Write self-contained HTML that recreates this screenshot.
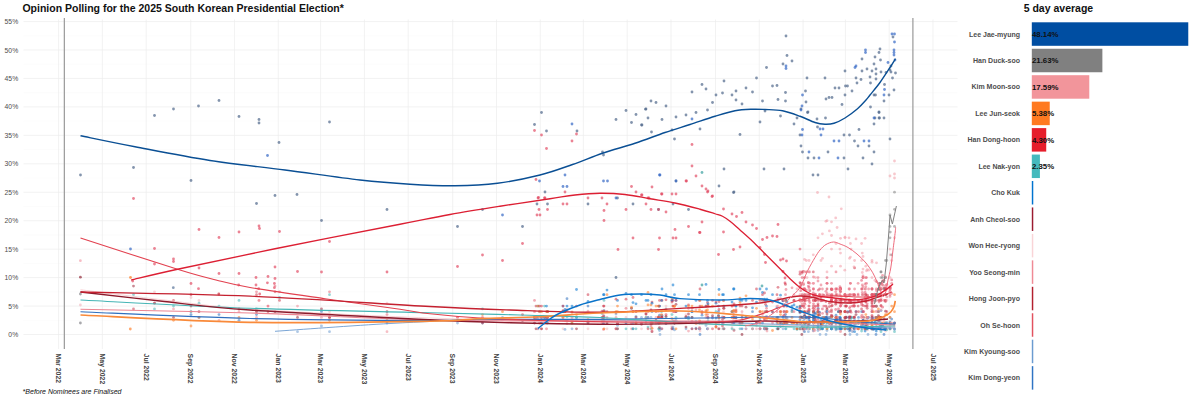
<!DOCTYPE html><html><head><meta charset="utf-8"><style>html,body{margin:0;padding:0;background:#fff}body{width:1200px;height:400px;overflow:hidden;position:relative}</style></head><body><svg width="1200" height="400" viewBox="0 0 1200 400" style="position:absolute;left:0;top:0;font-family:'Liberation Sans',sans-serif">
<rect width="1200" height="400" fill="#fff"/>
<path d="M23.5 320.27H957.5M23.5 291.82H957.5M23.5 263.38H957.5M23.5 234.93H957.5M23.5 206.47H957.5M23.5 178.02H957.5M23.5 149.57H957.5M23.5 121.12H957.5M23.5 92.67H957.5M23.5 64.22H957.5M23.5 35.77H957.5" stroke="#f8f8f8" stroke-width="0.5" fill="none"/>
<path d="M23.5 334.50H957.5M23.5 306.05H957.5M23.5 277.60H957.5M23.5 249.15H957.5M23.5 220.70H957.5M23.5 192.25H957.5M23.5 163.80H957.5M23.5 135.35H957.5M23.5 106.90H957.5M23.5 78.45H957.5M23.5 50.00H957.5M23.5 21.55H957.5M58.60 19.5V349M102.39 19.5V349M146.18 19.5V349M190.69 19.5V349M234.49 19.5V349M278.28 19.5V349M320.63 19.5V349M364.43 19.5V349M408.22 19.5V349M452.73 19.5V349M496.52 19.5V349M540.31 19.5V349M583.38 19.5V349M627.18 19.5V349M670.97 19.5V349M715.48 19.5V349M759.27 19.5V349M803.06 19.5V349M845.42 19.5V349M889.21 19.5V349M933.00 19.5V349" stroke="#ededed" stroke-width="0.7" fill="none"/>
<path d="M64.34 18V349" stroke="#999" stroke-width="1.2" fill="none"/>
<path d="M912.90 18V349" stroke="#999" stroke-width="1.2" fill="none"/>
<text x="18.2" y="337.00" font-size="6.8" fill="#4d4d4d" text-anchor="end">0%</text>
<text x="18.2" y="308.55" font-size="6.8" fill="#4d4d4d" text-anchor="end">5%</text>
<text x="18.2" y="280.10" font-size="6.8" fill="#4d4d4d" text-anchor="end">10%</text>
<text x="18.2" y="251.65" font-size="6.8" fill="#4d4d4d" text-anchor="end">15%</text>
<text x="18.2" y="223.20" font-size="6.8" fill="#4d4d4d" text-anchor="end">20%</text>
<text x="18.2" y="194.75" font-size="6.8" fill="#4d4d4d" text-anchor="end">25%</text>
<text x="18.2" y="166.30" font-size="6.8" fill="#4d4d4d" text-anchor="end">30%</text>
<text x="18.2" y="137.85" font-size="6.8" fill="#4d4d4d" text-anchor="end">35%</text>
<text x="18.2" y="109.40" font-size="6.8" fill="#4d4d4d" text-anchor="end">40%</text>
<text x="18.2" y="80.95" font-size="6.8" fill="#4d4d4d" text-anchor="end">45%</text>
<text x="18.2" y="52.50" font-size="6.8" fill="#4d4d4d" text-anchor="end">50%</text>
<text x="18.2" y="24.05" font-size="6.8" fill="#4d4d4d" text-anchor="end">55%</text>
<text transform="translate(56.30 353.6) rotate(90)" font-size="6.9" font-weight="bold" fill="#444">Mar 2022</text>
<text transform="translate(100.09 353.6) rotate(90)" font-size="6.9" font-weight="bold" fill="#444">May 2022</text>
<text transform="translate(143.88 353.6) rotate(90)" font-size="6.9" font-weight="bold" fill="#444">Jul 2022</text>
<text transform="translate(188.39 353.6) rotate(90)" font-size="6.9" font-weight="bold" fill="#444">Sep 2022</text>
<text transform="translate(232.19 353.6) rotate(90)" font-size="6.9" font-weight="bold" fill="#444">Nov 2022</text>
<text transform="translate(275.98 353.6) rotate(90)" font-size="6.9" font-weight="bold" fill="#444">Jan 2023</text>
<text transform="translate(318.33 353.6) rotate(90)" font-size="6.9" font-weight="bold" fill="#444">Mar 2023</text>
<text transform="translate(362.13 353.6) rotate(90)" font-size="6.9" font-weight="bold" fill="#444">May 2023</text>
<text transform="translate(405.92 353.6) rotate(90)" font-size="6.9" font-weight="bold" fill="#444">Jul 2023</text>
<text transform="translate(450.43 353.6) rotate(90)" font-size="6.9" font-weight="bold" fill="#444">Sep 2023</text>
<text transform="translate(494.22 353.6) rotate(90)" font-size="6.9" font-weight="bold" fill="#444">Nov 2023</text>
<text transform="translate(538.01 353.6) rotate(90)" font-size="6.9" font-weight="bold" fill="#444">Jan 2024</text>
<text transform="translate(581.08 353.6) rotate(90)" font-size="6.9" font-weight="bold" fill="#444">Mar 2024</text>
<text transform="translate(624.88 353.6) rotate(90)" font-size="6.9" font-weight="bold" fill="#444">May 2024</text>
<text transform="translate(668.67 353.6) rotate(90)" font-size="6.9" font-weight="bold" fill="#444">Jul 2024</text>
<text transform="translate(713.18 353.6) rotate(90)" font-size="6.9" font-weight="bold" fill="#444">Sep 2024</text>
<text transform="translate(756.97 353.6) rotate(90)" font-size="6.9" font-weight="bold" fill="#444">Nov 2024</text>
<text transform="translate(800.76 353.6) rotate(90)" font-size="6.9" font-weight="bold" fill="#444">Jan 2025</text>
<text transform="translate(843.12 353.6) rotate(90)" font-size="6.9" font-weight="bold" fill="#444">Mar 2025</text>
<text transform="translate(886.91 353.6) rotate(90)" font-size="6.9" font-weight="bold" fill="#444">May 2025</text>
<text transform="translate(930.70 353.6) rotate(90)" font-size="6.9" font-weight="bold" fill="#444">Jul 2025</text>
<text x="22.4" y="11.8" font-size="10.5" font-weight="bold" fill="#111">Opinion Polling for the 2025 South Korean Presidential Election*</text>
<text x="22.6" y="394.1" font-size="7" font-style="italic" fill="#111">*Before Nominees are Finalised</text>
<text x="1023.7" y="11.8" font-size="10.5" font-weight="bold" fill="#111">5 day average</text>
<rect x="1031.8" y="22.30" width="156.47" height="23.5" fill="#004ea2"/>
<text x="1020" y="36.55" font-size="7" font-weight="bold" fill="#4d4d4d" text-anchor="end">Lee Jae-myung</text>
<text x="1032" y="36.95" font-size="7.8" font-weight="bold" fill="#111">48.14%</text>
<rect x="1031.8" y="48.75" width="70.58" height="23.5" fill="#808080"/>
<text x="1020" y="63.00" font-size="7" font-weight="bold" fill="#4d4d4d" text-anchor="end">Han Duck-soo</text>
<text x="1032" y="63.40" font-size="7.8" font-weight="bold" fill="#111">21.63%</text>
<rect x="1031.8" y="75.20" width="57.49" height="23.5" fill="#f2959b"/>
<text x="1020" y="89.45" font-size="7" font-weight="bold" fill="#4d4d4d" text-anchor="end">Kim Moon-soo</text>
<text x="1032" y="89.85" font-size="7.8" font-weight="bold" fill="#111">17.59%</text>
<rect x="1031.8" y="101.65" width="17.93" height="23.5" fill="#ff7a21"/>
<text x="1020" y="115.90" font-size="7" font-weight="bold" fill="#4d4d4d" text-anchor="end">Lee Jun-seok</text>
<text x="1032" y="116.30" font-size="7.8" font-weight="bold" fill="#111">5.38%</text>
<rect x="1031.8" y="128.10" width="14.43" height="23.5" fill="#e61e2b"/>
<text x="1020" y="142.35" font-size="7" font-weight="bold" fill="#4d4d4d" text-anchor="end">Han Dong-hoon</text>
<text x="1032" y="142.75" font-size="7.8" font-weight="bold" fill="#111">4.30%</text>
<rect x="1031.8" y="154.55" width="8.11" height="23.5" fill="#45babd"/>
<text x="1020" y="168.80" font-size="7" font-weight="bold" fill="#4d4d4d" text-anchor="end">Lee Nak-yon</text>
<text x="1032" y="169.20" font-size="7.8" font-weight="bold" fill="#111">2.35%</text>
<rect x="1031.8" y="181.00" width="1.47" height="23.5" fill="#0073cf"/>
<text x="1020" y="195.25" font-size="7" font-weight="bold" fill="#4d4d4d" text-anchor="end">Cho Kuk</text>
<rect x="1031.8" y="207.45" width="1.47" height="23.5" fill="#9b1b30"/>
<text x="1020" y="221.70" font-size="7" font-weight="bold" fill="#4d4d4d" text-anchor="end">Anh Cheol-soo</text>
<rect x="1031.8" y="233.90" width="1.47" height="23.5" fill="#f9d4d7"/>
<text x="1020" y="248.15" font-size="7" font-weight="bold" fill="#4d4d4d" text-anchor="end">Won Hee-ryong</text>
<rect x="1031.8" y="260.35" width="1.47" height="23.5" fill="#ef8a95"/>
<text x="1020" y="274.60" font-size="7" font-weight="bold" fill="#4d4d4d" text-anchor="end">Yoo Seong-min</text>
<rect x="1031.8" y="286.80" width="1.47" height="23.5" fill="#b3202f"/>
<text x="1020" y="301.05" font-size="7" font-weight="bold" fill="#4d4d4d" text-anchor="end">Hong Joon-pyo</text>
<rect x="1031.8" y="313.25" width="1.47" height="23.5" fill="#e2525f"/>
<text x="1020" y="327.50" font-size="7" font-weight="bold" fill="#4d4d4d" text-anchor="end">Oh Se-hoon</text>
<rect x="1031.8" y="339.70" width="1.47" height="23.5" fill="#6b9bd0"/>
<text x="1020" y="353.95" font-size="7" font-weight="bold" fill="#4d4d4d" text-anchor="end">Kim Kyoung-soo</text>
<rect x="1031.8" y="366.15" width="1.47" height="23.5" fill="#2f74c4"/>
<text x="1020" y="380.40" font-size="7" font-weight="bold" fill="#4d4d4d" text-anchor="end">Kim Dong-yeon</text>
<!--DOTS-->
<circle cx="80.5" cy="175.0" r="1.4" fill="#536b8e" fill-opacity="0.72"/><circle cx="133.5" cy="167.5" r="1.4" fill="#536b8e" fill-opacity="0.72"/><circle cx="154.5" cy="115.5" r="1.4" fill="#536b8e" fill-opacity="0.72"/><circle cx="173.5" cy="109.0" r="1.4" fill="#536b8e" fill-opacity="0.72"/><circle cx="198.5" cy="106.0" r="1.4" fill="#536b8e" fill-opacity="0.72"/><circle cx="219.0" cy="100.5" r="1.4" fill="#536b8e" fill-opacity="0.72"/><circle cx="239.0" cy="116.5" r="1.4" fill="#536b8e" fill-opacity="0.72"/><circle cx="259.0" cy="119.5" r="1.4" fill="#536b8e" fill-opacity="0.72"/><circle cx="259.0" cy="123.0" r="1.4" fill="#536b8e" fill-opacity="0.72"/><circle cx="279.0" cy="142.5" r="1.4" fill="#536b8e" fill-opacity="0.72"/><circle cx="191.0" cy="180.5" r="1.4" fill="#536b8e" fill-opacity="0.72"/><circle cx="275.0" cy="195.5" r="1.4" fill="#536b8e" fill-opacity="0.72"/><circle cx="297.0" cy="194.5" r="1.4" fill="#536b8e" fill-opacity="0.72"/><circle cx="329.5" cy="122.0" r="1.4" fill="#536b8e" fill-opacity="0.72"/><circle cx="256.5" cy="203.5" r="1.4" fill="#536b8e" fill-opacity="0.72"/><circle cx="321.5" cy="220.5" r="1.4" fill="#536b8e" fill-opacity="0.72"/><circle cx="387.0" cy="209.5" r="1.4" fill="#536b8e" fill-opacity="0.72"/><circle cx="534.5" cy="124.5" r="1.4" fill="#536b8e" fill-opacity="0.72"/><circle cx="541.5" cy="112.5" r="1.4" fill="#536b8e" fill-opacity="0.72"/><circle cx="546.5" cy="131.0" r="1.4" fill="#536b8e" fill-opacity="0.72"/><circle cx="577.0" cy="131.0" r="1.4" fill="#536b8e" fill-opacity="0.72"/><circle cx="602.5" cy="152.0" r="1.4" fill="#536b8e" fill-opacity="0.72"/><circle cx="603.5" cy="155.0" r="1.4" fill="#536b8e" fill-opacity="0.72"/><circle cx="616.0" cy="119.5" r="1.4" fill="#536b8e" fill-opacity="0.72"/><circle cx="626.0" cy="110.5" r="1.4" fill="#536b8e" fill-opacity="0.72"/><circle cx="631.5" cy="122.5" r="1.4" fill="#536b8e" fill-opacity="0.72"/><circle cx="636.0" cy="114.5" r="1.4" fill="#536b8e" fill-opacity="0.72"/><circle cx="641.5" cy="125.0" r="1.4" fill="#536b8e" fill-opacity="0.72"/><circle cx="646.0" cy="109.0" r="1.4" fill="#536b8e" fill-opacity="0.72"/><circle cx="648.0" cy="118.0" r="1.4" fill="#536b8e" fill-opacity="0.72"/><circle cx="651.0" cy="101.0" r="1.4" fill="#536b8e" fill-opacity="0.72"/><circle cx="651.5" cy="132.0" r="1.4" fill="#536b8e" fill-opacity="0.72"/><circle cx="545.0" cy="192.0" r="1.4" fill="#536b8e" fill-opacity="0.72"/><circle cx="457.5" cy="226.5" r="1.4" fill="#536b8e" fill-opacity="0.72"/><circle cx="482.5" cy="209.5" r="1.4" fill="#536b8e" fill-opacity="0.72"/><circle cx="522.5" cy="226.5" r="1.4" fill="#536b8e" fill-opacity="0.72"/><circle cx="537.0" cy="204.0" r="1.4" fill="#536b8e" fill-opacity="0.72"/><circle cx="547.5" cy="204.0" r="1.4" fill="#536b8e" fill-opacity="0.72"/><circle cx="588.0" cy="204.0" r="1.4" fill="#536b8e" fill-opacity="0.72"/><circle cx="617.5" cy="198.0" r="1.4" fill="#536b8e" fill-opacity="0.72"/><circle cx="633.0" cy="204.0" r="1.4" fill="#536b8e" fill-opacity="0.72"/><circle cx="658.5" cy="209.5" r="1.4" fill="#536b8e" fill-opacity="0.72"/><circle cx="673.0" cy="204.0" r="1.4" fill="#536b8e" fill-opacity="0.72"/><circle cx="676.0" cy="181.0" r="1.4" fill="#536b8e" fill-opacity="0.72"/><circle cx="688.5" cy="209.5" r="1.4" fill="#536b8e" fill-opacity="0.72"/><circle cx="616.0" cy="277.5" r="1.4" fill="#536b8e" fill-opacity="0.72"/><circle cx="645.5" cy="109.2" r="1.4" fill="#536b8e" fill-opacity="0.72"/><circle cx="656.0" cy="102.5" r="1.4" fill="#536b8e" fill-opacity="0.72"/><circle cx="662.0" cy="119.5" r="1.4" fill="#536b8e" fill-opacity="0.72"/><circle cx="666.0" cy="106.0" r="1.4" fill="#536b8e" fill-opacity="0.72"/><circle cx="676.0" cy="117.0" r="1.4" fill="#536b8e" fill-opacity="0.72"/><circle cx="686.0" cy="115.0" r="1.4" fill="#536b8e" fill-opacity="0.72"/><circle cx="692.0" cy="92.0" r="1.4" fill="#536b8e" fill-opacity="0.72"/><circle cx="696.0" cy="112.5" r="1.4" fill="#536b8e" fill-opacity="0.72"/><circle cx="702.0" cy="84.5" r="1.4" fill="#536b8e" fill-opacity="0.72"/><circle cx="706.0" cy="89.0" r="1.4" fill="#536b8e" fill-opacity="0.72"/><circle cx="707.5" cy="110.0" r="1.4" fill="#536b8e" fill-opacity="0.72"/><circle cx="712.5" cy="102.5" r="1.4" fill="#536b8e" fill-opacity="0.72"/><circle cx="716.0" cy="95.0" r="1.4" fill="#536b8e" fill-opacity="0.72"/><circle cx="722.5" cy="93.0" r="1.4" fill="#536b8e" fill-opacity="0.72"/><circle cx="724.0" cy="81.0" r="1.4" fill="#536b8e" fill-opacity="0.72"/><circle cx="732.0" cy="95.0" r="1.4" fill="#536b8e" fill-opacity="0.72"/><circle cx="736.0" cy="91.0" r="1.4" fill="#536b8e" fill-opacity="0.72"/><circle cx="736.0" cy="100.0" r="1.4" fill="#536b8e" fill-opacity="0.72"/><circle cx="742.0" cy="104.0" r="1.4" fill="#536b8e" fill-opacity="0.72"/><circle cx="746.0" cy="88.0" r="1.4" fill="#536b8e" fill-opacity="0.72"/><circle cx="752.5" cy="92.0" r="1.4" fill="#536b8e" fill-opacity="0.72"/><circle cx="756.5" cy="78.0" r="1.4" fill="#536b8e" fill-opacity="0.72"/><circle cx="762.5" cy="101.0" r="1.4" fill="#536b8e" fill-opacity="0.72"/><circle cx="765.0" cy="111.0" r="1.4" fill="#536b8e" fill-opacity="0.72"/><circle cx="766.5" cy="67.5" r="1.4" fill="#536b8e" fill-opacity="0.72"/><circle cx="772.5" cy="86.0" r="1.4" fill="#536b8e" fill-opacity="0.72"/><circle cx="777.0" cy="85.5" r="1.4" fill="#536b8e" fill-opacity="0.72"/><circle cx="778.0" cy="99.5" r="1.4" fill="#536b8e" fill-opacity="0.72"/><circle cx="780.5" cy="116.0" r="1.4" fill="#536b8e" fill-opacity="0.72"/><circle cx="783.0" cy="64.0" r="1.4" fill="#536b8e" fill-opacity="0.72"/><circle cx="786.0" cy="36.0" r="1.4" fill="#536b8e" fill-opacity="0.72"/><circle cx="787.0" cy="55.5" r="1.4" fill="#536b8e" fill-opacity="0.72"/><circle cx="792.0" cy="61.0" r="1.4" fill="#536b8e" fill-opacity="0.72"/><circle cx="785.5" cy="92.5" r="1.4" fill="#536b8e" fill-opacity="0.72"/><circle cx="785.5" cy="101.0" r="1.4" fill="#536b8e" fill-opacity="0.72"/><circle cx="797.0" cy="118.0" r="1.4" fill="#536b8e" fill-opacity="0.72"/><circle cx="805.5" cy="91.0" r="1.4" fill="#536b8e" fill-opacity="0.72"/><circle cx="806.0" cy="102.0" r="1.4" fill="#536b8e" fill-opacity="0.72"/><circle cx="807.0" cy="78.0" r="1.4" fill="#536b8e" fill-opacity="0.72"/><circle cx="801.0" cy="109.0" r="1.4" fill="#536b8e" fill-opacity="0.72"/><circle cx="807.5" cy="112.5" r="1.4" fill="#536b8e" fill-opacity="0.72"/><circle cx="817.0" cy="119.0" r="1.4" fill="#536b8e" fill-opacity="0.72"/><circle cx="825.0" cy="78.0" r="1.4" fill="#536b8e" fill-opacity="0.72"/><circle cx="825.5" cy="118.0" r="1.4" fill="#536b8e" fill-opacity="0.72"/><circle cx="826.0" cy="99.0" r="1.4" fill="#536b8e" fill-opacity="0.72"/><circle cx="829.0" cy="97.5" r="1.4" fill="#536b8e" fill-opacity="0.72"/><circle cx="832.0" cy="97.5" r="1.4" fill="#536b8e" fill-opacity="0.72"/><circle cx="835.0" cy="88.0" r="1.4" fill="#536b8e" fill-opacity="0.72"/><circle cx="839.0" cy="88.0" r="1.4" fill="#536b8e" fill-opacity="0.72"/><circle cx="842.0" cy="104.5" r="1.4" fill="#536b8e" fill-opacity="0.72"/><circle cx="845.0" cy="95.0" r="1.4" fill="#536b8e" fill-opacity="0.72"/><circle cx="845.0" cy="71.0" r="1.4" fill="#536b8e" fill-opacity="0.72"/><circle cx="845.5" cy="86.0" r="1.4" fill="#536b8e" fill-opacity="0.72"/><circle cx="847.5" cy="86.0" r="1.4" fill="#536b8e" fill-opacity="0.72"/><circle cx="852.0" cy="91.0" r="1.4" fill="#536b8e" fill-opacity="0.72"/><circle cx="856.0" cy="78.0" r="1.4" fill="#536b8e" fill-opacity="0.72"/><circle cx="857.0" cy="83.0" r="1.4" fill="#536b8e" fill-opacity="0.72"/><circle cx="861.0" cy="79.5" r="1.4" fill="#536b8e" fill-opacity="0.72"/><circle cx="862.0" cy="71.0" r="1.4" fill="#536b8e" fill-opacity="0.72"/><circle cx="862.0" cy="59.0" r="1.4" fill="#536b8e" fill-opacity="0.72"/><circle cx="867.0" cy="69.0" r="1.4" fill="#536b8e" fill-opacity="0.72"/><circle cx="870.0" cy="77.0" r="1.4" fill="#536b8e" fill-opacity="0.72"/><circle cx="870.5" cy="83.0" r="1.4" fill="#536b8e" fill-opacity="0.72"/><circle cx="870.5" cy="107.0" r="1.4" fill="#536b8e" fill-opacity="0.72"/><circle cx="872.0" cy="71.0" r="1.4" fill="#536b8e" fill-opacity="0.72"/><circle cx="874.0" cy="64.0" r="1.4" fill="#536b8e" fill-opacity="0.72"/><circle cx="875.0" cy="57.0" r="1.4" fill="#536b8e" fill-opacity="0.72"/><circle cx="876.0" cy="74.0" r="1.4" fill="#536b8e" fill-opacity="0.72"/><circle cx="876.0" cy="69.0" r="1.4" fill="#536b8e" fill-opacity="0.72"/><circle cx="876.0" cy="79.0" r="1.4" fill="#536b8e" fill-opacity="0.72"/><circle cx="874.0" cy="95.0" r="1.4" fill="#536b8e" fill-opacity="0.72"/><circle cx="875.5" cy="95.0" r="1.4" fill="#536b8e" fill-opacity="0.72"/><circle cx="879.0" cy="52.5" r="1.4" fill="#536b8e" fill-opacity="0.72"/><circle cx="880.0" cy="49.0" r="1.4" fill="#536b8e" fill-opacity="0.72"/><circle cx="880.5" cy="60.0" r="1.4" fill="#536b8e" fill-opacity="0.72"/><circle cx="881.0" cy="72.0" r="1.4" fill="#536b8e" fill-opacity="0.72"/><circle cx="879.0" cy="112.5" r="1.4" fill="#536b8e" fill-opacity="0.72"/><circle cx="875.0" cy="118.0" r="1.4" fill="#536b8e" fill-opacity="0.72"/><circle cx="879.5" cy="118.0" r="1.4" fill="#536b8e" fill-opacity="0.72"/><circle cx="884.0" cy="118.0" r="1.4" fill="#536b8e" fill-opacity="0.72"/><circle cx="884.0" cy="101.0" r="1.4" fill="#536b8e" fill-opacity="0.72"/><circle cx="884.5" cy="84.5" r="1.4" fill="#536b8e" fill-opacity="0.72"/><circle cx="886.0" cy="72.5" r="1.4" fill="#536b8e" fill-opacity="0.72"/><circle cx="889.0" cy="95.0" r="1.4" fill="#536b8e" fill-opacity="0.72"/><circle cx="890.0" cy="70.0" r="1.4" fill="#536b8e" fill-opacity="0.72"/><circle cx="891.0" cy="66.0" r="1.4" fill="#536b8e" fill-opacity="0.72"/><circle cx="893.0" cy="37.0" r="1.4" fill="#536b8e" fill-opacity="0.72"/><circle cx="892.5" cy="78.0" r="1.4" fill="#536b8e" fill-opacity="0.72"/><circle cx="895.5" cy="73.0" r="1.4" fill="#536b8e" fill-opacity="0.72"/><circle cx="894.0" cy="90.0" r="1.4" fill="#536b8e" fill-opacity="0.72"/><circle cx="891.0" cy="72.0" r="1.4" fill="#536b8e" fill-opacity="0.72"/><circle cx="642.0" cy="125.0" r="1.4" fill="#536b8e" fill-opacity="0.72"/><circle cx="672.0" cy="130.0" r="1.4" fill="#536b8e" fill-opacity="0.72"/><circle cx="674.5" cy="139.0" r="1.4" fill="#536b8e" fill-opacity="0.72"/><circle cx="700.0" cy="129.0" r="1.4" fill="#536b8e" fill-opacity="0.72"/><circle cx="740.0" cy="134.5" r="1.4" fill="#536b8e" fill-opacity="0.72"/><circle cx="760.0" cy="122.0" r="1.4" fill="#536b8e" fill-opacity="0.72"/><circle cx="794.0" cy="124.0" r="1.4" fill="#536b8e" fill-opacity="0.72"/><circle cx="800.0" cy="135.0" r="1.4" fill="#536b8e" fill-opacity="0.72"/><circle cx="801.0" cy="146.0" r="1.4" fill="#536b8e" fill-opacity="0.72"/><circle cx="802.5" cy="152.0" r="1.4" fill="#536b8e" fill-opacity="0.72"/><circle cx="808.0" cy="112.0" r="1.4" fill="#536b8e" fill-opacity="0.72"/><circle cx="808.0" cy="158.0" r="1.4" fill="#536b8e" fill-opacity="0.72"/><circle cx="814.0" cy="158.0" r="1.4" fill="#536b8e" fill-opacity="0.72"/><circle cx="813.0" cy="175.0" r="1.4" fill="#536b8e" fill-opacity="0.72"/><circle cx="818.0" cy="175.0" r="1.4" fill="#536b8e" fill-opacity="0.72"/><circle cx="817.5" cy="127.0" r="1.4" fill="#536b8e" fill-opacity="0.72"/><circle cx="828.0" cy="152.0" r="1.4" fill="#536b8e" fill-opacity="0.72"/><circle cx="844.0" cy="158.0" r="1.4" fill="#536b8e" fill-opacity="0.72"/><circle cx="844.0" cy="135.0" r="1.4" fill="#536b8e" fill-opacity="0.72"/><circle cx="849.5" cy="135.0" r="1.4" fill="#536b8e" fill-opacity="0.72"/><circle cx="848.0" cy="169.0" r="1.4" fill="#536b8e" fill-opacity="0.72"/><circle cx="854.5" cy="141.0" r="1.4" fill="#536b8e" fill-opacity="0.72"/><circle cx="858.0" cy="146.0" r="1.4" fill="#536b8e" fill-opacity="0.72"/><circle cx="859.0" cy="129.5" r="1.4" fill="#536b8e" fill-opacity="0.72"/><circle cx="863.0" cy="158.0" r="1.4" fill="#536b8e" fill-opacity="0.72"/><circle cx="869.0" cy="146.0" r="1.4" fill="#536b8e" fill-opacity="0.72"/><circle cx="872.0" cy="164.0" r="1.4" fill="#536b8e" fill-opacity="0.72"/><circle cx="874.0" cy="152.0" r="1.4" fill="#536b8e" fill-opacity="0.72"/><circle cx="879.0" cy="118.0" r="1.4" fill="#536b8e" fill-opacity="0.72"/><circle cx="874.0" cy="124.0" r="1.4" fill="#536b8e" fill-opacity="0.72"/><circle cx="879.0" cy="112.0" r="1.4" fill="#536b8e" fill-opacity="0.72"/><circle cx="890.0" cy="139.0" r="1.4" fill="#536b8e" fill-opacity="0.72"/><circle cx="724.0" cy="169.0" r="1.4" fill="#536b8e" fill-opacity="0.72"/><circle cx="764.0" cy="169.0" r="1.4" fill="#536b8e" fill-opacity="0.72"/><circle cx="784.0" cy="169.0" r="1.4" fill="#536b8e" fill-opacity="0.72"/><circle cx="719.0" cy="186.0" r="1.4" fill="#536b8e" fill-opacity="0.72"/><circle cx="734.0" cy="192.0" r="1.4" fill="#536b8e" fill-opacity="0.72"/><circle cx="733.5" cy="192.5" r="1.4" fill="#536b8e" fill-opacity="0.72"/><circle cx="267.5" cy="155.5" r="1.4" fill="#3366c4" fill-opacity="0.7"/><circle cx="130.5" cy="249.0" r="1.4" fill="#3366c4" fill-opacity="0.7"/><circle cx="572.0" cy="124.0" r="1.4" fill="#3366c4" fill-opacity="0.7"/><circle cx="565.0" cy="175.0" r="1.4" fill="#3366c4" fill-opacity="0.7"/><circle cx="539.5" cy="181.0" r="1.4" fill="#3366c4" fill-opacity="0.7"/><circle cx="563.0" cy="186.5" r="1.4" fill="#3366c4" fill-opacity="0.7"/><circle cx="567.0" cy="186.5" r="1.4" fill="#3366c4" fill-opacity="0.7"/><circle cx="603.5" cy="181.0" r="1.4" fill="#3366c4" fill-opacity="0.7"/><circle cx="607.5" cy="181.0" r="1.4" fill="#3366c4" fill-opacity="0.7"/><circle cx="659.5" cy="175.0" r="1.4" fill="#3366c4" fill-opacity="0.7"/><circle cx="616.0" cy="198.0" r="1.4" fill="#3366c4" fill-opacity="0.7"/><circle cx="502.5" cy="215.0" r="1.4" fill="#3366c4" fill-opacity="0.7"/><circle cx="786.0" cy="66.0" r="1.4" fill="#3366c4" fill-opacity="0.7"/><circle cx="786.0" cy="68.5" r="1.4" fill="#3366c4" fill-opacity="0.7"/><circle cx="802.0" cy="106.0" r="1.4" fill="#3366c4" fill-opacity="0.7"/><circle cx="802.5" cy="95.0" r="1.4" fill="#3366c4" fill-opacity="0.7"/><circle cx="855.0" cy="67.5" r="1.4" fill="#3366c4" fill-opacity="0.7"/><circle cx="856.0" cy="66.0" r="1.4" fill="#3366c4" fill-opacity="0.7"/><circle cx="865.5" cy="50.0" r="1.4" fill="#3366c4" fill-opacity="0.7"/><circle cx="865.5" cy="52.5" r="1.4" fill="#3366c4" fill-opacity="0.7"/><circle cx="884.0" cy="95.0" r="1.4" fill="#3366c4" fill-opacity="0.7"/><circle cx="884.5" cy="89.5" r="1.4" fill="#3366c4" fill-opacity="0.7"/><circle cx="888.0" cy="62.5" r="1.4" fill="#3366c4" fill-opacity="0.7"/><circle cx="892.0" cy="34.0" r="1.4" fill="#3366c4" fill-opacity="0.7"/><circle cx="894.5" cy="34.0" r="1.4" fill="#3366c4" fill-opacity="0.7"/><circle cx="894.5" cy="42.0" r="1.4" fill="#3366c4" fill-opacity="0.7"/><circle cx="894.0" cy="50.0" r="1.4" fill="#3366c4" fill-opacity="0.7"/><circle cx="894.0" cy="52.5" r="1.4" fill="#3366c4" fill-opacity="0.7"/><circle cx="894.0" cy="55.0" r="1.4" fill="#3366c4" fill-opacity="0.7"/><circle cx="895.0" cy="60.0" r="1.4" fill="#3366c4" fill-opacity="0.7"/><circle cx="692.0" cy="119.0" r="1.4" fill="#3366c4" fill-opacity="0.7"/><circle cx="801.0" cy="110.0" r="1.4" fill="#3366c4" fill-opacity="0.7"/><circle cx="802.5" cy="129.5" r="1.4" fill="#3366c4" fill-opacity="0.7"/><circle cx="802.0" cy="135.0" r="1.4" fill="#3366c4" fill-opacity="0.7"/><circle cx="809.0" cy="152.0" r="1.4" fill="#3366c4" fill-opacity="0.7"/><circle cx="819.0" cy="158.0" r="1.4" fill="#3366c4" fill-opacity="0.7"/><circle cx="820.0" cy="129.0" r="1.4" fill="#3366c4" fill-opacity="0.7"/><circle cx="823.0" cy="129.0" r="1.4" fill="#3366c4" fill-opacity="0.7"/><circle cx="821.0" cy="135.0" r="1.4" fill="#3366c4" fill-opacity="0.7"/><circle cx="834.0" cy="141.0" r="1.4" fill="#3366c4" fill-opacity="0.7"/><circle cx="839.0" cy="141.0" r="1.4" fill="#3366c4" fill-opacity="0.7"/><circle cx="838.0" cy="158.0" r="1.4" fill="#3366c4" fill-opacity="0.7"/><circle cx="864.0" cy="141.0" r="1.4" fill="#3366c4" fill-opacity="0.7"/><circle cx="869.0" cy="141.0" r="1.4" fill="#3366c4" fill-opacity="0.7"/><circle cx="874.0" cy="118.0" r="1.4" fill="#3366c4" fill-opacity="0.7"/><circle cx="660.0" cy="175.0" r="1.4" fill="#3366c4" fill-opacity="0.7"/><circle cx="676.0" cy="181.0" r="1.4" fill="#3366c4" fill-opacity="0.7"/><circle cx="133.5" cy="198.5" r="1.4" fill="#e0405a" fill-opacity="0.65"/><circle cx="199.0" cy="229.5" r="1.4" fill="#e0405a" fill-opacity="0.65"/><circle cx="219.0" cy="237.5" r="1.4" fill="#e0405a" fill-opacity="0.65"/><circle cx="239.0" cy="232.0" r="1.4" fill="#e0405a" fill-opacity="0.65"/><circle cx="259.0" cy="226.0" r="1.4" fill="#e0405a" fill-opacity="0.65"/><circle cx="259.5" cy="228.5" r="1.4" fill="#e0405a" fill-opacity="0.65"/><circle cx="279.5" cy="231.5" r="1.4" fill="#e0405a" fill-opacity="0.65"/><circle cx="329.5" cy="241.5" r="1.4" fill="#e0405a" fill-opacity="0.65"/><circle cx="154.5" cy="248.5" r="1.4" fill="#e0405a" fill-opacity="0.65"/><circle cx="173.5" cy="259.0" r="1.4" fill="#e0405a" fill-opacity="0.65"/><circle cx="173.5" cy="261.5" r="1.4" fill="#e0405a" fill-opacity="0.65"/><circle cx="154.5" cy="264.0" r="1.4" fill="#e0405a" fill-opacity="0.65"/><circle cx="199.0" cy="268.0" r="1.4" fill="#e0405a" fill-opacity="0.65"/><circle cx="219.0" cy="273.5" r="1.4" fill="#e0405a" fill-opacity="0.65"/><circle cx="239.0" cy="273.5" r="1.4" fill="#e0405a" fill-opacity="0.65"/><circle cx="275.0" cy="267.0" r="1.4" fill="#e0405a" fill-opacity="0.65"/><circle cx="297.5" cy="271.5" r="1.4" fill="#e0405a" fill-opacity="0.65"/><circle cx="321.5" cy="272.0" r="1.4" fill="#e0405a" fill-opacity="0.65"/><circle cx="387.0" cy="272.0" r="1.4" fill="#e0405a" fill-opacity="0.65"/><circle cx="256.0" cy="277.5" r="1.4" fill="#e0405a" fill-opacity="0.65"/><circle cx="268.0" cy="276.5" r="1.4" fill="#e0405a" fill-opacity="0.65"/><circle cx="275.0" cy="278.5" r="1.4" fill="#e0405a" fill-opacity="0.65"/><circle cx="534.5" cy="130.5" r="1.4" fill="#e0405a" fill-opacity="0.65"/><circle cx="541.5" cy="135.0" r="1.4" fill="#e0405a" fill-opacity="0.65"/><circle cx="546.5" cy="148.5" r="1.4" fill="#e0405a" fill-opacity="0.65"/><circle cx="576.5" cy="134.0" r="1.4" fill="#e0405a" fill-opacity="0.65"/><circle cx="572.0" cy="141.0" r="1.4" fill="#e0405a" fill-opacity="0.65"/><circle cx="536.0" cy="179.5" r="1.4" fill="#e0405a" fill-opacity="0.65"/><circle cx="565.0" cy="192.0" r="1.4" fill="#e0405a" fill-opacity="0.65"/><circle cx="538.5" cy="197.5" r="1.4" fill="#e0405a" fill-opacity="0.65"/><circle cx="544.5" cy="198.0" r="1.4" fill="#e0405a" fill-opacity="0.65"/><circle cx="588.0" cy="198.0" r="1.4" fill="#e0405a" fill-opacity="0.65"/><circle cx="602.0" cy="198.0" r="1.4" fill="#e0405a" fill-opacity="0.65"/><circle cx="631.5" cy="186.5" r="1.4" fill="#e0405a" fill-opacity="0.65"/><circle cx="636.0" cy="192.0" r="1.4" fill="#e0405a" fill-opacity="0.65"/><circle cx="641.5" cy="195.0" r="1.4" fill="#e0405a" fill-opacity="0.65"/><circle cx="648.0" cy="198.0" r="1.4" fill="#e0405a" fill-opacity="0.65"/><circle cx="652.0" cy="187.0" r="1.4" fill="#e0405a" fill-opacity="0.65"/><circle cx="457.5" cy="266.5" r="1.4" fill="#e0405a" fill-opacity="0.65"/><circle cx="482.5" cy="255.0" r="1.4" fill="#e0405a" fill-opacity="0.65"/><circle cx="502.5" cy="260.5" r="1.4" fill="#e0405a" fill-opacity="0.65"/><circle cx="522.5" cy="243.5" r="1.4" fill="#e0405a" fill-opacity="0.65"/><circle cx="538.0" cy="198.0" r="1.4" fill="#e0405a" fill-opacity="0.65"/><circle cx="545.0" cy="198.0" r="1.4" fill="#e0405a" fill-opacity="0.65"/><circle cx="539.0" cy="209.5" r="1.4" fill="#e0405a" fill-opacity="0.65"/><circle cx="537.0" cy="215.0" r="1.4" fill="#e0405a" fill-opacity="0.65"/><circle cx="540.0" cy="215.0" r="1.4" fill="#e0405a" fill-opacity="0.65"/><circle cx="547.5" cy="209.5" r="1.4" fill="#e0405a" fill-opacity="0.65"/><circle cx="563.0" cy="204.0" r="1.4" fill="#e0405a" fill-opacity="0.65"/><circle cx="567.0" cy="204.0" r="1.4" fill="#e0405a" fill-opacity="0.65"/><circle cx="607.0" cy="204.0" r="1.4" fill="#e0405a" fill-opacity="0.65"/><circle cx="604.0" cy="210.5" r="1.4" fill="#e0405a" fill-opacity="0.65"/><circle cx="604.0" cy="220.5" r="1.4" fill="#e0405a" fill-opacity="0.65"/><circle cx="626.0" cy="209.5" r="1.4" fill="#e0405a" fill-opacity="0.65"/><circle cx="618.0" cy="249.5" r="1.4" fill="#e0405a" fill-opacity="0.65"/><circle cx="646.0" cy="204.0" r="1.4" fill="#e0405a" fill-opacity="0.65"/><circle cx="651.0" cy="209.5" r="1.4" fill="#e0405a" fill-opacity="0.65"/><circle cx="658.5" cy="209.5" r="1.4" fill="#e0405a" fill-opacity="0.65"/><circle cx="666.0" cy="212.0" r="1.4" fill="#e0405a" fill-opacity="0.65"/><circle cx="661.5" cy="194.0" r="1.4" fill="#e0405a" fill-opacity="0.65"/><circle cx="672.0" cy="194.0" r="1.4" fill="#e0405a" fill-opacity="0.65"/><circle cx="676.0" cy="194.0" r="1.4" fill="#e0405a" fill-opacity="0.65"/><circle cx="686.5" cy="181.0" r="1.4" fill="#e0405a" fill-opacity="0.65"/><circle cx="673.0" cy="238.0" r="1.4" fill="#e0405a" fill-opacity="0.65"/><circle cx="676.0" cy="238.0" r="1.4" fill="#e0405a" fill-opacity="0.65"/><circle cx="675.0" cy="229.5" r="1.4" fill="#e0405a" fill-opacity="0.65"/><circle cx="659.5" cy="238.0" r="1.4" fill="#e0405a" fill-opacity="0.65"/><circle cx="658.5" cy="249.5" r="1.4" fill="#e0405a" fill-opacity="0.65"/><circle cx="633.0" cy="238.0" r="1.4" fill="#e0405a" fill-opacity="0.65"/><circle cx="688.5" cy="226.5" r="1.4" fill="#e0405a" fill-opacity="0.65"/><circle cx="699.5" cy="232.5" r="1.4" fill="#e0405a" fill-opacity="0.65"/><circle cx="692.0" cy="144.5" r="1.4" fill="#e0405a" fill-opacity="0.65"/><circle cx="692.0" cy="166.0" r="1.4" fill="#e0405a" fill-opacity="0.65"/><circle cx="696.0" cy="176.0" r="1.4" fill="#e0405a" fill-opacity="0.65"/><circle cx="686.0" cy="181.0" r="1.4" fill="#e0405a" fill-opacity="0.65"/><circle cx="702.0" cy="186.0" r="1.4" fill="#e0405a" fill-opacity="0.65"/><circle cx="706.0" cy="189.0" r="1.4" fill="#e0405a" fill-opacity="0.65"/><circle cx="708.0" cy="191.0" r="1.4" fill="#e0405a" fill-opacity="0.65"/><circle cx="712.5" cy="196.0" r="1.4" fill="#e0405a" fill-opacity="0.65"/><circle cx="662.0" cy="194.0" r="1.4" fill="#e0405a" fill-opacity="0.65"/><circle cx="642.0" cy="195.0" r="1.4" fill="#e0405a" fill-opacity="0.65"/><circle cx="649.0" cy="198.0" r="1.4" fill="#e0405a" fill-opacity="0.65"/><circle cx="707.5" cy="192.0" r="1.4" fill="#e0405a" fill-opacity="0.65"/><circle cx="712.0" cy="196.5" r="1.4" fill="#e0405a" fill-opacity="0.65"/><circle cx="702.0" cy="222.0" r="1.4" fill="#e0405a" fill-opacity="0.65"/><circle cx="700.0" cy="232.5" r="1.4" fill="#e0405a" fill-opacity="0.65"/><circle cx="718.5" cy="254.5" r="1.4" fill="#e0405a" fill-opacity="0.65"/><circle cx="723.5" cy="209.0" r="1.4" fill="#e0405a" fill-opacity="0.65"/><circle cx="723.5" cy="232.0" r="1.4" fill="#e0405a" fill-opacity="0.65"/><circle cx="732.0" cy="214.0" r="1.4" fill="#e0405a" fill-opacity="0.65"/><circle cx="736.5" cy="216.5" r="1.4" fill="#e0405a" fill-opacity="0.65"/><circle cx="742.0" cy="212.5" r="1.4" fill="#e0405a" fill-opacity="0.65"/><circle cx="746.0" cy="222.0" r="1.4" fill="#e0405a" fill-opacity="0.65"/><circle cx="752.5" cy="225.0" r="1.4" fill="#e0405a" fill-opacity="0.65"/><circle cx="756.5" cy="228.5" r="1.4" fill="#e0405a" fill-opacity="0.65"/><circle cx="733.5" cy="249.5" r="1.4" fill="#e0405a" fill-opacity="0.65"/><circle cx="740.0" cy="247.0" r="1.4" fill="#e0405a" fill-opacity="0.65"/><circle cx="762.5" cy="239.5" r="1.4" fill="#e0405a" fill-opacity="0.65"/><circle cx="767.0" cy="237.5" r="1.4" fill="#e0405a" fill-opacity="0.65"/><circle cx="772.5" cy="236.0" r="1.4" fill="#e0405a" fill-opacity="0.65"/><circle cx="777.0" cy="236.5" r="1.4" fill="#e0405a" fill-opacity="0.65"/><circle cx="778.0" cy="224.5" r="1.4" fill="#e0405a" fill-opacity="0.65"/><circle cx="760.0" cy="247.5" r="1.4" fill="#e0405a" fill-opacity="0.65"/><circle cx="764.5" cy="254.5" r="1.4" fill="#e0405a" fill-opacity="0.65"/><circle cx="765.5" cy="262.5" r="1.4" fill="#e0405a" fill-opacity="0.65"/><circle cx="780.5" cy="260.0" r="1.4" fill="#e0405a" fill-opacity="0.65"/><circle cx="783.0" cy="259.0" r="1.4" fill="#e0405a" fill-opacity="0.65"/><circle cx="786.5" cy="261.0" r="1.4" fill="#e0405a" fill-opacity="0.65"/><circle cx="783.0" cy="271.5" r="1.4" fill="#e0405a" fill-opacity="0.65"/><circle cx="785.0" cy="278.0" r="1.4" fill="#e0405a" fill-opacity="0.65"/><circle cx="785.0" cy="283.0" r="1.4" fill="#e0405a" fill-opacity="0.65"/><circle cx="702.0" cy="172.5" r="1.4" fill="#3a9f9f" fill-opacity="0.7"/><circle cx="702.0" cy="285.0" r="1.4" fill="#3a9f9f" fill-opacity="0.7"/><circle cx="762.0" cy="286.0" r="1.4" fill="#3a9f9f" fill-opacity="0.7"/><circle cx="890.0" cy="176.0" r="1.4" fill="#f3b0b8" fill-opacity="0.7"/><circle cx="894.5" cy="178.0" r="1.4" fill="#f3b0b8" fill-opacity="0.7"/><circle cx="817.5" cy="192.5" r="1.4" fill="#f3b0b8" fill-opacity="0.7"/><circle cx="829.0" cy="197.0" r="1.4" fill="#f3b0b8" fill-opacity="0.7"/><circle cx="894.5" cy="161.0" r="1.4" fill="#f3b0b8" fill-opacity="0.7"/><circle cx="894.5" cy="174.0" r="1.4" fill="#f3b0b8" fill-opacity="0.7"/><circle cx="130.5" cy="277.5" r="1.4" fill="#ff7a21" fill-opacity="0.7"/><circle cx="80.4" cy="260.7" r="1.4" fill="#f29aa6" fill-opacity="0.65"/><circle cx="80.4" cy="277.2" r="1.4" fill="#8b1a2b" fill-opacity="0.65"/><circle cx="80.4" cy="294.0" r="1.4" fill="#7a7a80" fill-opacity="0.65"/><circle cx="80.4" cy="305.0" r="1.4" fill="#f3b9c0" fill-opacity="0.65"/><circle cx="80.4" cy="323.0" r="1.4" fill="#7a7a80" fill-opacity="0.65"/><circle cx="130.3" cy="329.0" r="1.4" fill="#ff7a21" fill-opacity="0.65"/><circle cx="132.7" cy="281.0" r="1.4" fill="#e0405a" fill-opacity="0.65"/><circle cx="173.3" cy="287.7" r="1.4" fill="#4d6a92" fill-opacity="0.65"/><circle cx="191.0" cy="283.5" r="1.4" fill="#e0405a" fill-opacity="0.65"/><circle cx="198.5" cy="288.7" r="1.4" fill="#e0405a" fill-opacity="0.65"/><circle cx="218.8" cy="294.0" r="1.4" fill="#c4202f" fill-opacity="0.65"/><circle cx="238.7" cy="285.0" r="1.4" fill="#e0405a" fill-opacity="0.65"/><circle cx="256.0" cy="285.0" r="1.4" fill="#e0405a" fill-opacity="0.65"/><circle cx="258.7" cy="288.7" r="1.4" fill="#e0405a" fill-opacity="0.65"/><circle cx="259.7" cy="294.0" r="1.4" fill="#e0405a" fill-opacity="0.65"/><circle cx="267.4" cy="282.8" r="1.4" fill="#e0405a" fill-opacity="0.65"/><circle cx="274.4" cy="283.5" r="1.4" fill="#e0405a" fill-opacity="0.65"/><circle cx="274.4" cy="287.7" r="1.4" fill="#e0405a" fill-opacity="0.65"/><circle cx="133.5" cy="294.7" r="1.4" fill="#45b5b5" fill-opacity="0.55"/><circle cx="133.5" cy="286.1" r="1.4" fill="#9a2a3c" fill-opacity="0.55"/><circle cx="133.5" cy="308.9" r="1.4" fill="#d03a4c" fill-opacity="0.55"/><circle cx="154.5" cy="291.8" r="1.4" fill="#f3b9c0" fill-opacity="0.55"/><circle cx="154.5" cy="303.2" r="1.4" fill="#ef8a95" fill-opacity="0.55"/><circle cx="154.5" cy="308.9" r="1.4" fill="#45b5b5" fill-opacity="0.55"/><circle cx="154.5" cy="303.2" r="1.4" fill="#9a2a3c" fill-opacity="0.55"/><circle cx="173.5" cy="308.9" r="1.4" fill="#ef8a95" fill-opacity="0.55"/><circle cx="173.5" cy="306.1" r="1.4" fill="#45b5b5" fill-opacity="0.55"/><circle cx="173.5" cy="317.4" r="1.4" fill="#9a2a3c" fill-opacity="0.55"/><circle cx="173.5" cy="300.4" r="1.4" fill="#d03a4c" fill-opacity="0.55"/><circle cx="173.5" cy="320.3" r="1.4" fill="#ff7a21" fill-opacity="0.55"/><circle cx="191.0" cy="297.5" r="1.4" fill="#f3b9c0" fill-opacity="0.55"/><circle cx="191.0" cy="311.7" r="1.4" fill="#ef8a95" fill-opacity="0.55"/><circle cx="191.0" cy="314.6" r="1.4" fill="#2f6fbe" fill-opacity="0.55"/><circle cx="191.0" cy="311.7" r="1.4" fill="#45b5b5" fill-opacity="0.55"/><circle cx="191.0" cy="306.1" r="1.4" fill="#9a2a3c" fill-opacity="0.55"/><circle cx="191.0" cy="294.7" r="1.4" fill="#d03a4c" fill-opacity="0.55"/><circle cx="191.0" cy="326.0" r="1.4" fill="#ff7a21" fill-opacity="0.55"/><circle cx="199.0" cy="300.4" r="1.4" fill="#f3b9c0" fill-opacity="0.55"/><circle cx="199.0" cy="317.4" r="1.4" fill="#2f6fbe" fill-opacity="0.55"/><circle cx="199.0" cy="303.2" r="1.4" fill="#45b5b5" fill-opacity="0.55"/><circle cx="199.0" cy="311.7" r="1.4" fill="#9a2a3c" fill-opacity="0.55"/><circle cx="199.0" cy="317.4" r="1.4" fill="#ff7a21" fill-opacity="0.55"/><circle cx="219.0" cy="320.3" r="1.4" fill="#ef8a95" fill-opacity="0.55"/><circle cx="219.0" cy="314.6" r="1.4" fill="#2f6fbe" fill-opacity="0.55"/><circle cx="219.0" cy="306.1" r="1.4" fill="#45b5b5" fill-opacity="0.55"/><circle cx="239.0" cy="311.7" r="1.4" fill="#ef8a95" fill-opacity="0.55"/><circle cx="239.0" cy="320.3" r="1.4" fill="#2f6fbe" fill-opacity="0.55"/><circle cx="239.0" cy="300.4" r="1.4" fill="#45b5b5" fill-opacity="0.55"/><circle cx="239.0" cy="308.9" r="1.4" fill="#9a2a3c" fill-opacity="0.55"/><circle cx="239.0" cy="317.4" r="1.4" fill="#ff7a21" fill-opacity="0.55"/><circle cx="256.5" cy="311.7" r="1.4" fill="#f3b9c0" fill-opacity="0.55"/><circle cx="256.5" cy="317.4" r="1.4" fill="#ef8a95" fill-opacity="0.55"/><circle cx="256.5" cy="314.6" r="1.4" fill="#2f6fbe" fill-opacity="0.55"/><circle cx="256.5" cy="308.9" r="1.4" fill="#45b5b5" fill-opacity="0.55"/><circle cx="256.5" cy="311.7" r="1.4" fill="#9a2a3c" fill-opacity="0.55"/><circle cx="256.5" cy="291.8" r="1.4" fill="#e8687a" fill-opacity="0.55"/><circle cx="256.5" cy="294.7" r="1.4" fill="#d03a4c" fill-opacity="0.55"/><circle cx="256.5" cy="320.3" r="1.4" fill="#ff7a21" fill-opacity="0.55"/><circle cx="259.0" cy="300.4" r="1.4" fill="#f3b9c0" fill-opacity="0.55"/><circle cx="259.0" cy="300.4" r="1.4" fill="#e8687a" fill-opacity="0.55"/><circle cx="268.0" cy="306.1" r="1.4" fill="#ef8a95" fill-opacity="0.55"/><circle cx="268.0" cy="306.1" r="1.4" fill="#e8687a" fill-opacity="0.55"/><circle cx="268.0" cy="311.7" r="1.4" fill="#d03a4c" fill-opacity="0.55"/><circle cx="275.0" cy="311.7" r="1.4" fill="#9a2a3c" fill-opacity="0.55"/><circle cx="275.0" cy="286.1" r="1.4" fill="#e8687a" fill-opacity="0.55"/><circle cx="275.0" cy="291.8" r="1.4" fill="#d03a4c" fill-opacity="0.55"/><circle cx="279.5" cy="297.5" r="1.4" fill="#45b5b5" fill-opacity="0.55"/><circle cx="279.5" cy="291.8" r="1.4" fill="#e8687a" fill-opacity="0.55"/><circle cx="279.5" cy="300.4" r="1.4" fill="#d03a4c" fill-opacity="0.55"/><circle cx="297.5" cy="314.6" r="1.4" fill="#f3b9c0" fill-opacity="0.55"/><circle cx="297.5" cy="331.7" r="1.4" fill="#6b9bd0" fill-opacity="0.55"/><circle cx="297.5" cy="306.1" r="1.4" fill="#ef8a95" fill-opacity="0.55"/><circle cx="297.5" cy="317.4" r="1.4" fill="#9a2a3c" fill-opacity="0.55"/><circle cx="321.5" cy="326.0" r="1.4" fill="#6b9bd0" fill-opacity="0.55"/><circle cx="321.5" cy="317.4" r="1.4" fill="#ef8a95" fill-opacity="0.55"/><circle cx="321.5" cy="311.7" r="1.4" fill="#2f6fbe" fill-opacity="0.55"/><circle cx="321.5" cy="308.9" r="1.4" fill="#9a2a3c" fill-opacity="0.55"/><circle cx="329.5" cy="311.7" r="1.4" fill="#f3b9c0" fill-opacity="0.55"/><circle cx="329.5" cy="331.7" r="1.4" fill="#6b9bd0" fill-opacity="0.55"/><circle cx="329.5" cy="314.6" r="1.4" fill="#ef8a95" fill-opacity="0.55"/><circle cx="329.5" cy="294.7" r="1.4" fill="#45b5b5" fill-opacity="0.55"/><circle cx="329.5" cy="317.4" r="1.4" fill="#9a2a3c" fill-opacity="0.55"/><circle cx="329.5" cy="291.8" r="1.4" fill="#e8687a" fill-opacity="0.55"/><circle cx="329.5" cy="317.4" r="1.4" fill="#d03a4c" fill-opacity="0.55"/><circle cx="329.5" cy="320.3" r="1.4" fill="#ff7a21" fill-opacity="0.55"/><circle cx="387.0" cy="303.2" r="1.4" fill="#f3b9c0" fill-opacity="0.55"/><circle cx="387.0" cy="331.7" r="1.4" fill="#ef8a95" fill-opacity="0.55"/><circle cx="387.0" cy="323.1" r="1.4" fill="#2f6fbe" fill-opacity="0.55"/><circle cx="387.0" cy="311.7" r="1.4" fill="#9a2a3c" fill-opacity="0.55"/><circle cx="387.0" cy="314.6" r="1.4" fill="#e8687a" fill-opacity="0.55"/><circle cx="387.0" cy="320.3" r="1.4" fill="#ff7a21" fill-opacity="0.55"/><circle cx="457.5" cy="317.4" r="1.4" fill="#f3b9c0" fill-opacity="0.55"/><circle cx="457.5" cy="323.1" r="1.4" fill="#6b9bd0" fill-opacity="0.55"/><circle cx="457.5" cy="317.4" r="1.4" fill="#ef8a95" fill-opacity="0.55"/><circle cx="457.5" cy="320.3" r="1.4" fill="#2f6fbe" fill-opacity="0.55"/><circle cx="457.5" cy="317.4" r="1.4" fill="#e8687a" fill-opacity="0.55"/><circle cx="482.5" cy="323.1" r="1.4" fill="#6b9bd0" fill-opacity="0.55"/><circle cx="482.5" cy="308.9" r="1.4" fill="#45b5b5" fill-opacity="0.55"/><circle cx="482.5" cy="323.1" r="1.4" fill="#9a2a3c" fill-opacity="0.55"/><circle cx="482.5" cy="317.4" r="1.4" fill="#e8687a" fill-opacity="0.55"/><circle cx="482.5" cy="314.6" r="1.4" fill="#ff7a21" fill-opacity="0.55"/><circle cx="502.5" cy="320.3" r="1.4" fill="#f3b9c0" fill-opacity="0.55"/><circle cx="502.5" cy="317.4" r="1.4" fill="#6b9bd0" fill-opacity="0.55"/><circle cx="502.5" cy="311.7" r="1.4" fill="#ff7a21" fill-opacity="0.55"/><circle cx="522.5" cy="320.3" r="1.4" fill="#6b9bd0" fill-opacity="0.55"/><circle cx="522.5" cy="320.3" r="1.4" fill="#45b5b5" fill-opacity="0.55"/><circle cx="522.5" cy="320.3" r="1.4" fill="#9a2a3c" fill-opacity="0.55"/><circle cx="522.5" cy="320.3" r="1.4" fill="#e8687a" fill-opacity="0.55"/><circle cx="522.5" cy="314.6" r="1.4" fill="#d03a4c" fill-opacity="0.55"/><circle cx="534.5" cy="311.7" r="1.4" fill="#f3b9c0" fill-opacity="0.55"/><circle cx="534.5" cy="323.1" r="1.4" fill="#6b9bd0" fill-opacity="0.55"/><circle cx="534.5" cy="311.7" r="1.4" fill="#ef8a95" fill-opacity="0.55"/><circle cx="534.5" cy="317.4" r="1.4" fill="#2f6fbe" fill-opacity="0.55"/><circle cx="534.5" cy="317.4" r="1.4" fill="#9a2a3c" fill-opacity="0.55"/><circle cx="534.5" cy="300.4" r="1.4" fill="#e8687a" fill-opacity="0.55"/><circle cx="534.5" cy="323.1" r="1.4" fill="#d03a4c" fill-opacity="0.55"/><circle cx="534.5" cy="317.4" r="1.4" fill="#ff7a21" fill-opacity="0.55"/><circle cx="536.0" cy="317.4" r="1.4" fill="#f3b9c0" fill-opacity="0.55"/><circle cx="536.0" cy="317.4" r="1.4" fill="#6b9bd0" fill-opacity="0.55"/><circle cx="536.0" cy="317.4" r="1.4" fill="#ef8a95" fill-opacity="0.55"/><circle cx="536.0" cy="328.8" r="1.4" fill="#9a2a3c" fill-opacity="0.55"/><circle cx="536.0" cy="317.4" r="1.4" fill="#e8687a" fill-opacity="0.55"/><circle cx="536.0" cy="306.1" r="1.4" fill="#d03a4c" fill-opacity="0.55"/><circle cx="538.0" cy="317.4" r="1.4" fill="#f3b9c0" fill-opacity="0.55"/><circle cx="538.0" cy="328.8" r="1.4" fill="#6b9bd0" fill-opacity="0.55"/><circle cx="538.0" cy="328.8" r="1.4" fill="#ef8a95" fill-opacity="0.55"/><circle cx="538.0" cy="317.4" r="1.4" fill="#2f6fbe" fill-opacity="0.55"/><circle cx="538.0" cy="306.1" r="1.4" fill="#45b5b5" fill-opacity="0.55"/><circle cx="538.0" cy="306.1" r="1.4" fill="#ff7a21" fill-opacity="0.55"/><circle cx="539.5" cy="317.4" r="1.4" fill="#f3b9c0" fill-opacity="0.55"/><circle cx="539.5" cy="311.7" r="1.4" fill="#6b9bd0" fill-opacity="0.55"/><circle cx="539.5" cy="323.1" r="1.4" fill="#e8687a" fill-opacity="0.55"/><circle cx="539.5" cy="306.1" r="1.4" fill="#d03a4c" fill-opacity="0.55"/><circle cx="539.5" cy="311.7" r="1.4" fill="#ff7a21" fill-opacity="0.55"/><circle cx="541.5" cy="317.4" r="1.4" fill="#6b9bd0" fill-opacity="0.55"/><circle cx="541.5" cy="328.8" r="1.4" fill="#ef8a95" fill-opacity="0.55"/><circle cx="541.5" cy="317.4" r="1.4" fill="#2f6fbe" fill-opacity="0.55"/><circle cx="541.5" cy="328.8" r="1.4" fill="#9a2a3c" fill-opacity="0.55"/><circle cx="541.5" cy="317.4" r="1.4" fill="#e8687a" fill-opacity="0.55"/><circle cx="541.5" cy="306.1" r="1.4" fill="#d03a4c" fill-opacity="0.55"/><circle cx="541.5" cy="311.7" r="1.4" fill="#ff7a21" fill-opacity="0.55"/><circle cx="541.5" cy="323.1" r="1.4" fill="#0073cf" fill-opacity="0.55"/><circle cx="544.5" cy="323.1" r="1.4" fill="#f3b9c0" fill-opacity="0.55"/><circle cx="544.5" cy="317.4" r="1.4" fill="#6b9bd0" fill-opacity="0.55"/><circle cx="544.5" cy="323.1" r="1.4" fill="#ef8a95" fill-opacity="0.55"/><circle cx="544.5" cy="306.1" r="1.4" fill="#45b5b5" fill-opacity="0.55"/><circle cx="544.5" cy="317.4" r="1.4" fill="#e8687a" fill-opacity="0.55"/><circle cx="544.5" cy="317.4" r="1.4" fill="#0073cf" fill-opacity="0.55"/><circle cx="546.5" cy="328.8" r="1.4" fill="#f3b9c0" fill-opacity="0.55"/><circle cx="546.5" cy="317.4" r="1.4" fill="#6b9bd0" fill-opacity="0.55"/><circle cx="546.5" cy="328.8" r="1.4" fill="#ef8a95" fill-opacity="0.55"/><circle cx="546.5" cy="323.1" r="1.4" fill="#45b5b5" fill-opacity="0.55"/><circle cx="546.5" cy="317.4" r="1.4" fill="#9a2a3c" fill-opacity="0.55"/><circle cx="546.5" cy="311.7" r="1.4" fill="#ff7a21" fill-opacity="0.55"/><circle cx="546.5" cy="306.1" r="1.4" fill="#0073cf" fill-opacity="0.55"/><circle cx="547.5" cy="317.4" r="1.4" fill="#6b9bd0" fill-opacity="0.55"/><circle cx="547.5" cy="311.7" r="1.4" fill="#ef8a95" fill-opacity="0.55"/><circle cx="547.5" cy="311.7" r="1.4" fill="#45b5b5" fill-opacity="0.55"/><circle cx="547.5" cy="317.4" r="1.4" fill="#9a2a3c" fill-opacity="0.55"/><circle cx="547.5" cy="317.4" r="1.4" fill="#e8687a" fill-opacity="0.55"/><circle cx="547.5" cy="311.7" r="1.4" fill="#d03a4c" fill-opacity="0.55"/><circle cx="547.5" cy="311.7" r="1.4" fill="#ff7a21" fill-opacity="0.55"/><circle cx="547.5" cy="323.1" r="1.4" fill="#0073cf" fill-opacity="0.55"/><circle cx="563.0" cy="328.8" r="1.4" fill="#f3b9c0" fill-opacity="0.55"/><circle cx="563.0" cy="306.1" r="1.4" fill="#2f6fbe" fill-opacity="0.55"/><circle cx="563.0" cy="311.7" r="1.4" fill="#9a2a3c" fill-opacity="0.55"/><circle cx="563.0" cy="317.4" r="1.4" fill="#e8687a" fill-opacity="0.55"/><circle cx="563.0" cy="306.1" r="1.4" fill="#d03a4c" fill-opacity="0.55"/><circle cx="565.0" cy="320.8" r="1.4" fill="#f3b9c0" fill-opacity="0.55"/><circle cx="565.0" cy="329.4" r="1.4" fill="#6b9bd0" fill-opacity="0.55"/><circle cx="565.0" cy="311.7" r="1.4" fill="#ef8a95" fill-opacity="0.55"/><circle cx="565.0" cy="311.7" r="1.4" fill="#9a2a3c" fill-opacity="0.55"/><circle cx="565.0" cy="311.7" r="1.4" fill="#ff7a21" fill-opacity="0.55"/><circle cx="567.0" cy="320.8" r="1.4" fill="#f3b9c0" fill-opacity="0.55"/><circle cx="567.0" cy="323.7" r="1.4" fill="#ef8a95" fill-opacity="0.55"/><circle cx="567.0" cy="298.7" r="1.4" fill="#2f6fbe" fill-opacity="0.55"/><circle cx="567.0" cy="316.9" r="1.4" fill="#45b5b5" fill-opacity="0.55"/><circle cx="567.0" cy="320.3" r="1.4" fill="#e8687a" fill-opacity="0.55"/><circle cx="567.0" cy="310.0" r="1.4" fill="#d03a4c" fill-opacity="0.55"/><circle cx="572.0" cy="311.7" r="1.4" fill="#f3b9c0" fill-opacity="0.55"/><circle cx="572.0" cy="328.8" r="1.4" fill="#6b9bd0" fill-opacity="0.55"/><circle cx="572.0" cy="320.3" r="1.4" fill="#ef8a95" fill-opacity="0.55"/><circle cx="572.0" cy="323.1" r="1.4" fill="#45b5b5" fill-opacity="0.55"/><circle cx="572.0" cy="317.4" r="1.4" fill="#e8687a" fill-opacity="0.55"/><circle cx="572.0" cy="312.3" r="1.4" fill="#ff7a21" fill-opacity="0.55"/><circle cx="576.5" cy="320.8" r="1.4" fill="#f3b9c0" fill-opacity="0.55"/><circle cx="576.5" cy="317.4" r="1.4" fill="#2f6fbe" fill-opacity="0.55"/><circle cx="576.5" cy="317.4" r="1.4" fill="#45b5b5" fill-opacity="0.55"/><circle cx="576.5" cy="328.8" r="1.4" fill="#9a2a3c" fill-opacity="0.55"/><circle cx="576.5" cy="306.1" r="1.4" fill="#d03a4c" fill-opacity="0.55"/><circle cx="588.0" cy="328.8" r="1.4" fill="#f3b9c0" fill-opacity="0.55"/><circle cx="588.0" cy="323.1" r="1.4" fill="#6b9bd0" fill-opacity="0.55"/><circle cx="588.0" cy="311.2" r="1.4" fill="#ef8a95" fill-opacity="0.55"/><circle cx="588.0" cy="306.1" r="1.4" fill="#2f6fbe" fill-opacity="0.55"/><circle cx="588.0" cy="322.6" r="1.4" fill="#9a2a3c" fill-opacity="0.55"/><circle cx="588.0" cy="294.7" r="1.4" fill="#d03a4c" fill-opacity="0.55"/><circle cx="602.0" cy="323.1" r="1.4" fill="#ef8a95" fill-opacity="0.55"/><circle cx="602.0" cy="313.4" r="1.4" fill="#45b5b5" fill-opacity="0.55"/><circle cx="602.0" cy="317.4" r="1.4" fill="#9a2a3c" fill-opacity="0.55"/><circle cx="602.0" cy="320.8" r="1.4" fill="#ff7a21" fill-opacity="0.55"/><circle cx="603.5" cy="323.1" r="1.4" fill="#f3b9c0" fill-opacity="0.55"/><circle cx="603.5" cy="311.7" r="1.4" fill="#6b9bd0" fill-opacity="0.55"/><circle cx="603.5" cy="323.1" r="1.4" fill="#ef8a95" fill-opacity="0.55"/><circle cx="603.5" cy="323.7" r="1.4" fill="#2f6fbe" fill-opacity="0.55"/><circle cx="603.5" cy="319.7" r="1.4" fill="#45b5b5" fill-opacity="0.55"/><circle cx="603.5" cy="317.4" r="1.4" fill="#9a2a3c" fill-opacity="0.55"/><circle cx="603.5" cy="329.4" r="1.4" fill="#e8687a" fill-opacity="0.55"/><circle cx="603.5" cy="306.1" r="1.4" fill="#d03a4c" fill-opacity="0.55"/><circle cx="603.5" cy="317.4" r="1.4" fill="#ff7a21" fill-opacity="0.55"/><circle cx="604.0" cy="316.3" r="1.4" fill="#6b9bd0" fill-opacity="0.55"/><circle cx="604.0" cy="310.6" r="1.4" fill="#2f6fbe" fill-opacity="0.55"/><circle cx="604.0" cy="300.4" r="1.4" fill="#45b5b5" fill-opacity="0.55"/><circle cx="604.0" cy="320.8" r="1.4" fill="#e8687a" fill-opacity="0.55"/><circle cx="604.0" cy="311.2" r="1.4" fill="#d03a4c" fill-opacity="0.55"/><circle cx="604.0" cy="311.7" r="1.4" fill="#ff7a21" fill-opacity="0.55"/><circle cx="607.0" cy="328.8" r="1.4" fill="#f3b9c0" fill-opacity="0.55"/><circle cx="607.0" cy="323.1" r="1.4" fill="#6b9bd0" fill-opacity="0.55"/><circle cx="607.0" cy="317.4" r="1.4" fill="#ef8a95" fill-opacity="0.55"/><circle cx="607.0" cy="323.1" r="1.4" fill="#9a2a3c" fill-opacity="0.55"/><circle cx="607.0" cy="294.7" r="1.4" fill="#ff7a21" fill-opacity="0.55"/><circle cx="616.0" cy="314.0" r="1.4" fill="#6b9bd0" fill-opacity="0.55"/><circle cx="616.0" cy="317.4" r="1.4" fill="#ef8a95" fill-opacity="0.55"/><circle cx="616.0" cy="328.8" r="1.4" fill="#9a2a3c" fill-opacity="0.55"/><circle cx="616.0" cy="328.8" r="1.4" fill="#e8687a" fill-opacity="0.55"/><circle cx="616.0" cy="312.3" r="1.4" fill="#d03a4c" fill-opacity="0.55"/><circle cx="617.5" cy="328.8" r="1.4" fill="#f3b9c0" fill-opacity="0.55"/><circle cx="617.5" cy="325.4" r="1.4" fill="#6b9bd0" fill-opacity="0.55"/><circle cx="617.5" cy="323.1" r="1.4" fill="#ef8a95" fill-opacity="0.55"/><circle cx="617.5" cy="323.1" r="1.4" fill="#2f6fbe" fill-opacity="0.55"/><circle cx="617.5" cy="328.8" r="1.4" fill="#45b5b5" fill-opacity="0.55"/><circle cx="617.5" cy="323.1" r="1.4" fill="#9a2a3c" fill-opacity="0.55"/><circle cx="617.5" cy="323.1" r="1.4" fill="#e8687a" fill-opacity="0.55"/><circle cx="617.5" cy="328.8" r="1.4" fill="#d03a4c" fill-opacity="0.55"/><circle cx="617.5" cy="306.1" r="1.4" fill="#ff7a21" fill-opacity="0.55"/><circle cx="626.0" cy="317.4" r="1.4" fill="#f3b9c0" fill-opacity="0.55"/><circle cx="626.0" cy="322.6" r="1.4" fill="#6b9bd0" fill-opacity="0.55"/><circle cx="626.0" cy="323.1" r="1.4" fill="#2f6fbe" fill-opacity="0.55"/><circle cx="626.0" cy="328.8" r="1.4" fill="#45b5b5" fill-opacity="0.55"/><circle cx="626.0" cy="308.3" r="1.4" fill="#e8687a" fill-opacity="0.55"/><circle cx="626.0" cy="299.2" r="1.4" fill="#d03a4c" fill-opacity="0.55"/><circle cx="631.5" cy="323.7" r="1.4" fill="#f3b9c0" fill-opacity="0.55"/><circle cx="631.5" cy="328.8" r="1.4" fill="#ef8a95" fill-opacity="0.55"/><circle cx="631.5" cy="308.3" r="1.4" fill="#45b5b5" fill-opacity="0.55"/><circle cx="631.5" cy="323.1" r="1.4" fill="#e8687a" fill-opacity="0.55"/><circle cx="631.5" cy="308.3" r="1.4" fill="#d03a4c" fill-opacity="0.55"/><circle cx="631.5" cy="307.2" r="1.4" fill="#ff7a21" fill-opacity="0.55"/><circle cx="633.0" cy="323.1" r="1.4" fill="#f3b9c0" fill-opacity="0.55"/><circle cx="633.0" cy="323.1" r="1.4" fill="#6b9bd0" fill-opacity="0.55"/><circle cx="633.0" cy="328.8" r="1.4" fill="#2f6fbe" fill-opacity="0.55"/><circle cx="633.0" cy="328.8" r="1.4" fill="#45b5b5" fill-opacity="0.55"/><circle cx="633.0" cy="311.7" r="1.4" fill="#e8687a" fill-opacity="0.55"/><circle cx="633.0" cy="311.7" r="1.4" fill="#ff7a21" fill-opacity="0.55"/><circle cx="636.0" cy="311.7" r="1.4" fill="#f3b9c0" fill-opacity="0.55"/><circle cx="636.0" cy="316.3" r="1.4" fill="#6b9bd0" fill-opacity="0.55"/><circle cx="636.0" cy="323.1" r="1.4" fill="#ef8a95" fill-opacity="0.55"/><circle cx="636.0" cy="323.1" r="1.4" fill="#2f6fbe" fill-opacity="0.55"/><circle cx="636.0" cy="328.8" r="1.4" fill="#45b5b5" fill-opacity="0.55"/><circle cx="636.0" cy="317.4" r="1.4" fill="#9a2a3c" fill-opacity="0.55"/><circle cx="636.0" cy="323.1" r="1.4" fill="#e8687a" fill-opacity="0.55"/><circle cx="636.0" cy="311.7" r="1.4" fill="#d03a4c" fill-opacity="0.55"/><circle cx="636.0" cy="323.1" r="1.4" fill="#ff7a21" fill-opacity="0.55"/><circle cx="641.5" cy="328.8" r="1.4" fill="#f3b9c0" fill-opacity="0.55"/><circle cx="641.5" cy="317.4" r="1.4" fill="#6b9bd0" fill-opacity="0.55"/><circle cx="641.5" cy="323.1" r="1.4" fill="#ef8a95" fill-opacity="0.55"/><circle cx="641.5" cy="324.3" r="1.4" fill="#9a2a3c" fill-opacity="0.55"/><circle cx="641.5" cy="323.1" r="1.4" fill="#e8687a" fill-opacity="0.55"/><circle cx="646.0" cy="317.4" r="1.4" fill="#f3b9c0" fill-opacity="0.55"/><circle cx="646.0" cy="320.8" r="1.4" fill="#6b9bd0" fill-opacity="0.55"/><circle cx="646.0" cy="318.0" r="1.4" fill="#ef8a95" fill-opacity="0.55"/><circle cx="646.0" cy="317.4" r="1.4" fill="#45b5b5" fill-opacity="0.55"/><circle cx="646.0" cy="314.0" r="1.4" fill="#9a2a3c" fill-opacity="0.55"/><circle cx="646.0" cy="323.1" r="1.4" fill="#e8687a" fill-opacity="0.55"/><circle cx="648.0" cy="317.4" r="1.4" fill="#f3b9c0" fill-opacity="0.55"/><circle cx="648.0" cy="317.4" r="1.4" fill="#2f6fbe" fill-opacity="0.55"/><circle cx="648.0" cy="327.1" r="1.4" fill="#45b5b5" fill-opacity="0.55"/><circle cx="648.0" cy="311.7" r="1.4" fill="#e8687a" fill-opacity="0.55"/><circle cx="648.0" cy="328.8" r="1.4" fill="#d03a4c" fill-opacity="0.55"/><circle cx="648.0" cy="304.9" r="1.4" fill="#ff7a21" fill-opacity="0.55"/><circle cx="651.0" cy="317.4" r="1.4" fill="#6b9bd0" fill-opacity="0.55"/><circle cx="651.0" cy="322.0" r="1.4" fill="#ef8a95" fill-opacity="0.55"/><circle cx="651.0" cy="328.8" r="1.4" fill="#45b5b5" fill-opacity="0.55"/><circle cx="651.0" cy="310.0" r="1.4" fill="#9a2a3c" fill-opacity="0.55"/><circle cx="651.0" cy="326.0" r="1.4" fill="#e8687a" fill-opacity="0.55"/><circle cx="651.0" cy="323.7" r="1.4" fill="#d03a4c" fill-opacity="0.55"/><circle cx="651.0" cy="304.9" r="1.4" fill="#ff7a21" fill-opacity="0.55"/><circle cx="652.0" cy="328.8" r="1.4" fill="#f3b9c0" fill-opacity="0.55"/><circle cx="652.0" cy="323.1" r="1.4" fill="#6b9bd0" fill-opacity="0.55"/><circle cx="652.0" cy="323.1" r="1.4" fill="#ef8a95" fill-opacity="0.55"/><circle cx="652.0" cy="311.7" r="1.4" fill="#2f6fbe" fill-opacity="0.55"/><circle cx="652.0" cy="323.1" r="1.4" fill="#45b5b5" fill-opacity="0.55"/><circle cx="652.0" cy="331.7" r="1.4" fill="#9a2a3c" fill-opacity="0.55"/><circle cx="652.0" cy="331.1" r="1.4" fill="#e8687a" fill-opacity="0.55"/><circle cx="652.0" cy="302.1" r="1.4" fill="#d03a4c" fill-opacity="0.55"/><circle cx="652.0" cy="328.2" r="1.4" fill="#ff7a21" fill-opacity="0.55"/><circle cx="656.0" cy="317.4" r="1.4" fill="#ef8a95" fill-opacity="0.55"/><circle cx="656.0" cy="320.3" r="1.4" fill="#9a2a3c" fill-opacity="0.55"/><circle cx="656.0" cy="323.1" r="1.4" fill="#e8687a" fill-opacity="0.55"/><circle cx="656.0" cy="306.1" r="1.4" fill="#ff7a21" fill-opacity="0.55"/><circle cx="658.5" cy="317.4" r="1.4" fill="#f3b9c0" fill-opacity="0.55"/><circle cx="658.5" cy="323.1" r="1.4" fill="#6b9bd0" fill-opacity="0.55"/><circle cx="658.5" cy="311.7" r="1.4" fill="#ef8a95" fill-opacity="0.55"/><circle cx="658.5" cy="323.1" r="1.4" fill="#2f6fbe" fill-opacity="0.55"/><circle cx="658.5" cy="328.8" r="1.4" fill="#45b5b5" fill-opacity="0.55"/><circle cx="658.5" cy="317.4" r="1.4" fill="#9a2a3c" fill-opacity="0.55"/><circle cx="658.5" cy="306.1" r="1.4" fill="#d03a4c" fill-opacity="0.55"/><circle cx="658.5" cy="316.9" r="1.4" fill="#ff7a21" fill-opacity="0.55"/><circle cx="659.5" cy="330.5" r="1.4" fill="#6b9bd0" fill-opacity="0.55"/><circle cx="659.5" cy="323.1" r="1.4" fill="#ef8a95" fill-opacity="0.55"/><circle cx="659.5" cy="315.2" r="1.4" fill="#2f6fbe" fill-opacity="0.55"/><circle cx="659.5" cy="328.8" r="1.4" fill="#45b5b5" fill-opacity="0.55"/><circle cx="659.5" cy="327.7" r="1.4" fill="#9a2a3c" fill-opacity="0.55"/><circle cx="659.5" cy="322.0" r="1.4" fill="#e8687a" fill-opacity="0.55"/><circle cx="659.5" cy="306.1" r="1.4" fill="#d03a4c" fill-opacity="0.55"/><circle cx="659.5" cy="323.1" r="1.4" fill="#ff7a21" fill-opacity="0.55"/><circle cx="661.5" cy="317.4" r="1.4" fill="#6b9bd0" fill-opacity="0.55"/><circle cx="661.5" cy="322.0" r="1.4" fill="#ef8a95" fill-opacity="0.55"/><circle cx="661.5" cy="328.8" r="1.4" fill="#2f6fbe" fill-opacity="0.55"/><circle cx="661.5" cy="311.7" r="1.4" fill="#45b5b5" fill-opacity="0.55"/><circle cx="661.5" cy="317.4" r="1.4" fill="#d03a4c" fill-opacity="0.55"/><circle cx="662.0" cy="317.4" r="1.4" fill="#f3b9c0" fill-opacity="0.55"/><circle cx="662.0" cy="315.7" r="1.4" fill="#ef8a95" fill-opacity="0.55"/><circle cx="662.0" cy="315.7" r="1.4" fill="#2f6fbe" fill-opacity="0.55"/><circle cx="662.0" cy="317.4" r="1.4" fill="#9a2a3c" fill-opacity="0.55"/><circle cx="662.0" cy="328.8" r="1.4" fill="#e8687a" fill-opacity="0.55"/><circle cx="662.0" cy="300.4" r="1.4" fill="#d03a4c" fill-opacity="0.55"/><circle cx="666.0" cy="306.1" r="1.4" fill="#f3b9c0" fill-opacity="0.55"/><circle cx="666.0" cy="308.9" r="1.4" fill="#6b9bd0" fill-opacity="0.55"/><circle cx="666.0" cy="323.7" r="1.4" fill="#2f6fbe" fill-opacity="0.55"/><circle cx="666.0" cy="317.4" r="1.4" fill="#45b5b5" fill-opacity="0.55"/><circle cx="666.0" cy="316.3" r="1.4" fill="#9a2a3c" fill-opacity="0.55"/><circle cx="666.0" cy="323.1" r="1.4" fill="#e8687a" fill-opacity="0.55"/><circle cx="666.0" cy="314.6" r="1.4" fill="#d03a4c" fill-opacity="0.55"/><circle cx="666.0" cy="310.0" r="1.4" fill="#ff7a21" fill-opacity="0.55"/><circle cx="672.0" cy="327.1" r="1.4" fill="#ef8a95" fill-opacity="0.55"/><circle cx="672.0" cy="314.6" r="1.4" fill="#45b5b5" fill-opacity="0.55"/><circle cx="672.0" cy="328.8" r="1.4" fill="#9a2a3c" fill-opacity="0.55"/><circle cx="672.0" cy="328.8" r="1.4" fill="#e8687a" fill-opacity="0.55"/><circle cx="672.0" cy="300.4" r="1.4" fill="#d03a4c" fill-opacity="0.55"/><circle cx="672.0" cy="318.6" r="1.4" fill="#ff7a21" fill-opacity="0.55"/><circle cx="673.0" cy="327.1" r="1.4" fill="#6b9bd0" fill-opacity="0.55"/><circle cx="673.0" cy="328.8" r="1.4" fill="#2f6fbe" fill-opacity="0.55"/><circle cx="673.0" cy="320.8" r="1.4" fill="#45b5b5" fill-opacity="0.55"/><circle cx="673.0" cy="311.7" r="1.4" fill="#e8687a" fill-opacity="0.55"/><circle cx="673.0" cy="300.4" r="1.4" fill="#d03a4c" fill-opacity="0.55"/><circle cx="673.0" cy="306.1" r="1.4" fill="#ff7a21" fill-opacity="0.55"/><circle cx="674.5" cy="329.9" r="1.4" fill="#6b9bd0" fill-opacity="0.55"/><circle cx="674.5" cy="320.8" r="1.4" fill="#ef8a95" fill-opacity="0.55"/><circle cx="674.5" cy="323.1" r="1.4" fill="#2f6fbe" fill-opacity="0.55"/><circle cx="674.5" cy="323.1" r="1.4" fill="#45b5b5" fill-opacity="0.55"/><circle cx="674.5" cy="323.1" r="1.4" fill="#9a2a3c" fill-opacity="0.55"/><circle cx="674.5" cy="322.6" r="1.4" fill="#e8687a" fill-opacity="0.55"/><circle cx="674.5" cy="306.1" r="1.4" fill="#ff7a21" fill-opacity="0.55"/><circle cx="676.0" cy="320.3" r="1.4" fill="#6b9bd0" fill-opacity="0.55"/><circle cx="676.0" cy="311.7" r="1.4" fill="#2f6fbe" fill-opacity="0.55"/><circle cx="676.0" cy="317.4" r="1.4" fill="#45b5b5" fill-opacity="0.55"/><circle cx="676.0" cy="304.3" r="1.4" fill="#9a2a3c" fill-opacity="0.55"/><circle cx="676.0" cy="311.7" r="1.4" fill="#d03a4c" fill-opacity="0.55"/><circle cx="686.0" cy="314.6" r="1.4" fill="#f3b9c0" fill-opacity="0.55"/><circle cx="686.0" cy="328.8" r="1.4" fill="#6b9bd0" fill-opacity="0.55"/><circle cx="686.0" cy="317.4" r="1.4" fill="#ef8a95" fill-opacity="0.55"/><circle cx="686.0" cy="317.4" r="1.4" fill="#2f6fbe" fill-opacity="0.55"/><circle cx="686.0" cy="317.4" r="1.4" fill="#45b5b5" fill-opacity="0.55"/><circle cx="686.0" cy="327.1" r="1.4" fill="#9a2a3c" fill-opacity="0.55"/><circle cx="686.0" cy="316.3" r="1.4" fill="#d03a4c" fill-opacity="0.55"/><circle cx="688.5" cy="317.4" r="1.4" fill="#6b9bd0" fill-opacity="0.55"/><circle cx="688.5" cy="331.1" r="1.4" fill="#ef8a95" fill-opacity="0.55"/><circle cx="688.5" cy="317.4" r="1.4" fill="#2f6fbe" fill-opacity="0.55"/><circle cx="688.5" cy="319.1" r="1.4" fill="#45b5b5" fill-opacity="0.55"/><circle cx="688.5" cy="314.0" r="1.4" fill="#9a2a3c" fill-opacity="0.55"/><circle cx="688.5" cy="308.3" r="1.4" fill="#e8687a" fill-opacity="0.55"/><circle cx="688.5" cy="304.9" r="1.4" fill="#d03a4c" fill-opacity="0.55"/><circle cx="692.0" cy="328.8" r="1.4" fill="#6b9bd0" fill-opacity="0.55"/><circle cx="692.0" cy="311.7" r="1.4" fill="#2f6fbe" fill-opacity="0.55"/><circle cx="692.0" cy="317.4" r="1.4" fill="#45b5b5" fill-opacity="0.55"/><circle cx="692.0" cy="317.4" r="1.4" fill="#9a2a3c" fill-opacity="0.55"/><circle cx="692.0" cy="321.4" r="1.4" fill="#e8687a" fill-opacity="0.55"/><circle cx="692.0" cy="308.3" r="1.4" fill="#d03a4c" fill-opacity="0.55"/><circle cx="692.0" cy="306.1" r="1.4" fill="#ff7a21" fill-opacity="0.55"/><circle cx="696.0" cy="328.2" r="1.4" fill="#6b9bd0" fill-opacity="0.55"/><circle cx="696.0" cy="310.0" r="1.4" fill="#ef8a95" fill-opacity="0.55"/><circle cx="696.0" cy="321.4" r="1.4" fill="#45b5b5" fill-opacity="0.55"/><circle cx="696.0" cy="328.8" r="1.4" fill="#9a2a3c" fill-opacity="0.55"/><circle cx="696.0" cy="323.1" r="1.4" fill="#e8687a" fill-opacity="0.55"/><circle cx="696.0" cy="323.7" r="1.4" fill="#ff7a21" fill-opacity="0.55"/><circle cx="699.5" cy="323.1" r="1.4" fill="#f3b9c0" fill-opacity="0.55"/><circle cx="699.5" cy="328.8" r="1.4" fill="#6b9bd0" fill-opacity="0.55"/><circle cx="699.5" cy="328.8" r="1.4" fill="#ef8a95" fill-opacity="0.55"/><circle cx="699.5" cy="328.8" r="1.4" fill="#2f6fbe" fill-opacity="0.55"/><circle cx="699.5" cy="323.1" r="1.4" fill="#45b5b5" fill-opacity="0.55"/><circle cx="699.5" cy="327.7" r="1.4" fill="#e8687a" fill-opacity="0.55"/><circle cx="699.5" cy="300.4" r="1.4" fill="#d03a4c" fill-opacity="0.55"/><circle cx="699.5" cy="310.0" r="1.4" fill="#ff7a21" fill-opacity="0.55"/><circle cx="700.0" cy="331.1" r="1.4" fill="#f3b9c0" fill-opacity="0.55"/><circle cx="700.0" cy="328.8" r="1.4" fill="#6b9bd0" fill-opacity="0.55"/><circle cx="700.0" cy="328.8" r="1.4" fill="#ef8a95" fill-opacity="0.55"/><circle cx="700.0" cy="323.1" r="1.4" fill="#2f6fbe" fill-opacity="0.55"/><circle cx="700.0" cy="322.0" r="1.4" fill="#9a2a3c" fill-opacity="0.55"/><circle cx="700.0" cy="306.1" r="1.4" fill="#d03a4c" fill-opacity="0.55"/><circle cx="702.0" cy="323.1" r="1.4" fill="#6b9bd0" fill-opacity="0.55"/><circle cx="702.0" cy="311.7" r="1.4" fill="#ef8a95" fill-opacity="0.55"/><circle cx="702.0" cy="315.2" r="1.4" fill="#2f6fbe" fill-opacity="0.55"/><circle cx="702.0" cy="323.1" r="1.4" fill="#45b5b5" fill-opacity="0.55"/><circle cx="702.0" cy="311.7" r="1.4" fill="#e8687a" fill-opacity="0.55"/><circle cx="702.0" cy="312.9" r="1.4" fill="#d03a4c" fill-opacity="0.55"/><circle cx="706.0" cy="325.4" r="1.4" fill="#6b9bd0" fill-opacity="0.55"/><circle cx="706.0" cy="317.4" r="1.4" fill="#ef8a95" fill-opacity="0.55"/><circle cx="706.0" cy="306.1" r="1.4" fill="#2f6fbe" fill-opacity="0.55"/><circle cx="706.0" cy="322.6" r="1.4" fill="#9a2a3c" fill-opacity="0.55"/><circle cx="706.0" cy="311.7" r="1.4" fill="#e8687a" fill-opacity="0.55"/><circle cx="706.0" cy="306.1" r="1.4" fill="#d03a4c" fill-opacity="0.55"/><circle cx="706.0" cy="310.6" r="1.4" fill="#ff7a21" fill-opacity="0.55"/><circle cx="707.5" cy="328.8" r="1.4" fill="#f3b9c0" fill-opacity="0.55"/><circle cx="707.5" cy="328.8" r="1.4" fill="#6b9bd0" fill-opacity="0.55"/><circle cx="707.5" cy="317.4" r="1.4" fill="#ef8a95" fill-opacity="0.55"/><circle cx="707.5" cy="328.8" r="1.4" fill="#2f6fbe" fill-opacity="0.55"/><circle cx="707.5" cy="314.6" r="1.4" fill="#e8687a" fill-opacity="0.55"/><circle cx="707.5" cy="302.6" r="1.4" fill="#d03a4c" fill-opacity="0.55"/><circle cx="707.5" cy="310.0" r="1.4" fill="#ff7a21" fill-opacity="0.55"/><circle cx="708.0" cy="328.8" r="1.4" fill="#f3b9c0" fill-opacity="0.55"/><circle cx="708.0" cy="318.0" r="1.4" fill="#6b9bd0" fill-opacity="0.55"/><circle cx="708.0" cy="320.8" r="1.4" fill="#45b5b5" fill-opacity="0.55"/><circle cx="708.0" cy="317.4" r="1.4" fill="#d03a4c" fill-opacity="0.55"/><circle cx="708.0" cy="305.5" r="1.4" fill="#ff7a21" fill-opacity="0.55"/><circle cx="712.5" cy="328.8" r="1.4" fill="#f3b9c0" fill-opacity="0.55"/><circle cx="712.5" cy="317.4" r="1.4" fill="#ef8a95" fill-opacity="0.55"/><circle cx="712.5" cy="318.0" r="1.4" fill="#2f6fbe" fill-opacity="0.55"/><circle cx="712.5" cy="315.7" r="1.4" fill="#9a2a3c" fill-opacity="0.55"/><circle cx="712.5" cy="328.8" r="1.4" fill="#e8687a" fill-opacity="0.55"/><circle cx="712.5" cy="306.1" r="1.4" fill="#ff7a21" fill-opacity="0.55"/><circle cx="716.0" cy="327.7" r="1.4" fill="#f3b9c0" fill-opacity="0.55"/><circle cx="716.0" cy="323.1" r="1.4" fill="#6b9bd0" fill-opacity="0.55"/><circle cx="716.0" cy="318.0" r="1.4" fill="#2f6fbe" fill-opacity="0.55"/><circle cx="716.0" cy="311.7" r="1.4" fill="#45b5b5" fill-opacity="0.55"/><circle cx="716.0" cy="326.5" r="1.4" fill="#d03a4c" fill-opacity="0.55"/><circle cx="716.0" cy="323.1" r="1.4" fill="#ff7a21" fill-opacity="0.55"/><circle cx="718.5" cy="323.1" r="1.4" fill="#f3b9c0" fill-opacity="0.55"/><circle cx="718.5" cy="317.4" r="1.4" fill="#6b9bd0" fill-opacity="0.55"/><circle cx="718.5" cy="328.8" r="1.4" fill="#ef8a95" fill-opacity="0.55"/><circle cx="718.5" cy="311.7" r="1.4" fill="#2f6fbe" fill-opacity="0.55"/><circle cx="718.5" cy="315.7" r="1.4" fill="#45b5b5" fill-opacity="0.55"/><circle cx="718.5" cy="315.7" r="1.4" fill="#9a2a3c" fill-opacity="0.55"/><circle cx="718.5" cy="323.1" r="1.4" fill="#e8687a" fill-opacity="0.55"/><circle cx="719.0" cy="324.3" r="1.4" fill="#f3b9c0" fill-opacity="0.55"/><circle cx="719.0" cy="320.8" r="1.4" fill="#6b9bd0" fill-opacity="0.55"/><circle cx="719.0" cy="328.8" r="1.4" fill="#9a2a3c" fill-opacity="0.55"/><circle cx="719.0" cy="317.4" r="1.4" fill="#e8687a" fill-opacity="0.55"/><circle cx="719.0" cy="301.5" r="1.4" fill="#d03a4c" fill-opacity="0.55"/><circle cx="719.0" cy="294.7" r="1.4" fill="#ff7a21" fill-opacity="0.55"/><circle cx="722.5" cy="328.8" r="1.4" fill="#f3b9c0" fill-opacity="0.55"/><circle cx="722.5" cy="316.9" r="1.4" fill="#6b9bd0" fill-opacity="0.55"/><circle cx="722.5" cy="322.6" r="1.4" fill="#ef8a95" fill-opacity="0.55"/><circle cx="722.5" cy="323.1" r="1.4" fill="#2f6fbe" fill-opacity="0.55"/><circle cx="722.5" cy="317.4" r="1.4" fill="#e8687a" fill-opacity="0.55"/><circle cx="722.5" cy="319.7" r="1.4" fill="#d03a4c" fill-opacity="0.55"/><circle cx="723.5" cy="311.7" r="1.4" fill="#f3b9c0" fill-opacity="0.55"/><circle cx="723.5" cy="328.8" r="1.4" fill="#45b5b5" fill-opacity="0.55"/><circle cx="723.5" cy="323.1" r="1.4" fill="#e8687a" fill-opacity="0.55"/><circle cx="723.5" cy="300.4" r="1.4" fill="#d03a4c" fill-opacity="0.55"/><circle cx="723.5" cy="306.1" r="1.4" fill="#ff7a21" fill-opacity="0.55"/><circle cx="724.0" cy="317.4" r="1.4" fill="#f3b9c0" fill-opacity="0.55"/><circle cx="724.0" cy="318.0" r="1.4" fill="#6b9bd0" fill-opacity="0.55"/><circle cx="724.0" cy="328.8" r="1.4" fill="#45b5b5" fill-opacity="0.55"/><circle cx="724.0" cy="308.3" r="1.4" fill="#9a2a3c" fill-opacity="0.55"/><circle cx="724.0" cy="328.8" r="1.4" fill="#e8687a" fill-opacity="0.55"/><circle cx="724.0" cy="317.4" r="1.4" fill="#ff7a21" fill-opacity="0.55"/><circle cx="732.0" cy="327.7" r="1.4" fill="#f3b9c0" fill-opacity="0.55"/><circle cx="732.0" cy="311.7" r="1.4" fill="#6b9bd0" fill-opacity="0.55"/><circle cx="732.0" cy="306.1" r="1.4" fill="#ef8a95" fill-opacity="0.55"/><circle cx="732.0" cy="311.7" r="1.4" fill="#2f6fbe" fill-opacity="0.55"/><circle cx="732.0" cy="328.8" r="1.4" fill="#45b5b5" fill-opacity="0.55"/><circle cx="732.0" cy="317.4" r="1.4" fill="#e8687a" fill-opacity="0.55"/><circle cx="732.0" cy="306.1" r="1.4" fill="#d03a4c" fill-opacity="0.55"/><circle cx="732.0" cy="317.4" r="1.4" fill="#ff7a21" fill-opacity="0.55"/><circle cx="733.5" cy="319.1" r="1.4" fill="#f3b9c0" fill-opacity="0.55"/><circle cx="733.5" cy="323.1" r="1.4" fill="#2f6fbe" fill-opacity="0.55"/><circle cx="733.5" cy="311.7" r="1.4" fill="#45b5b5" fill-opacity="0.55"/><circle cx="733.5" cy="317.4" r="1.4" fill="#e8687a" fill-opacity="0.55"/><circle cx="733.5" cy="314.6" r="1.4" fill="#d03a4c" fill-opacity="0.55"/><circle cx="733.5" cy="310.6" r="1.4" fill="#ff7a21" fill-opacity="0.55"/><circle cx="734.0" cy="317.4" r="1.4" fill="#f3b9c0" fill-opacity="0.55"/><circle cx="734.0" cy="317.4" r="1.4" fill="#6b9bd0" fill-opacity="0.55"/><circle cx="734.0" cy="311.7" r="1.4" fill="#ef8a95" fill-opacity="0.55"/><circle cx="734.0" cy="323.1" r="1.4" fill="#2f6fbe" fill-opacity="0.55"/><circle cx="734.0" cy="329.9" r="1.4" fill="#45b5b5" fill-opacity="0.55"/><circle cx="734.0" cy="317.4" r="1.4" fill="#9a2a3c" fill-opacity="0.55"/><circle cx="734.0" cy="330.5" r="1.4" fill="#e8687a" fill-opacity="0.55"/><circle cx="734.0" cy="305.5" r="1.4" fill="#d03a4c" fill-opacity="0.55"/><circle cx="734.0" cy="317.4" r="1.4" fill="#ff7a21" fill-opacity="0.55"/><circle cx="736.0" cy="306.1" r="1.4" fill="#6b9bd0" fill-opacity="0.55"/><circle cx="736.0" cy="317.4" r="1.4" fill="#2f6fbe" fill-opacity="0.55"/><circle cx="736.0" cy="318.0" r="1.4" fill="#9a2a3c" fill-opacity="0.55"/><circle cx="736.0" cy="311.7" r="1.4" fill="#e8687a" fill-opacity="0.55"/><circle cx="736.0" cy="310.0" r="1.4" fill="#d03a4c" fill-opacity="0.55"/><circle cx="740.0" cy="323.7" r="1.4" fill="#6b9bd0" fill-opacity="0.55"/><circle cx="740.0" cy="321.4" r="1.4" fill="#ef8a95" fill-opacity="0.55"/><circle cx="740.0" cy="328.8" r="1.4" fill="#45b5b5" fill-opacity="0.55"/><circle cx="740.0" cy="323.1" r="1.4" fill="#9a2a3c" fill-opacity="0.55"/><circle cx="740.0" cy="323.1" r="1.4" fill="#e8687a" fill-opacity="0.55"/><circle cx="740.0" cy="306.1" r="1.4" fill="#d03a4c" fill-opacity="0.55"/><circle cx="740.0" cy="298.1" r="1.4" fill="#ff7a21" fill-opacity="0.55"/><circle cx="742.0" cy="314.6" r="1.4" fill="#f3b9c0" fill-opacity="0.55"/><circle cx="742.0" cy="322.0" r="1.4" fill="#6b9bd0" fill-opacity="0.55"/><circle cx="742.0" cy="311.7" r="1.4" fill="#ef8a95" fill-opacity="0.55"/><circle cx="742.0" cy="328.8" r="1.4" fill="#2f6fbe" fill-opacity="0.55"/><circle cx="742.0" cy="323.1" r="1.4" fill="#45b5b5" fill-opacity="0.55"/><circle cx="742.0" cy="317.4" r="1.4" fill="#9a2a3c" fill-opacity="0.55"/><circle cx="742.0" cy="323.1" r="1.4" fill="#d03a4c" fill-opacity="0.55"/><circle cx="746.0" cy="328.8" r="1.4" fill="#6b9bd0" fill-opacity="0.55"/><circle cx="746.0" cy="317.4" r="1.4" fill="#45b5b5" fill-opacity="0.55"/><circle cx="746.0" cy="307.2" r="1.4" fill="#9a2a3c" fill-opacity="0.55"/><circle cx="746.0" cy="317.4" r="1.4" fill="#ff7a21" fill-opacity="0.55"/><circle cx="752.5" cy="328.8" r="1.4" fill="#ef8a95" fill-opacity="0.55"/><circle cx="752.5" cy="311.7" r="1.4" fill="#2f6fbe" fill-opacity="0.55"/><circle cx="752.5" cy="328.8" r="1.4" fill="#45b5b5" fill-opacity="0.55"/><circle cx="752.5" cy="316.3" r="1.4" fill="#ff7a21" fill-opacity="0.55"/><circle cx="756.5" cy="325.4" r="1.4" fill="#ef8a95" fill-opacity="0.55"/><circle cx="756.5" cy="323.1" r="1.4" fill="#2f6fbe" fill-opacity="0.55"/><circle cx="756.5" cy="323.1" r="1.4" fill="#9a2a3c" fill-opacity="0.55"/><circle cx="756.5" cy="289.0" r="1.4" fill="#d03a4c" fill-opacity="0.55"/><circle cx="756.5" cy="308.3" r="1.4" fill="#ff7a21" fill-opacity="0.55"/><circle cx="760.0" cy="317.4" r="1.4" fill="#f3b9c0" fill-opacity="0.55"/><circle cx="760.0" cy="328.8" r="1.4" fill="#6b9bd0" fill-opacity="0.55"/><circle cx="760.0" cy="323.1" r="1.4" fill="#ef8a95" fill-opacity="0.55"/><circle cx="760.0" cy="317.4" r="1.4" fill="#2f6fbe" fill-opacity="0.55"/><circle cx="760.0" cy="320.3" r="1.4" fill="#45b5b5" fill-opacity="0.55"/><circle cx="760.0" cy="328.8" r="1.4" fill="#9a2a3c" fill-opacity="0.55"/><circle cx="760.0" cy="317.4" r="1.4" fill="#e8687a" fill-opacity="0.55"/><circle cx="760.0" cy="311.7" r="1.4" fill="#d03a4c" fill-opacity="0.55"/><circle cx="760.0" cy="323.1" r="1.4" fill="#ff7a21" fill-opacity="0.55"/><circle cx="762.5" cy="314.6" r="1.4" fill="#ef8a95" fill-opacity="0.55"/><circle cx="762.5" cy="323.1" r="1.4" fill="#2f6fbe" fill-opacity="0.55"/><circle cx="762.5" cy="300.4" r="1.4" fill="#9a2a3c" fill-opacity="0.55"/><circle cx="762.5" cy="294.7" r="1.4" fill="#d03a4c" fill-opacity="0.55"/><circle cx="762.5" cy="311.7" r="1.4" fill="#ff7a21" fill-opacity="0.55"/><circle cx="764.5" cy="311.7" r="1.4" fill="#f3b9c0" fill-opacity="0.55"/><circle cx="764.5" cy="328.8" r="1.4" fill="#6b9bd0" fill-opacity="0.55"/><circle cx="764.5" cy="328.8" r="1.4" fill="#ef8a95" fill-opacity="0.55"/><circle cx="764.5" cy="328.8" r="1.4" fill="#2f6fbe" fill-opacity="0.55"/><circle cx="764.5" cy="318.6" r="1.4" fill="#9a2a3c" fill-opacity="0.55"/><circle cx="764.5" cy="327.7" r="1.4" fill="#e8687a" fill-opacity="0.55"/><circle cx="764.5" cy="300.4" r="1.4" fill="#d03a4c" fill-opacity="0.55"/><circle cx="765.5" cy="328.8" r="1.4" fill="#f3b9c0" fill-opacity="0.55"/><circle cx="765.5" cy="328.8" r="1.4" fill="#ef8a95" fill-opacity="0.55"/><circle cx="765.5" cy="311.7" r="1.4" fill="#2f6fbe" fill-opacity="0.55"/><circle cx="765.5" cy="328.8" r="1.4" fill="#45b5b5" fill-opacity="0.55"/><circle cx="765.5" cy="317.4" r="1.4" fill="#e8687a" fill-opacity="0.55"/><circle cx="765.5" cy="304.3" r="1.4" fill="#d03a4c" fill-opacity="0.55"/><circle cx="765.5" cy="311.7" r="1.4" fill="#ff7a21" fill-opacity="0.55"/><circle cx="766.5" cy="316.3" r="1.4" fill="#6b9bd0" fill-opacity="0.55"/><circle cx="766.5" cy="328.8" r="1.4" fill="#ef8a95" fill-opacity="0.55"/><circle cx="766.5" cy="306.1" r="1.4" fill="#2f6fbe" fill-opacity="0.55"/><circle cx="766.5" cy="308.3" r="1.4" fill="#e8687a" fill-opacity="0.55"/><circle cx="766.5" cy="317.4" r="1.4" fill="#d03a4c" fill-opacity="0.55"/><circle cx="766.5" cy="319.1" r="1.4" fill="#ff7a21" fill-opacity="0.55"/><circle cx="767.0" cy="317.4" r="1.4" fill="#f3b9c0" fill-opacity="0.55"/><circle cx="767.0" cy="328.8" r="1.4" fill="#6b9bd0" fill-opacity="0.55"/><circle cx="767.0" cy="331.1" r="1.4" fill="#ef8a95" fill-opacity="0.55"/><circle cx="767.0" cy="328.8" r="1.4" fill="#45b5b5" fill-opacity="0.55"/><circle cx="767.0" cy="311.7" r="1.4" fill="#9a2a3c" fill-opacity="0.55"/><circle cx="767.0" cy="300.4" r="1.4" fill="#d03a4c" fill-opacity="0.55"/><circle cx="772.5" cy="312.3" r="1.4" fill="#6b9bd0" fill-opacity="0.55"/><circle cx="772.5" cy="311.7" r="1.4" fill="#9a2a3c" fill-opacity="0.55"/><circle cx="772.5" cy="323.1" r="1.4" fill="#e8687a" fill-opacity="0.55"/><circle cx="772.5" cy="302.1" r="1.4" fill="#d03a4c" fill-opacity="0.55"/><circle cx="777.0" cy="306.6" r="1.4" fill="#f3b9c0" fill-opacity="0.55"/><circle cx="777.0" cy="323.1" r="1.4" fill="#6b9bd0" fill-opacity="0.55"/><circle cx="777.0" cy="318.0" r="1.4" fill="#2f6fbe" fill-opacity="0.55"/><circle cx="777.0" cy="328.8" r="1.4" fill="#45b5b5" fill-opacity="0.55"/><circle cx="777.0" cy="321.4" r="1.4" fill="#9a2a3c" fill-opacity="0.55"/><circle cx="777.0" cy="311.7" r="1.4" fill="#e8687a" fill-opacity="0.55"/><circle cx="777.0" cy="317.4" r="1.4" fill="#ff7a21" fill-opacity="0.55"/><circle cx="778.0" cy="328.8" r="1.4" fill="#f3b9c0" fill-opacity="0.55"/><circle cx="778.0" cy="328.8" r="1.4" fill="#6b9bd0" fill-opacity="0.55"/><circle cx="778.0" cy="317.4" r="1.4" fill="#2f6fbe" fill-opacity="0.55"/><circle cx="778.0" cy="328.8" r="1.4" fill="#45b5b5" fill-opacity="0.55"/><circle cx="778.0" cy="328.8" r="1.4" fill="#9a2a3c" fill-opacity="0.55"/><circle cx="778.0" cy="298.7" r="1.4" fill="#e8687a" fill-opacity="0.55"/><circle cx="778.0" cy="287.3" r="1.4" fill="#d03a4c" fill-opacity="0.55"/><circle cx="778.0" cy="323.1" r="1.4" fill="#ff7a21" fill-opacity="0.55"/><circle cx="780.5" cy="311.7" r="1.4" fill="#ef8a95" fill-opacity="0.55"/><circle cx="780.5" cy="326.5" r="1.4" fill="#2f6fbe" fill-opacity="0.55"/><circle cx="780.5" cy="323.1" r="1.4" fill="#45b5b5" fill-opacity="0.55"/><circle cx="780.5" cy="323.1" r="1.4" fill="#9a2a3c" fill-opacity="0.55"/><circle cx="780.5" cy="298.7" r="1.4" fill="#e8687a" fill-opacity="0.55"/><circle cx="780.5" cy="311.7" r="1.4" fill="#d03a4c" fill-opacity="0.55"/><circle cx="780.5" cy="311.7" r="1.4" fill="#ff7a21" fill-opacity="0.55"/><circle cx="783.0" cy="306.1" r="1.4" fill="#f3b9c0" fill-opacity="0.55"/><circle cx="783.0" cy="328.8" r="1.4" fill="#6b9bd0" fill-opacity="0.55"/><circle cx="783.0" cy="316.3" r="1.4" fill="#ef8a95" fill-opacity="0.55"/><circle cx="783.0" cy="317.4" r="1.4" fill="#2f6fbe" fill-opacity="0.55"/><circle cx="783.0" cy="323.1" r="1.4" fill="#45b5b5" fill-opacity="0.55"/><circle cx="783.0" cy="324.3" r="1.4" fill="#9a2a3c" fill-opacity="0.55"/><circle cx="783.0" cy="300.4" r="1.4" fill="#e8687a" fill-opacity="0.55"/><circle cx="784.0" cy="320.8" r="1.4" fill="#f3b9c0" fill-opacity="0.55"/><circle cx="784.0" cy="319.7" r="1.4" fill="#6b9bd0" fill-opacity="0.55"/><circle cx="784.0" cy="323.1" r="1.4" fill="#ef8a95" fill-opacity="0.55"/><circle cx="784.0" cy="306.1" r="1.4" fill="#2f6fbe" fill-opacity="0.55"/><circle cx="784.0" cy="311.7" r="1.4" fill="#9a2a3c" fill-opacity="0.55"/><circle cx="784.0" cy="311.7" r="1.4" fill="#e8687a" fill-opacity="0.55"/><circle cx="784.0" cy="306.1" r="1.4" fill="#d03a4c" fill-opacity="0.55"/><circle cx="784.0" cy="323.1" r="1.4" fill="#ff7a21" fill-opacity="0.55"/><circle cx="785.5" cy="312.9" r="1.4" fill="#f3b9c0" fill-opacity="0.55"/><circle cx="785.5" cy="328.8" r="1.4" fill="#6b9bd0" fill-opacity="0.55"/><circle cx="785.5" cy="314.6" r="1.4" fill="#2f6fbe" fill-opacity="0.55"/><circle cx="785.5" cy="323.1" r="1.4" fill="#9a2a3c" fill-opacity="0.55"/><circle cx="785.5" cy="294.7" r="1.4" fill="#e8687a" fill-opacity="0.55"/><circle cx="785.5" cy="284.4" r="1.4" fill="#d03a4c" fill-opacity="0.55"/><circle cx="786.0" cy="322.0" r="1.4" fill="#ef8a95" fill-opacity="0.55"/><circle cx="786.0" cy="317.4" r="1.4" fill="#2f6fbe" fill-opacity="0.55"/><circle cx="786.0" cy="328.8" r="1.4" fill="#45b5b5" fill-opacity="0.55"/><circle cx="786.0" cy="289.5" r="1.4" fill="#e8687a" fill-opacity="0.55"/><circle cx="786.0" cy="311.7" r="1.4" fill="#d03a4c" fill-opacity="0.55"/><circle cx="786.0" cy="317.4" r="1.4" fill="#ff7a21" fill-opacity="0.55"/><circle cx="787.0" cy="317.4" r="1.4" fill="#f3b9c0" fill-opacity="0.55"/><circle cx="787.0" cy="318.6" r="1.4" fill="#6b9bd0" fill-opacity="0.55"/><circle cx="787.0" cy="306.1" r="1.4" fill="#ef8a95" fill-opacity="0.55"/><circle cx="787.0" cy="323.1" r="1.4" fill="#2f6fbe" fill-opacity="0.55"/><circle cx="787.0" cy="311.7" r="1.4" fill="#e8687a" fill-opacity="0.55"/><circle cx="787.0" cy="311.7" r="1.4" fill="#ff7a21" fill-opacity="0.55"/><circle cx="792.0" cy="323.1" r="1.4" fill="#6b9bd0" fill-opacity="0.55"/><circle cx="792.0" cy="311.7" r="1.4" fill="#ef8a95" fill-opacity="0.55"/><circle cx="792.0" cy="310.0" r="1.4" fill="#2f6fbe" fill-opacity="0.55"/><circle cx="792.0" cy="311.7" r="1.4" fill="#45b5b5" fill-opacity="0.55"/><circle cx="792.0" cy="287.8" r="1.4" fill="#e8687a" fill-opacity="0.55"/><circle cx="792.0" cy="323.1" r="1.4" fill="#ff7a21" fill-opacity="0.55"/><circle cx="794.0" cy="323.1" r="1.4" fill="#f3b9c0" fill-opacity="0.55"/><circle cx="794.0" cy="322.0" r="1.4" fill="#ef8a95" fill-opacity="0.55"/><circle cx="794.0" cy="328.8" r="1.4" fill="#45b5b5" fill-opacity="0.55"/><circle cx="794.0" cy="311.7" r="1.4" fill="#e8687a" fill-opacity="0.55"/><circle cx="794.0" cy="300.4" r="1.4" fill="#d03a4c" fill-opacity="0.55"/><circle cx="794.0" cy="322.6" r="1.4" fill="#ff7a21" fill-opacity="0.55"/><circle cx="797.0" cy="323.1" r="1.4" fill="#f3b9c0" fill-opacity="0.55"/><circle cx="797.0" cy="322.6" r="1.4" fill="#ef8a95" fill-opacity="0.55"/><circle cx="797.0" cy="324.3" r="1.4" fill="#2f6fbe" fill-opacity="0.55"/><circle cx="797.0" cy="329.4" r="1.4" fill="#45b5b5" fill-opacity="0.55"/><circle cx="797.0" cy="328.8" r="1.4" fill="#9a2a3c" fill-opacity="0.55"/><circle cx="797.0" cy="328.8" r="1.4" fill="#ff7a21" fill-opacity="0.55"/><circle cx="563.0" cy="311.7" r="1.4" fill="#0073cf" fill-opacity="0.55"/><circle cx="565.0" cy="309.5" r="1.4" fill="#0073cf" fill-opacity="0.55"/><circle cx="567.0" cy="306.1" r="1.4" fill="#0073cf" fill-opacity="0.55"/><circle cx="572.0" cy="306.1" r="1.4" fill="#0073cf" fill-opacity="0.55"/><circle cx="576.5" cy="289.5" r="1.4" fill="#0073cf" fill-opacity="0.55"/><circle cx="588.0" cy="301.5" r="1.4" fill="#0073cf" fill-opacity="0.55"/><circle cx="603.5" cy="294.7" r="1.4" fill="#0073cf" fill-opacity="0.55"/><circle cx="604.0" cy="294.7" r="1.4" fill="#0073cf" fill-opacity="0.55"/><circle cx="607.0" cy="290.1" r="1.4" fill="#0073cf" fill-opacity="0.55"/><circle cx="617.5" cy="300.4" r="1.4" fill="#0073cf" fill-opacity="0.55"/><circle cx="626.0" cy="293.5" r="1.4" fill="#0073cf" fill-opacity="0.55"/><circle cx="631.5" cy="294.7" r="1.4" fill="#0073cf" fill-opacity="0.55"/><circle cx="633.0" cy="302.6" r="1.4" fill="#0073cf" fill-opacity="0.55"/><circle cx="636.0" cy="303.8" r="1.4" fill="#0073cf" fill-opacity="0.55"/><circle cx="641.5" cy="294.7" r="1.4" fill="#0073cf" fill-opacity="0.55"/><circle cx="646.0" cy="300.4" r="1.4" fill="#0073cf" fill-opacity="0.55"/><circle cx="648.0" cy="300.4" r="1.4" fill="#0073cf" fill-opacity="0.55"/><circle cx="651.0" cy="294.7" r="1.4" fill="#0073cf" fill-opacity="0.55"/><circle cx="652.0" cy="303.2" r="1.4" fill="#0073cf" fill-opacity="0.55"/><circle cx="659.5" cy="306.1" r="1.4" fill="#0073cf" fill-opacity="0.55"/><circle cx="661.5" cy="300.4" r="1.4" fill="#0073cf" fill-opacity="0.55"/><circle cx="662.0" cy="289.0" r="1.4" fill="#0073cf" fill-opacity="0.55"/><circle cx="666.0" cy="294.7" r="1.4" fill="#0073cf" fill-opacity="0.55"/><circle cx="672.0" cy="300.4" r="1.4" fill="#0073cf" fill-opacity="0.55"/><circle cx="673.0" cy="285.0" r="1.4" fill="#0073cf" fill-opacity="0.55"/><circle cx="674.5" cy="294.7" r="1.4" fill="#0073cf" fill-opacity="0.55"/><circle cx="676.0" cy="300.4" r="1.4" fill="#0073cf" fill-opacity="0.55"/><circle cx="686.0" cy="306.1" r="1.4" fill="#0073cf" fill-opacity="0.55"/><circle cx="688.5" cy="294.7" r="1.4" fill="#0073cf" fill-opacity="0.55"/><circle cx="692.0" cy="311.7" r="1.4" fill="#0073cf" fill-opacity="0.55"/><circle cx="696.0" cy="300.4" r="1.4" fill="#0073cf" fill-opacity="0.55"/><circle cx="699.5" cy="294.7" r="1.4" fill="#0073cf" fill-opacity="0.55"/><circle cx="706.0" cy="284.4" r="1.4" fill="#0073cf" fill-opacity="0.55"/><circle cx="707.5" cy="300.4" r="1.4" fill="#0073cf" fill-opacity="0.55"/><circle cx="708.0" cy="303.8" r="1.4" fill="#0073cf" fill-opacity="0.55"/><circle cx="716.0" cy="303.2" r="1.4" fill="#0073cf" fill-opacity="0.55"/><circle cx="718.5" cy="306.1" r="1.4" fill="#0073cf" fill-opacity="0.55"/><circle cx="719.0" cy="289.5" r="1.4" fill="#0073cf" fill-opacity="0.55"/><circle cx="722.5" cy="294.7" r="1.4" fill="#0073cf" fill-opacity="0.55"/><circle cx="723.5" cy="294.7" r="1.4" fill="#0073cf" fill-opacity="0.55"/><circle cx="724.0" cy="306.1" r="1.4" fill="#0073cf" fill-opacity="0.55"/><circle cx="732.0" cy="302.1" r="1.4" fill="#0073cf" fill-opacity="0.55"/><circle cx="733.5" cy="289.0" r="1.4" fill="#0073cf" fill-opacity="0.55"/><circle cx="734.0" cy="289.0" r="1.4" fill="#0073cf" fill-opacity="0.55"/><circle cx="736.0" cy="306.1" r="1.4" fill="#0073cf" fill-opacity="0.55"/><circle cx="740.0" cy="300.4" r="1.4" fill="#0073cf" fill-opacity="0.55"/><circle cx="742.0" cy="300.4" r="1.4" fill="#0073cf" fill-opacity="0.55"/><circle cx="746.0" cy="300.4" r="1.4" fill="#0073cf" fill-opacity="0.55"/><circle cx="752.5" cy="307.8" r="1.4" fill="#0073cf" fill-opacity="0.55"/><circle cx="756.5" cy="302.1" r="1.4" fill="#0073cf" fill-opacity="0.55"/><circle cx="760.0" cy="289.0" r="1.4" fill="#0073cf" fill-opacity="0.55"/><circle cx="762.5" cy="292.4" r="1.4" fill="#0073cf" fill-opacity="0.55"/><circle cx="764.5" cy="299.2" r="1.4" fill="#0073cf" fill-opacity="0.55"/><circle cx="765.5" cy="300.4" r="1.4" fill="#0073cf" fill-opacity="0.55"/><circle cx="766.5" cy="289.0" r="1.4" fill="#0073cf" fill-opacity="0.55"/><circle cx="767.0" cy="299.2" r="1.4" fill="#0073cf" fill-opacity="0.55"/><circle cx="772.5" cy="294.7" r="1.4" fill="#0073cf" fill-opacity="0.55"/><circle cx="777.0" cy="307.8" r="1.4" fill="#0073cf" fill-opacity="0.55"/><circle cx="778.0" cy="300.4" r="1.4" fill="#0073cf" fill-opacity="0.55"/><circle cx="780.5" cy="295.2" r="1.4" fill="#0073cf" fill-opacity="0.55"/><circle cx="783.0" cy="300.9" r="1.4" fill="#0073cf" fill-opacity="0.55"/><circle cx="785.5" cy="300.4" r="1.4" fill="#0073cf" fill-opacity="0.55"/><circle cx="786.0" cy="299.8" r="1.4" fill="#0073cf" fill-opacity="0.55"/><circle cx="787.0" cy="302.1" r="1.4" fill="#0073cf" fill-opacity="0.55"/><circle cx="792.0" cy="306.1" r="1.4" fill="#0073cf" fill-opacity="0.55"/><circle cx="794.0" cy="304.9" r="1.4" fill="#0073cf" fill-opacity="0.55"/><circle cx="797.0" cy="307.2" r="1.4" fill="#0073cf" fill-opacity="0.55"/><circle cx="563.0" cy="310.6" r="1.4" fill="#d03a4c" fill-opacity="0.55"/><circle cx="563.0" cy="317.4" r="1.4" fill="#ff7a21" fill-opacity="0.55"/><circle cx="572.0" cy="323.1" r="1.4" fill="#ff7a21" fill-opacity="0.55"/><circle cx="576.5" cy="314.6" r="1.4" fill="#ff7a21" fill-opacity="0.55"/><circle cx="588.0" cy="319.7" r="1.4" fill="#ff7a21" fill-opacity="0.55"/><circle cx="602.0" cy="311.2" r="1.4" fill="#d03a4c" fill-opacity="0.55"/><circle cx="603.5" cy="315.7" r="1.4" fill="#d03a4c" fill-opacity="0.55"/><circle cx="604.0" cy="306.1" r="1.4" fill="#d03a4c" fill-opacity="0.55"/><circle cx="604.0" cy="328.8" r="1.4" fill="#ff7a21" fill-opacity="0.55"/><circle cx="607.0" cy="311.7" r="1.4" fill="#d03a4c" fill-opacity="0.55"/><circle cx="616.0" cy="299.2" r="1.4" fill="#d03a4c" fill-opacity="0.55"/><circle cx="616.0" cy="311.7" r="1.4" fill="#ff7a21" fill-opacity="0.55"/><circle cx="617.5" cy="311.7" r="1.4" fill="#ff7a21" fill-opacity="0.55"/><circle cx="633.0" cy="297.5" r="1.4" fill="#d03a4c" fill-opacity="0.55"/><circle cx="646.0" cy="314.0" r="1.4" fill="#d03a4c" fill-opacity="0.55"/><circle cx="648.0" cy="292.4" r="1.4" fill="#ff7a21" fill-opacity="0.55"/><circle cx="652.0" cy="323.1" r="1.4" fill="#ff7a21" fill-opacity="0.55"/><circle cx="656.0" cy="311.7" r="1.4" fill="#d03a4c" fill-opacity="0.55"/><circle cx="658.5" cy="317.4" r="1.4" fill="#d03a4c" fill-opacity="0.55"/><circle cx="658.5" cy="306.1" r="1.4" fill="#ff7a21" fill-opacity="0.55"/><circle cx="659.5" cy="300.4" r="1.4" fill="#d03a4c" fill-opacity="0.55"/><circle cx="661.5" cy="317.4" r="1.4" fill="#d03a4c" fill-opacity="0.55"/><circle cx="661.5" cy="314.6" r="1.4" fill="#ff7a21" fill-opacity="0.55"/><circle cx="666.0" cy="299.8" r="1.4" fill="#d03a4c" fill-opacity="0.55"/><circle cx="672.0" cy="302.1" r="1.4" fill="#d03a4c" fill-opacity="0.55"/><circle cx="672.0" cy="298.1" r="1.4" fill="#ff7a21" fill-opacity="0.55"/><circle cx="673.0" cy="306.1" r="1.4" fill="#d03a4c" fill-opacity="0.55"/><circle cx="674.5" cy="311.7" r="1.4" fill="#d03a4c" fill-opacity="0.55"/><circle cx="674.5" cy="306.6" r="1.4" fill="#ff7a21" fill-opacity="0.55"/><circle cx="676.0" cy="300.4" r="1.4" fill="#d03a4c" fill-opacity="0.55"/><circle cx="676.0" cy="328.8" r="1.4" fill="#ff7a21" fill-opacity="0.55"/><circle cx="686.0" cy="322.6" r="1.4" fill="#d03a4c" fill-opacity="0.55"/><circle cx="688.5" cy="306.1" r="1.4" fill="#ff7a21" fill-opacity="0.55"/><circle cx="692.0" cy="328.8" r="1.4" fill="#d03a4c" fill-opacity="0.55"/><circle cx="699.5" cy="320.8" r="1.4" fill="#ff7a21" fill-opacity="0.55"/><circle cx="700.0" cy="289.0" r="1.4" fill="#d03a4c" fill-opacity="0.55"/><circle cx="700.0" cy="300.4" r="1.4" fill="#ff7a21" fill-opacity="0.55"/><circle cx="702.0" cy="306.1" r="1.4" fill="#ff7a21" fill-opacity="0.55"/><circle cx="706.0" cy="314.6" r="1.4" fill="#ff7a21" fill-opacity="0.55"/><circle cx="708.0" cy="306.1" r="1.4" fill="#d03a4c" fill-opacity="0.55"/><circle cx="712.5" cy="300.4" r="1.4" fill="#d03a4c" fill-opacity="0.55"/><circle cx="716.0" cy="302.1" r="1.4" fill="#d03a4c" fill-opacity="0.55"/><circle cx="716.0" cy="327.1" r="1.4" fill="#ff7a21" fill-opacity="0.55"/><circle cx="719.0" cy="309.5" r="1.4" fill="#d03a4c" fill-opacity="0.55"/><circle cx="719.0" cy="318.0" r="1.4" fill="#ff7a21" fill-opacity="0.55"/><circle cx="722.5" cy="326.0" r="1.4" fill="#d03a4c" fill-opacity="0.55"/><circle cx="723.5" cy="308.3" r="1.4" fill="#d03a4c" fill-opacity="0.55"/><circle cx="723.5" cy="300.4" r="1.4" fill="#ff7a21" fill-opacity="0.55"/><circle cx="724.0" cy="317.4" r="1.4" fill="#d03a4c" fill-opacity="0.55"/><circle cx="732.0" cy="322.6" r="1.4" fill="#d03a4c" fill-opacity="0.55"/><circle cx="732.0" cy="311.7" r="1.4" fill="#ff7a21" fill-opacity="0.55"/><circle cx="734.0" cy="303.8" r="1.4" fill="#d03a4c" fill-opacity="0.55"/><circle cx="734.0" cy="310.6" r="1.4" fill="#ff7a21" fill-opacity="0.55"/><circle cx="736.0" cy="311.7" r="1.4" fill="#ff7a21" fill-opacity="0.55"/><circle cx="740.0" cy="302.6" r="1.4" fill="#ff7a21" fill-opacity="0.55"/><circle cx="742.0" cy="306.1" r="1.4" fill="#d03a4c" fill-opacity="0.55"/><circle cx="742.0" cy="323.1" r="1.4" fill="#ff7a21" fill-opacity="0.55"/><circle cx="746.0" cy="295.8" r="1.4" fill="#ff7a21" fill-opacity="0.55"/><circle cx="752.5" cy="300.4" r="1.4" fill="#d03a4c" fill-opacity="0.55"/><circle cx="752.5" cy="319.1" r="1.4" fill="#ff7a21" fill-opacity="0.55"/><circle cx="760.0" cy="300.4" r="1.4" fill="#d03a4c" fill-opacity="0.55"/><circle cx="760.0" cy="311.7" r="1.4" fill="#ff7a21" fill-opacity="0.55"/><circle cx="764.5" cy="293.0" r="1.4" fill="#d03a4c" fill-opacity="0.55"/><circle cx="764.5" cy="318.0" r="1.4" fill="#ff7a21" fill-opacity="0.55"/><circle cx="765.5" cy="317.4" r="1.4" fill="#ff7a21" fill-opacity="0.55"/><circle cx="766.5" cy="328.8" r="1.4" fill="#d03a4c" fill-opacity="0.55"/><circle cx="767.0" cy="311.7" r="1.4" fill="#d03a4c" fill-opacity="0.55"/><circle cx="772.5" cy="330.5" r="1.4" fill="#ff7a21" fill-opacity="0.55"/><circle cx="777.0" cy="294.7" r="1.4" fill="#d03a4c" fill-opacity="0.55"/><circle cx="780.5" cy="314.6" r="1.4" fill="#ff7a21" fill-opacity="0.55"/><circle cx="783.0" cy="300.4" r="1.4" fill="#d03a4c" fill-opacity="0.55"/><circle cx="784.0" cy="315.2" r="1.4" fill="#d03a4c" fill-opacity="0.55"/><circle cx="785.5" cy="300.4" r="1.4" fill="#ff7a21" fill-opacity="0.55"/><circle cx="787.0" cy="306.1" r="1.4" fill="#d03a4c" fill-opacity="0.55"/><circle cx="787.0" cy="323.1" r="1.4" fill="#ff7a21" fill-opacity="0.55"/><circle cx="792.0" cy="317.4" r="1.4" fill="#ff7a21" fill-opacity="0.55"/><circle cx="794.0" cy="300.4" r="1.4" fill="#d03a4c" fill-opacity="0.55"/><circle cx="794.0" cy="323.1" r="1.4" fill="#ff7a21" fill-opacity="0.55"/><circle cx="797.0" cy="323.1" r="1.4" fill="#ff7a21" fill-opacity="0.55"/><circle cx="800.0" cy="323.1" r="1.4" fill="#f3b9c0" fill-opacity="0.55"/><circle cx="800.0" cy="328.8" r="1.4" fill="#45b5b5" fill-opacity="0.55"/><circle cx="800.0" cy="323.1" r="1.4" fill="#9a2a3c" fill-opacity="0.55"/><circle cx="800.0" cy="299.2" r="1.4" fill="#e8687a" fill-opacity="0.55"/><circle cx="800.0" cy="282.7" r="1.4" fill="#d03a4c" fill-opacity="0.55"/><circle cx="800.0" cy="323.1" r="1.4" fill="#ff7a21" fill-opacity="0.55"/><circle cx="800.0" cy="319.7" r="1.4" fill="#2f6fbe" fill-opacity="0.55"/><circle cx="800.0" cy="323.1" r="1.4" fill="#45b5b5" fill-opacity="0.55"/><circle cx="800.0" cy="311.7" r="1.4" fill="#9a2a3c" fill-opacity="0.55"/><circle cx="800.0" cy="306.1" r="1.4" fill="#ff7a21" fill-opacity="0.55"/><circle cx="800.0" cy="311.7" r="1.4" fill="#0073cf" fill-opacity="0.55"/><circle cx="800.0" cy="312.9" r="1.4" fill="#2f6fbe" fill-opacity="0.55"/><circle cx="800.0" cy="328.8" r="1.4" fill="#45b5b5" fill-opacity="0.55"/><circle cx="800.0" cy="308.3" r="1.4" fill="#e8687a" fill-opacity="0.55"/><circle cx="800.0" cy="328.8" r="1.4" fill="#ff7a21" fill-opacity="0.55"/><circle cx="800.7" cy="328.8" r="1.4" fill="#6b9bd0" fill-opacity="0.55"/><circle cx="800.7" cy="323.1" r="1.4" fill="#2f6fbe" fill-opacity="0.55"/><circle cx="800.7" cy="316.9" r="1.4" fill="#9a2a3c" fill-opacity="0.55"/><circle cx="800.7" cy="306.1" r="1.4" fill="#e8687a" fill-opacity="0.55"/><circle cx="800.7" cy="283.3" r="1.4" fill="#d03a4c" fill-opacity="0.55"/><circle cx="800.7" cy="311.7" r="1.4" fill="#ff7a21" fill-opacity="0.55"/><circle cx="800.0" cy="323.1" r="1.4" fill="#f3b9c0" fill-opacity="0.55"/><circle cx="800.0" cy="311.7" r="1.4" fill="#9a2a3c" fill-opacity="0.55"/><circle cx="800.0" cy="317.4" r="1.4" fill="#ff7a21" fill-opacity="0.55"/><circle cx="800.0" cy="306.6" r="1.4" fill="#0073cf" fill-opacity="0.55"/><circle cx="802.1" cy="328.8" r="1.4" fill="#f3b9c0" fill-opacity="0.55"/><circle cx="802.1" cy="317.4" r="1.4" fill="#2f6fbe" fill-opacity="0.55"/><circle cx="802.1" cy="300.4" r="1.4" fill="#e8687a" fill-opacity="0.55"/><circle cx="802.1" cy="306.1" r="1.4" fill="#d03a4c" fill-opacity="0.55"/><circle cx="802.1" cy="323.1" r="1.4" fill="#ff7a21" fill-opacity="0.55"/><circle cx="802.1" cy="311.7" r="1.4" fill="#0073cf" fill-opacity="0.55"/><circle cx="802.1" cy="328.8" r="1.4" fill="#f3b9c0" fill-opacity="0.55"/><circle cx="802.1" cy="328.8" r="1.4" fill="#6b9bd0" fill-opacity="0.55"/><circle cx="802.1" cy="328.8" r="1.4" fill="#ef8a95" fill-opacity="0.55"/><circle cx="802.1" cy="326.0" r="1.4" fill="#2f6fbe" fill-opacity="0.55"/><circle cx="802.1" cy="317.4" r="1.4" fill="#9a2a3c" fill-opacity="0.55"/><circle cx="802.1" cy="294.7" r="1.4" fill="#d03a4c" fill-opacity="0.55"/><circle cx="803.5" cy="330.5" r="1.4" fill="#f3b9c0" fill-opacity="0.55"/><circle cx="803.5" cy="320.8" r="1.4" fill="#6b9bd0" fill-opacity="0.55"/><circle cx="803.5" cy="317.4" r="1.4" fill="#2f6fbe" fill-opacity="0.55"/><circle cx="803.5" cy="328.8" r="1.4" fill="#9a2a3c" fill-opacity="0.55"/><circle cx="803.5" cy="289.0" r="1.4" fill="#e8687a" fill-opacity="0.55"/><circle cx="803.5" cy="306.1" r="1.4" fill="#d03a4c" fill-opacity="0.55"/><circle cx="803.5" cy="317.4" r="1.4" fill="#ff7a21" fill-opacity="0.55"/><circle cx="803.5" cy="328.8" r="1.4" fill="#f3b9c0" fill-opacity="0.55"/><circle cx="803.5" cy="322.0" r="1.4" fill="#6b9bd0" fill-opacity="0.55"/><circle cx="803.5" cy="328.8" r="1.4" fill="#ef8a95" fill-opacity="0.55"/><circle cx="803.5" cy="328.8" r="1.4" fill="#45b5b5" fill-opacity="0.55"/><circle cx="803.5" cy="328.8" r="1.4" fill="#9a2a3c" fill-opacity="0.55"/><circle cx="803.5" cy="284.4" r="1.4" fill="#d03a4c" fill-opacity="0.55"/><circle cx="803.5" cy="316.9" r="1.4" fill="#ff7a21" fill-opacity="0.55"/><circle cx="804.5" cy="317.4" r="1.4" fill="#f3b9c0" fill-opacity="0.55"/><circle cx="804.5" cy="322.6" r="1.4" fill="#6b9bd0" fill-opacity="0.55"/><circle cx="804.5" cy="328.8" r="1.4" fill="#45b5b5" fill-opacity="0.55"/><circle cx="804.5" cy="289.0" r="1.4" fill="#e8687a" fill-opacity="0.55"/><circle cx="804.5" cy="297.5" r="1.4" fill="#d03a4c" fill-opacity="0.55"/><circle cx="804.5" cy="311.7" r="1.4" fill="#ff7a21" fill-opacity="0.55"/><circle cx="804.5" cy="316.9" r="1.4" fill="#0073cf" fill-opacity="0.55"/><circle cx="804.5" cy="317.4" r="1.4" fill="#6b9bd0" fill-opacity="0.55"/><circle cx="804.5" cy="328.8" r="1.4" fill="#ef8a95" fill-opacity="0.55"/><circle cx="804.5" cy="318.6" r="1.4" fill="#2f6fbe" fill-opacity="0.55"/><circle cx="804.5" cy="326.0" r="1.4" fill="#45b5b5" fill-opacity="0.55"/><circle cx="804.5" cy="323.1" r="1.4" fill="#9a2a3c" fill-opacity="0.55"/><circle cx="804.5" cy="307.8" r="1.4" fill="#e8687a" fill-opacity="0.55"/><circle cx="804.5" cy="300.4" r="1.4" fill="#d03a4c" fill-opacity="0.55"/><circle cx="804.5" cy="315.7" r="1.4" fill="#0073cf" fill-opacity="0.55"/><circle cx="804.9" cy="328.8" r="1.4" fill="#ef8a95" fill-opacity="0.55"/><circle cx="804.9" cy="324.3" r="1.4" fill="#45b5b5" fill-opacity="0.55"/><circle cx="804.9" cy="315.7" r="1.4" fill="#9a2a3c" fill-opacity="0.55"/><circle cx="804.9" cy="304.3" r="1.4" fill="#e8687a" fill-opacity="0.55"/><circle cx="804.9" cy="317.4" r="1.4" fill="#ff7a21" fill-opacity="0.55"/><circle cx="804.5" cy="317.4" r="1.4" fill="#f3b9c0" fill-opacity="0.55"/><circle cx="804.5" cy="323.1" r="1.4" fill="#6b9bd0" fill-opacity="0.55"/><circle cx="804.5" cy="331.7" r="1.4" fill="#2f6fbe" fill-opacity="0.55"/><circle cx="804.5" cy="311.7" r="1.4" fill="#9a2a3c" fill-opacity="0.55"/><circle cx="804.5" cy="294.7" r="1.4" fill="#d03a4c" fill-opacity="0.55"/><circle cx="804.5" cy="323.1" r="1.4" fill="#ff7a21" fill-opacity="0.55"/><circle cx="806.3" cy="319.7" r="1.4" fill="#f3b9c0" fill-opacity="0.55"/><circle cx="806.3" cy="323.1" r="1.4" fill="#6b9bd0" fill-opacity="0.55"/><circle cx="806.3" cy="328.8" r="1.4" fill="#ef8a95" fill-opacity="0.55"/><circle cx="806.3" cy="317.4" r="1.4" fill="#2f6fbe" fill-opacity="0.55"/><circle cx="806.3" cy="322.6" r="1.4" fill="#9a2a3c" fill-opacity="0.55"/><circle cx="806.3" cy="296.9" r="1.4" fill="#e8687a" fill-opacity="0.55"/><circle cx="806.3" cy="317.4" r="1.4" fill="#0073cf" fill-opacity="0.55"/><circle cx="807.0" cy="326.0" r="1.4" fill="#f3b9c0" fill-opacity="0.55"/><circle cx="807.0" cy="328.8" r="1.4" fill="#6b9bd0" fill-opacity="0.55"/><circle cx="807.0" cy="317.4" r="1.4" fill="#2f6fbe" fill-opacity="0.55"/><circle cx="807.0" cy="327.7" r="1.4" fill="#45b5b5" fill-opacity="0.55"/><circle cx="807.0" cy="296.9" r="1.4" fill="#e8687a" fill-opacity="0.55"/><circle cx="807.0" cy="322.0" r="1.4" fill="#ff7a21" fill-opacity="0.55"/><circle cx="809.0" cy="328.8" r="1.4" fill="#f3b9c0" fill-opacity="0.55"/><circle cx="809.0" cy="317.4" r="1.4" fill="#ef8a95" fill-opacity="0.55"/><circle cx="809.0" cy="311.7" r="1.4" fill="#2f6fbe" fill-opacity="0.55"/><circle cx="809.0" cy="324.3" r="1.4" fill="#45b5b5" fill-opacity="0.55"/><circle cx="809.0" cy="323.1" r="1.4" fill="#9a2a3c" fill-opacity="0.55"/><circle cx="809.0" cy="298.1" r="1.4" fill="#e8687a" fill-opacity="0.55"/><circle cx="809.0" cy="306.1" r="1.4" fill="#d03a4c" fill-opacity="0.55"/><circle cx="809.0" cy="317.4" r="1.4" fill="#0073cf" fill-opacity="0.55"/><circle cx="809.0" cy="317.4" r="1.4" fill="#6b9bd0" fill-opacity="0.55"/><circle cx="809.0" cy="328.8" r="1.4" fill="#ef8a95" fill-opacity="0.55"/><circle cx="809.0" cy="323.1" r="1.4" fill="#9a2a3c" fill-opacity="0.55"/><circle cx="809.0" cy="300.4" r="1.4" fill="#e8687a" fill-opacity="0.55"/><circle cx="809.0" cy="294.7" r="1.4" fill="#d03a4c" fill-opacity="0.55"/><circle cx="809.0" cy="316.9" r="1.4" fill="#ff7a21" fill-opacity="0.55"/><circle cx="809.0" cy="319.7" r="1.4" fill="#0073cf" fill-opacity="0.55"/><circle cx="808.4" cy="324.3" r="1.4" fill="#f3b9c0" fill-opacity="0.55"/><circle cx="808.4" cy="331.7" r="1.4" fill="#6b9bd0" fill-opacity="0.55"/><circle cx="808.4" cy="323.1" r="1.4" fill="#ef8a95" fill-opacity="0.55"/><circle cx="808.4" cy="317.4" r="1.4" fill="#2f6fbe" fill-opacity="0.55"/><circle cx="808.4" cy="325.4" r="1.4" fill="#9a2a3c" fill-opacity="0.55"/><circle cx="808.4" cy="323.1" r="1.4" fill="#ff7a21" fill-opacity="0.55"/><circle cx="808.4" cy="311.7" r="1.4" fill="#0073cf" fill-opacity="0.55"/><circle cx="809.8" cy="322.6" r="1.4" fill="#ef8a95" fill-opacity="0.55"/><circle cx="809.8" cy="316.9" r="1.4" fill="#2f6fbe" fill-opacity="0.55"/><circle cx="809.8" cy="328.8" r="1.4" fill="#45b5b5" fill-opacity="0.55"/><circle cx="809.8" cy="321.4" r="1.4" fill="#9a2a3c" fill-opacity="0.55"/><circle cx="809.8" cy="283.3" r="1.4" fill="#e8687a" fill-opacity="0.55"/><circle cx="809.8" cy="294.7" r="1.4" fill="#d03a4c" fill-opacity="0.55"/><circle cx="809.0" cy="323.1" r="1.4" fill="#6b9bd0" fill-opacity="0.55"/><circle cx="809.0" cy="310.6" r="1.4" fill="#e8687a" fill-opacity="0.55"/><circle cx="809.0" cy="309.5" r="1.4" fill="#d03a4c" fill-opacity="0.55"/><circle cx="809.0" cy="314.0" r="1.4" fill="#ff7a21" fill-opacity="0.55"/><circle cx="813.5" cy="315.2" r="1.4" fill="#f3b9c0" fill-opacity="0.55"/><circle cx="813.5" cy="312.9" r="1.4" fill="#e8687a" fill-opacity="0.55"/><circle cx="813.5" cy="317.4" r="1.4" fill="#ff7a21" fill-opacity="0.55"/><circle cx="813.5" cy="312.3" r="1.4" fill="#0073cf" fill-opacity="0.55"/><circle cx="813.5" cy="326.0" r="1.4" fill="#6b9bd0" fill-opacity="0.55"/><circle cx="813.5" cy="323.1" r="1.4" fill="#ef8a95" fill-opacity="0.55"/><circle cx="813.5" cy="311.7" r="1.4" fill="#2f6fbe" fill-opacity="0.55"/><circle cx="813.5" cy="295.2" r="1.4" fill="#e8687a" fill-opacity="0.55"/><circle cx="813.5" cy="328.8" r="1.4" fill="#0073cf" fill-opacity="0.55"/><circle cx="813.3" cy="331.1" r="1.4" fill="#ef8a95" fill-opacity="0.55"/><circle cx="813.3" cy="323.1" r="1.4" fill="#2f6fbe" fill-opacity="0.55"/><circle cx="813.3" cy="317.4" r="1.4" fill="#45b5b5" fill-opacity="0.55"/><circle cx="813.3" cy="289.0" r="1.4" fill="#e8687a" fill-opacity="0.55"/><circle cx="813.3" cy="308.3" r="1.4" fill="#d03a4c" fill-opacity="0.55"/><circle cx="813.3" cy="311.7" r="1.4" fill="#ff7a21" fill-opacity="0.55"/><circle cx="813.3" cy="317.4" r="1.4" fill="#0073cf" fill-opacity="0.55"/><circle cx="813.3" cy="330.5" r="1.4" fill="#6b9bd0" fill-opacity="0.55"/><circle cx="813.3" cy="323.1" r="1.4" fill="#ef8a95" fill-opacity="0.55"/><circle cx="813.3" cy="328.8" r="1.4" fill="#45b5b5" fill-opacity="0.55"/><circle cx="813.3" cy="328.8" r="1.4" fill="#ff7a21" fill-opacity="0.55"/><circle cx="813.3" cy="315.2" r="1.4" fill="#0073cf" fill-opacity="0.55"/><circle cx="813.5" cy="323.1" r="1.4" fill="#f3b9c0" fill-opacity="0.55"/><circle cx="813.5" cy="322.6" r="1.4" fill="#ef8a95" fill-opacity="0.55"/><circle cx="813.5" cy="319.7" r="1.4" fill="#2f6fbe" fill-opacity="0.55"/><circle cx="813.5" cy="317.4" r="1.4" fill="#9a2a3c" fill-opacity="0.55"/><circle cx="813.5" cy="320.3" r="1.4" fill="#0073cf" fill-opacity="0.55"/><circle cx="814.7" cy="329.4" r="1.4" fill="#f3b9c0" fill-opacity="0.55"/><circle cx="814.7" cy="330.5" r="1.4" fill="#ef8a95" fill-opacity="0.55"/><circle cx="814.7" cy="317.4" r="1.4" fill="#2f6fbe" fill-opacity="0.55"/><circle cx="814.7" cy="317.4" r="1.4" fill="#9a2a3c" fill-opacity="0.55"/><circle cx="814.7" cy="309.5" r="1.4" fill="#e8687a" fill-opacity="0.55"/><circle cx="815.4" cy="327.1" r="1.4" fill="#f3b9c0" fill-opacity="0.55"/><circle cx="815.4" cy="319.7" r="1.4" fill="#ef8a95" fill-opacity="0.55"/><circle cx="815.4" cy="312.9" r="1.4" fill="#2f6fbe" fill-opacity="0.55"/><circle cx="815.4" cy="320.3" r="1.4" fill="#9a2a3c" fill-opacity="0.55"/><circle cx="815.4" cy="306.6" r="1.4" fill="#e8687a" fill-opacity="0.55"/><circle cx="815.4" cy="327.1" r="1.4" fill="#f3b9c0" fill-opacity="0.55"/><circle cx="815.4" cy="314.0" r="1.4" fill="#2f6fbe" fill-opacity="0.55"/><circle cx="815.4" cy="317.4" r="1.4" fill="#9a2a3c" fill-opacity="0.55"/><circle cx="815.4" cy="294.1" r="1.4" fill="#e8687a" fill-opacity="0.55"/><circle cx="815.4" cy="300.4" r="1.4" fill="#d03a4c" fill-opacity="0.55"/><circle cx="815.4" cy="323.1" r="1.4" fill="#ff7a21" fill-opacity="0.55"/><circle cx="818.0" cy="323.1" r="1.4" fill="#f3b9c0" fill-opacity="0.55"/><circle cx="818.0" cy="323.1" r="1.4" fill="#ef8a95" fill-opacity="0.55"/><circle cx="818.0" cy="311.7" r="1.4" fill="#2f6fbe" fill-opacity="0.55"/><circle cx="818.0" cy="323.1" r="1.4" fill="#45b5b5" fill-opacity="0.55"/><circle cx="818.0" cy="299.2" r="1.4" fill="#e8687a" fill-opacity="0.55"/><circle cx="818.0" cy="311.7" r="1.4" fill="#0073cf" fill-opacity="0.55"/><circle cx="818.2" cy="319.1" r="1.4" fill="#f3b9c0" fill-opacity="0.55"/><circle cx="818.2" cy="328.8" r="1.4" fill="#ef8a95" fill-opacity="0.55"/><circle cx="818.2" cy="308.3" r="1.4" fill="#2f6fbe" fill-opacity="0.55"/><circle cx="818.2" cy="326.5" r="1.4" fill="#45b5b5" fill-opacity="0.55"/><circle cx="818.2" cy="323.1" r="1.4" fill="#9a2a3c" fill-opacity="0.55"/><circle cx="818.2" cy="300.4" r="1.4" fill="#d03a4c" fill-opacity="0.55"/><circle cx="818.0" cy="324.3" r="1.4" fill="#f3b9c0" fill-opacity="0.55"/><circle cx="818.0" cy="328.2" r="1.4" fill="#6b9bd0" fill-opacity="0.55"/><circle cx="818.0" cy="314.6" r="1.4" fill="#9a2a3c" fill-opacity="0.55"/><circle cx="818.0" cy="311.7" r="1.4" fill="#d03a4c" fill-opacity="0.55"/><circle cx="818.0" cy="315.2" r="1.4" fill="#ff7a21" fill-opacity="0.55"/><circle cx="818.0" cy="326.0" r="1.4" fill="#0073cf" fill-opacity="0.55"/><circle cx="818.0" cy="328.8" r="1.4" fill="#f3b9c0" fill-opacity="0.55"/><circle cx="818.0" cy="330.5" r="1.4" fill="#6b9bd0" fill-opacity="0.55"/><circle cx="818.0" cy="317.4" r="1.4" fill="#2f6fbe" fill-opacity="0.55"/><circle cx="818.0" cy="328.2" r="1.4" fill="#45b5b5" fill-opacity="0.55"/><circle cx="818.0" cy="281.0" r="1.4" fill="#e8687a" fill-opacity="0.55"/><circle cx="818.0" cy="312.3" r="1.4" fill="#ff7a21" fill-opacity="0.55"/><circle cx="819.6" cy="329.4" r="1.4" fill="#ef8a95" fill-opacity="0.55"/><circle cx="819.6" cy="315.2" r="1.4" fill="#9a2a3c" fill-opacity="0.55"/><circle cx="819.6" cy="294.7" r="1.4" fill="#e8687a" fill-opacity="0.55"/><circle cx="819.6" cy="289.0" r="1.4" fill="#d03a4c" fill-opacity="0.55"/><circle cx="819.6" cy="312.3" r="1.4" fill="#0073cf" fill-opacity="0.55"/><circle cx="821.0" cy="323.1" r="1.4" fill="#f3b9c0" fill-opacity="0.55"/><circle cx="821.0" cy="328.8" r="1.4" fill="#ef8a95" fill-opacity="0.55"/><circle cx="821.0" cy="326.0" r="1.4" fill="#2f6fbe" fill-opacity="0.55"/><circle cx="821.0" cy="324.8" r="1.4" fill="#45b5b5" fill-opacity="0.55"/><circle cx="821.0" cy="323.1" r="1.4" fill="#9a2a3c" fill-opacity="0.55"/><circle cx="821.0" cy="285.0" r="1.4" fill="#e8687a" fill-opacity="0.55"/><circle cx="821.0" cy="298.1" r="1.4" fill="#d03a4c" fill-opacity="0.55"/><circle cx="821.0" cy="323.1" r="1.4" fill="#0073cf" fill-opacity="0.55"/><circle cx="821.0" cy="328.8" r="1.4" fill="#6b9bd0" fill-opacity="0.55"/><circle cx="821.0" cy="328.8" r="1.4" fill="#45b5b5" fill-opacity="0.55"/><circle cx="821.0" cy="324.8" r="1.4" fill="#9a2a3c" fill-opacity="0.55"/><circle cx="821.0" cy="320.3" r="1.4" fill="#0073cf" fill-opacity="0.55"/><circle cx="822.4" cy="328.8" r="1.4" fill="#f3b9c0" fill-opacity="0.55"/><circle cx="822.4" cy="317.4" r="1.4" fill="#2f6fbe" fill-opacity="0.55"/><circle cx="822.4" cy="328.8" r="1.4" fill="#45b5b5" fill-opacity="0.55"/><circle cx="822.4" cy="294.7" r="1.4" fill="#e8687a" fill-opacity="0.55"/><circle cx="822.4" cy="300.4" r="1.4" fill="#d03a4c" fill-opacity="0.55"/><circle cx="822.4" cy="324.8" r="1.4" fill="#ff7a21" fill-opacity="0.55"/><circle cx="822.5" cy="321.4" r="1.4" fill="#9a2a3c" fill-opacity="0.55"/><circle cx="822.5" cy="323.1" r="1.4" fill="#ff7a21" fill-opacity="0.55"/><circle cx="822.5" cy="328.8" r="1.4" fill="#0073cf" fill-opacity="0.55"/><circle cx="823.8" cy="317.4" r="1.4" fill="#2f6fbe" fill-opacity="0.55"/><circle cx="823.8" cy="320.3" r="1.4" fill="#9a2a3c" fill-opacity="0.55"/><circle cx="823.8" cy="317.4" r="1.4" fill="#ff7a21" fill-opacity="0.55"/><circle cx="823.8" cy="323.1" r="1.4" fill="#0073cf" fill-opacity="0.55"/><circle cx="825.9" cy="326.0" r="1.4" fill="#f3b9c0" fill-opacity="0.55"/><circle cx="825.9" cy="326.0" r="1.4" fill="#45b5b5" fill-opacity="0.55"/><circle cx="825.9" cy="317.4" r="1.4" fill="#9a2a3c" fill-opacity="0.55"/><circle cx="825.9" cy="311.7" r="1.4" fill="#e8687a" fill-opacity="0.55"/><circle cx="825.9" cy="301.5" r="1.4" fill="#d03a4c" fill-opacity="0.55"/><circle cx="825.9" cy="317.4" r="1.4" fill="#0073cf" fill-opacity="0.55"/><circle cx="827.0" cy="322.0" r="1.4" fill="#6b9bd0" fill-opacity="0.55"/><circle cx="827.0" cy="316.9" r="1.4" fill="#2f6fbe" fill-opacity="0.55"/><circle cx="827.0" cy="328.8" r="1.4" fill="#45b5b5" fill-opacity="0.55"/><circle cx="827.0" cy="309.5" r="1.4" fill="#9a2a3c" fill-opacity="0.55"/><circle cx="827.0" cy="293.5" r="1.4" fill="#e8687a" fill-opacity="0.55"/><circle cx="827.0" cy="311.7" r="1.4" fill="#0073cf" fill-opacity="0.55"/><circle cx="827.0" cy="330.5" r="1.4" fill="#6b9bd0" fill-opacity="0.55"/><circle cx="827.0" cy="318.0" r="1.4" fill="#2f6fbe" fill-opacity="0.55"/><circle cx="827.0" cy="314.0" r="1.4" fill="#9a2a3c" fill-opacity="0.55"/><circle cx="827.0" cy="283.3" r="1.4" fill="#e8687a" fill-opacity="0.55"/><circle cx="827.0" cy="328.8" r="1.4" fill="#ff7a21" fill-opacity="0.55"/><circle cx="827.0" cy="323.1" r="1.4" fill="#6b9bd0" fill-opacity="0.55"/><circle cx="827.0" cy="323.1" r="1.4" fill="#45b5b5" fill-opacity="0.55"/><circle cx="827.0" cy="320.3" r="1.4" fill="#9a2a3c" fill-opacity="0.55"/><circle cx="827.0" cy="319.1" r="1.4" fill="#0073cf" fill-opacity="0.55"/><circle cx="831.5" cy="325.4" r="1.4" fill="#f3b9c0" fill-opacity="0.55"/><circle cx="831.5" cy="323.1" r="1.4" fill="#ef8a95" fill-opacity="0.55"/><circle cx="831.5" cy="322.6" r="1.4" fill="#2f6fbe" fill-opacity="0.55"/><circle cx="831.5" cy="289.5" r="1.4" fill="#e8687a" fill-opacity="0.55"/><circle cx="831.5" cy="310.0" r="1.4" fill="#d03a4c" fill-opacity="0.55"/><circle cx="831.5" cy="323.1" r="1.4" fill="#ff7a21" fill-opacity="0.55"/><circle cx="831.5" cy="323.1" r="1.4" fill="#0073cf" fill-opacity="0.55"/><circle cx="829.4" cy="317.4" r="1.4" fill="#f3b9c0" fill-opacity="0.55"/><circle cx="829.4" cy="317.4" r="1.4" fill="#2f6fbe" fill-opacity="0.55"/><circle cx="829.4" cy="323.7" r="1.4" fill="#9a2a3c" fill-opacity="0.55"/><circle cx="829.4" cy="294.7" r="1.4" fill="#e8687a" fill-opacity="0.55"/><circle cx="829.4" cy="303.2" r="1.4" fill="#d03a4c" fill-opacity="0.55"/><circle cx="831.5" cy="328.8" r="1.4" fill="#6b9bd0" fill-opacity="0.55"/><circle cx="831.5" cy="328.8" r="1.4" fill="#ef8a95" fill-opacity="0.55"/><circle cx="831.5" cy="326.5" r="1.4" fill="#6b9bd0" fill-opacity="0.55"/><circle cx="831.5" cy="316.9" r="1.4" fill="#2f6fbe" fill-opacity="0.55"/><circle cx="831.5" cy="328.8" r="1.4" fill="#45b5b5" fill-opacity="0.55"/><circle cx="831.5" cy="323.1" r="1.4" fill="#9a2a3c" fill-opacity="0.55"/><circle cx="831.5" cy="289.0" r="1.4" fill="#e8687a" fill-opacity="0.55"/><circle cx="831.5" cy="328.8" r="1.4" fill="#45b5b5" fill-opacity="0.55"/><circle cx="831.5" cy="315.7" r="1.4" fill="#9a2a3c" fill-opacity="0.55"/><circle cx="831.5" cy="299.8" r="1.4" fill="#d03a4c" fill-opacity="0.55"/><circle cx="831.5" cy="328.8" r="1.4" fill="#0073cf" fill-opacity="0.55"/><circle cx="832.2" cy="328.8" r="1.4" fill="#6b9bd0" fill-opacity="0.55"/><circle cx="832.2" cy="323.1" r="1.4" fill="#2f6fbe" fill-opacity="0.55"/><circle cx="832.2" cy="316.3" r="1.4" fill="#9a2a3c" fill-opacity="0.55"/><circle cx="832.2" cy="323.1" r="1.4" fill="#ff7a21" fill-opacity="0.55"/><circle cx="832.2" cy="323.1" r="1.4" fill="#0073cf" fill-opacity="0.55"/><circle cx="831.5" cy="323.1" r="1.4" fill="#ef8a95" fill-opacity="0.55"/><circle cx="831.5" cy="301.5" r="1.4" fill="#d03a4c" fill-opacity="0.55"/><circle cx="831.5" cy="317.4" r="1.4" fill="#ff7a21" fill-opacity="0.55"/><circle cx="836.0" cy="329.9" r="1.4" fill="#6b9bd0" fill-opacity="0.55"/><circle cx="836.0" cy="328.8" r="1.4" fill="#ef8a95" fill-opacity="0.55"/><circle cx="836.0" cy="317.4" r="1.4" fill="#2f6fbe" fill-opacity="0.55"/><circle cx="836.0" cy="328.8" r="1.4" fill="#45b5b5" fill-opacity="0.55"/><circle cx="836.0" cy="300.4" r="1.4" fill="#d03a4c" fill-opacity="0.55"/><circle cx="836.0" cy="323.1" r="1.4" fill="#ff7a21" fill-opacity="0.55"/><circle cx="835.7" cy="326.5" r="1.4" fill="#f3b9c0" fill-opacity="0.55"/><circle cx="835.7" cy="328.2" r="1.4" fill="#6b9bd0" fill-opacity="0.55"/><circle cx="835.7" cy="321.4" r="1.4" fill="#ef8a95" fill-opacity="0.55"/><circle cx="835.7" cy="323.1" r="1.4" fill="#9a2a3c" fill-opacity="0.55"/><circle cx="835.7" cy="291.8" r="1.4" fill="#e8687a" fill-opacity="0.55"/><circle cx="835.7" cy="304.3" r="1.4" fill="#d03a4c" fill-opacity="0.55"/><circle cx="835.7" cy="319.7" r="1.4" fill="#ff7a21" fill-opacity="0.55"/><circle cx="835.7" cy="320.3" r="1.4" fill="#0073cf" fill-opacity="0.55"/><circle cx="837.1" cy="323.1" r="1.4" fill="#f3b9c0" fill-opacity="0.55"/><circle cx="837.1" cy="321.4" r="1.4" fill="#ef8a95" fill-opacity="0.55"/><circle cx="837.1" cy="320.8" r="1.4" fill="#2f6fbe" fill-opacity="0.55"/><circle cx="837.1" cy="328.8" r="1.4" fill="#45b5b5" fill-opacity="0.55"/><circle cx="837.1" cy="318.0" r="1.4" fill="#9a2a3c" fill-opacity="0.55"/><circle cx="837.1" cy="294.7" r="1.4" fill="#e8687a" fill-opacity="0.55"/><circle cx="837.1" cy="317.4" r="1.4" fill="#ff7a21" fill-opacity="0.55"/><circle cx="837.1" cy="319.1" r="1.4" fill="#0073cf" fill-opacity="0.55"/><circle cx="836.0" cy="324.8" r="1.4" fill="#f3b9c0" fill-opacity="0.55"/><circle cx="836.0" cy="323.1" r="1.4" fill="#ef8a95" fill-opacity="0.55"/><circle cx="836.0" cy="315.2" r="1.4" fill="#2f6fbe" fill-opacity="0.55"/><circle cx="836.0" cy="323.1" r="1.4" fill="#45b5b5" fill-opacity="0.55"/><circle cx="836.0" cy="317.4" r="1.4" fill="#9a2a3c" fill-opacity="0.55"/><circle cx="836.0" cy="289.0" r="1.4" fill="#e8687a" fill-opacity="0.55"/><circle cx="836.0" cy="320.3" r="1.4" fill="#d03a4c" fill-opacity="0.55"/><circle cx="836.0" cy="317.4" r="1.4" fill="#ff7a21" fill-opacity="0.55"/><circle cx="838.5" cy="317.4" r="1.4" fill="#f3b9c0" fill-opacity="0.55"/><circle cx="838.5" cy="328.8" r="1.4" fill="#6b9bd0" fill-opacity="0.55"/><circle cx="838.5" cy="317.4" r="1.4" fill="#ef8a95" fill-opacity="0.55"/><circle cx="838.5" cy="311.7" r="1.4" fill="#2f6fbe" fill-opacity="0.55"/><circle cx="838.5" cy="323.1" r="1.4" fill="#9a2a3c" fill-opacity="0.55"/><circle cx="838.5" cy="300.4" r="1.4" fill="#e8687a" fill-opacity="0.55"/><circle cx="838.5" cy="311.7" r="1.4" fill="#ff7a21" fill-opacity="0.55"/><circle cx="838.5" cy="311.7" r="1.4" fill="#0073cf" fill-opacity="0.55"/><circle cx="839.9" cy="320.8" r="1.4" fill="#6b9bd0" fill-opacity="0.55"/><circle cx="839.9" cy="323.1" r="1.4" fill="#ef8a95" fill-opacity="0.55"/><circle cx="839.9" cy="328.8" r="1.4" fill="#2f6fbe" fill-opacity="0.55"/><circle cx="839.9" cy="326.5" r="1.4" fill="#ff7a21" fill-opacity="0.55"/><circle cx="839.9" cy="322.0" r="1.4" fill="#0073cf" fill-opacity="0.55"/><circle cx="839.9" cy="317.4" r="1.4" fill="#f3b9c0" fill-opacity="0.55"/><circle cx="839.9" cy="328.8" r="1.4" fill="#6b9bd0" fill-opacity="0.55"/><circle cx="839.9" cy="319.1" r="1.4" fill="#2f6fbe" fill-opacity="0.55"/><circle cx="839.9" cy="327.1" r="1.4" fill="#45b5b5" fill-opacity="0.55"/><circle cx="839.9" cy="323.1" r="1.4" fill="#9a2a3c" fill-opacity="0.55"/><circle cx="839.9" cy="286.7" r="1.4" fill="#e8687a" fill-opacity="0.55"/><circle cx="839.9" cy="323.7" r="1.4" fill="#ff7a21" fill-opacity="0.55"/><circle cx="839.9" cy="317.4" r="1.4" fill="#0073cf" fill-opacity="0.55"/><circle cx="841.3" cy="328.8" r="1.4" fill="#6b9bd0" fill-opacity="0.55"/><circle cx="841.3" cy="323.1" r="1.4" fill="#ef8a95" fill-opacity="0.55"/><circle cx="841.3" cy="321.4" r="1.4" fill="#2f6fbe" fill-opacity="0.55"/><circle cx="841.3" cy="328.8" r="1.4" fill="#45b5b5" fill-opacity="0.55"/><circle cx="841.3" cy="323.7" r="1.4" fill="#9a2a3c" fill-opacity="0.55"/><circle cx="841.3" cy="296.4" r="1.4" fill="#e8687a" fill-opacity="0.55"/><circle cx="841.3" cy="300.4" r="1.4" fill="#d03a4c" fill-opacity="0.55"/><circle cx="841.3" cy="328.8" r="1.4" fill="#ff7a21" fill-opacity="0.55"/><circle cx="841.3" cy="328.8" r="1.4" fill="#0073cf" fill-opacity="0.55"/><circle cx="840.5" cy="331.1" r="1.4" fill="#f3b9c0" fill-opacity="0.55"/><circle cx="840.5" cy="325.4" r="1.4" fill="#45b5b5" fill-opacity="0.55"/><circle cx="840.5" cy="311.7" r="1.4" fill="#9a2a3c" fill-opacity="0.55"/><circle cx="840.5" cy="289.0" r="1.4" fill="#e8687a" fill-opacity="0.55"/><circle cx="840.5" cy="289.0" r="1.4" fill="#d03a4c" fill-opacity="0.55"/><circle cx="840.5" cy="323.7" r="1.4" fill="#ff7a21" fill-opacity="0.55"/><circle cx="840.5" cy="323.7" r="1.4" fill="#6b9bd0" fill-opacity="0.55"/><circle cx="840.5" cy="320.8" r="1.4" fill="#ef8a95" fill-opacity="0.55"/><circle cx="840.5" cy="311.2" r="1.4" fill="#9a2a3c" fill-opacity="0.55"/><circle cx="840.5" cy="287.8" r="1.4" fill="#e8687a" fill-opacity="0.55"/><circle cx="840.5" cy="300.4" r="1.4" fill="#d03a4c" fill-opacity="0.55"/><circle cx="840.5" cy="318.0" r="1.4" fill="#0073cf" fill-opacity="0.55"/><circle cx="840.5" cy="328.8" r="1.4" fill="#6b9bd0" fill-opacity="0.55"/><circle cx="840.5" cy="331.7" r="1.4" fill="#ef8a95" fill-opacity="0.55"/><circle cx="840.5" cy="311.7" r="1.4" fill="#9a2a3c" fill-opacity="0.55"/><circle cx="840.5" cy="300.4" r="1.4" fill="#e8687a" fill-opacity="0.55"/><circle cx="840.5" cy="319.7" r="1.4" fill="#d03a4c" fill-opacity="0.55"/><circle cx="840.5" cy="314.0" r="1.4" fill="#ff7a21" fill-opacity="0.55"/><circle cx="840.5" cy="328.8" r="1.4" fill="#0073cf" fill-opacity="0.55"/><circle cx="845.0" cy="323.1" r="1.4" fill="#6b9bd0" fill-opacity="0.55"/><circle cx="845.0" cy="319.1" r="1.4" fill="#ef8a95" fill-opacity="0.55"/><circle cx="845.0" cy="328.8" r="1.4" fill="#45b5b5" fill-opacity="0.55"/><circle cx="845.0" cy="311.7" r="1.4" fill="#9a2a3c" fill-opacity="0.55"/><circle cx="845.0" cy="300.4" r="1.4" fill="#e8687a" fill-opacity="0.55"/><circle cx="844.8" cy="328.8" r="1.4" fill="#45b5b5" fill-opacity="0.55"/><circle cx="844.8" cy="321.4" r="1.4" fill="#9a2a3c" fill-opacity="0.55"/><circle cx="844.8" cy="311.7" r="1.4" fill="#ff7a21" fill-opacity="0.55"/><circle cx="845.0" cy="328.8" r="1.4" fill="#f3b9c0" fill-opacity="0.55"/><circle cx="845.0" cy="323.1" r="1.4" fill="#ef8a95" fill-opacity="0.55"/><circle cx="845.0" cy="323.1" r="1.4" fill="#45b5b5" fill-opacity="0.55"/><circle cx="845.0" cy="306.1" r="1.4" fill="#d03a4c" fill-opacity="0.55"/><circle cx="845.0" cy="317.4" r="1.4" fill="#ff7a21" fill-opacity="0.55"/><circle cx="845.0" cy="323.1" r="1.4" fill="#0073cf" fill-opacity="0.55"/><circle cx="845.0" cy="325.4" r="1.4" fill="#f3b9c0" fill-opacity="0.55"/><circle cx="845.0" cy="323.1" r="1.4" fill="#ef8a95" fill-opacity="0.55"/><circle cx="845.0" cy="328.8" r="1.4" fill="#2f6fbe" fill-opacity="0.55"/><circle cx="845.0" cy="318.0" r="1.4" fill="#9a2a3c" fill-opacity="0.55"/><circle cx="845.0" cy="294.7" r="1.4" fill="#e8687a" fill-opacity="0.55"/><circle cx="845.0" cy="300.4" r="1.4" fill="#d03a4c" fill-opacity="0.55"/><circle cx="845.0" cy="328.8" r="1.4" fill="#ff7a21" fill-opacity="0.55"/><circle cx="846.2" cy="316.9" r="1.4" fill="#ef8a95" fill-opacity="0.55"/><circle cx="846.2" cy="317.4" r="1.4" fill="#2f6fbe" fill-opacity="0.55"/><circle cx="846.2" cy="323.1" r="1.4" fill="#45b5b5" fill-opacity="0.55"/><circle cx="846.2" cy="317.4" r="1.4" fill="#9a2a3c" fill-opacity="0.55"/><circle cx="846.2" cy="296.9" r="1.4" fill="#e8687a" fill-opacity="0.55"/><circle cx="846.2" cy="306.1" r="1.4" fill="#d03a4c" fill-opacity="0.55"/><circle cx="847.6" cy="328.8" r="1.4" fill="#ef8a95" fill-opacity="0.55"/><circle cx="847.6" cy="311.7" r="1.4" fill="#2f6fbe" fill-opacity="0.55"/><circle cx="847.6" cy="328.8" r="1.4" fill="#0073cf" fill-opacity="0.55"/><circle cx="849.5" cy="317.4" r="1.4" fill="#6b9bd0" fill-opacity="0.55"/><circle cx="849.5" cy="316.3" r="1.4" fill="#ef8a95" fill-opacity="0.55"/><circle cx="849.5" cy="311.7" r="1.4" fill="#2f6fbe" fill-opacity="0.55"/><circle cx="849.5" cy="328.8" r="1.4" fill="#45b5b5" fill-opacity="0.55"/><circle cx="849.5" cy="321.4" r="1.4" fill="#9a2a3c" fill-opacity="0.55"/><circle cx="849.5" cy="289.0" r="1.4" fill="#e8687a" fill-opacity="0.55"/><circle cx="849.5" cy="299.8" r="1.4" fill="#d03a4c" fill-opacity="0.55"/><circle cx="849.5" cy="324.3" r="1.4" fill="#ff7a21" fill-opacity="0.55"/><circle cx="849.0" cy="323.1" r="1.4" fill="#f3b9c0" fill-opacity="0.55"/><circle cx="849.0" cy="300.4" r="1.4" fill="#d03a4c" fill-opacity="0.55"/><circle cx="849.0" cy="317.4" r="1.4" fill="#0073cf" fill-opacity="0.55"/><circle cx="850.4" cy="323.1" r="1.4" fill="#f3b9c0" fill-opacity="0.55"/><circle cx="850.4" cy="317.4" r="1.4" fill="#6b9bd0" fill-opacity="0.55"/><circle cx="850.4" cy="316.3" r="1.4" fill="#ef8a95" fill-opacity="0.55"/><circle cx="850.4" cy="317.4" r="1.4" fill="#2f6fbe" fill-opacity="0.55"/><circle cx="850.4" cy="325.4" r="1.4" fill="#45b5b5" fill-opacity="0.55"/><circle cx="850.4" cy="317.4" r="1.4" fill="#9a2a3c" fill-opacity="0.55"/><circle cx="850.4" cy="283.3" r="1.4" fill="#e8687a" fill-opacity="0.55"/><circle cx="850.4" cy="300.4" r="1.4" fill="#d03a4c" fill-opacity="0.55"/><circle cx="850.4" cy="327.1" r="1.4" fill="#6b9bd0" fill-opacity="0.55"/><circle cx="850.4" cy="329.9" r="1.4" fill="#2f6fbe" fill-opacity="0.55"/><circle cx="850.4" cy="323.1" r="1.4" fill="#45b5b5" fill-opacity="0.55"/><circle cx="850.4" cy="294.7" r="1.4" fill="#e8687a" fill-opacity="0.55"/><circle cx="850.4" cy="311.7" r="1.4" fill="#d03a4c" fill-opacity="0.55"/><circle cx="850.4" cy="323.1" r="1.4" fill="#0073cf" fill-opacity="0.55"/><circle cx="849.5" cy="328.8" r="1.4" fill="#6b9bd0" fill-opacity="0.55"/><circle cx="849.5" cy="319.1" r="1.4" fill="#ef8a95" fill-opacity="0.55"/><circle cx="849.5" cy="331.1" r="1.4" fill="#2f6fbe" fill-opacity="0.55"/><circle cx="849.5" cy="294.7" r="1.4" fill="#d03a4c" fill-opacity="0.55"/><circle cx="849.5" cy="328.8" r="1.4" fill="#ff7a21" fill-opacity="0.55"/><circle cx="849.5" cy="328.8" r="1.4" fill="#0073cf" fill-opacity="0.55"/><circle cx="851.1" cy="324.8" r="1.4" fill="#6b9bd0" fill-opacity="0.55"/><circle cx="851.1" cy="318.6" r="1.4" fill="#45b5b5" fill-opacity="0.55"/><circle cx="851.1" cy="326.5" r="1.4" fill="#ff7a21" fill-opacity="0.55"/><circle cx="851.1" cy="323.1" r="1.4" fill="#0073cf" fill-opacity="0.55"/><circle cx="854.0" cy="328.8" r="1.4" fill="#f3b9c0" fill-opacity="0.55"/><circle cx="854.0" cy="321.4" r="1.4" fill="#6b9bd0" fill-opacity="0.55"/><circle cx="854.0" cy="328.8" r="1.4" fill="#ef8a95" fill-opacity="0.55"/><circle cx="854.0" cy="317.4" r="1.4" fill="#9a2a3c" fill-opacity="0.55"/><circle cx="854.0" cy="304.9" r="1.4" fill="#e8687a" fill-opacity="0.55"/><circle cx="854.0" cy="328.8" r="1.4" fill="#0073cf" fill-opacity="0.55"/><circle cx="854.0" cy="323.1" r="1.4" fill="#f3b9c0" fill-opacity="0.55"/><circle cx="854.0" cy="322.0" r="1.4" fill="#ef8a95" fill-opacity="0.55"/><circle cx="854.0" cy="323.1" r="1.4" fill="#2f6fbe" fill-opacity="0.55"/><circle cx="854.0" cy="323.1" r="1.4" fill="#45b5b5" fill-opacity="0.55"/><circle cx="854.0" cy="321.4" r="1.4" fill="#d03a4c" fill-opacity="0.55"/><circle cx="854.0" cy="323.1" r="1.4" fill="#0073cf" fill-opacity="0.55"/><circle cx="852.5" cy="331.1" r="1.4" fill="#f3b9c0" fill-opacity="0.55"/><circle cx="852.5" cy="331.7" r="1.4" fill="#6b9bd0" fill-opacity="0.55"/><circle cx="852.5" cy="323.1" r="1.4" fill="#2f6fbe" fill-opacity="0.55"/><circle cx="852.5" cy="317.4" r="1.4" fill="#45b5b5" fill-opacity="0.55"/><circle cx="852.5" cy="300.4" r="1.4" fill="#e8687a" fill-opacity="0.55"/><circle cx="852.5" cy="306.1" r="1.4" fill="#d03a4c" fill-opacity="0.55"/><circle cx="852.5" cy="327.1" r="1.4" fill="#ff7a21" fill-opacity="0.55"/><circle cx="854.6" cy="324.8" r="1.4" fill="#f3b9c0" fill-opacity="0.55"/><circle cx="854.6" cy="319.1" r="1.4" fill="#6b9bd0" fill-opacity="0.55"/><circle cx="854.6" cy="327.7" r="1.4" fill="#2f6fbe" fill-opacity="0.55"/><circle cx="854.6" cy="323.1" r="1.4" fill="#45b5b5" fill-opacity="0.55"/><circle cx="854.6" cy="323.1" r="1.4" fill="#9a2a3c" fill-opacity="0.55"/><circle cx="854.6" cy="302.6" r="1.4" fill="#e8687a" fill-opacity="0.55"/><circle cx="854.6" cy="267.9" r="1.4" fill="#d03a4c" fill-opacity="0.55"/><circle cx="854.6" cy="331.7" r="1.4" fill="#0073cf" fill-opacity="0.55"/><circle cx="854.6" cy="323.1" r="1.4" fill="#f3b9c0" fill-opacity="0.55"/><circle cx="854.6" cy="328.8" r="1.4" fill="#ef8a95" fill-opacity="0.55"/><circle cx="854.6" cy="289.0" r="1.4" fill="#e8687a" fill-opacity="0.55"/><circle cx="854.6" cy="328.2" r="1.4" fill="#0073cf" fill-opacity="0.55"/><circle cx="856.0" cy="328.8" r="1.4" fill="#f3b9c0" fill-opacity="0.55"/><circle cx="856.0" cy="323.1" r="1.4" fill="#6b9bd0" fill-opacity="0.55"/><circle cx="856.0" cy="328.2" r="1.4" fill="#ef8a95" fill-opacity="0.55"/><circle cx="856.0" cy="311.7" r="1.4" fill="#2f6fbe" fill-opacity="0.55"/><circle cx="856.0" cy="323.7" r="1.4" fill="#45b5b5" fill-opacity="0.55"/><circle cx="856.0" cy="314.6" r="1.4" fill="#9a2a3c" fill-opacity="0.55"/><circle cx="858.1" cy="323.1" r="1.4" fill="#f3b9c0" fill-opacity="0.55"/><circle cx="858.1" cy="328.8" r="1.4" fill="#9a2a3c" fill-opacity="0.55"/><circle cx="858.1" cy="294.1" r="1.4" fill="#e8687a" fill-opacity="0.55"/><circle cx="858.1" cy="300.4" r="1.4" fill="#d03a4c" fill-opacity="0.55"/><circle cx="858.1" cy="323.1" r="1.4" fill="#0073cf" fill-opacity="0.55"/><circle cx="858.5" cy="323.1" r="1.4" fill="#f3b9c0" fill-opacity="0.55"/><circle cx="858.5" cy="323.1" r="1.4" fill="#6b9bd0" fill-opacity="0.55"/><circle cx="858.5" cy="328.8" r="1.4" fill="#ef8a95" fill-opacity="0.55"/><circle cx="858.5" cy="317.4" r="1.4" fill="#2f6fbe" fill-opacity="0.55"/><circle cx="858.5" cy="323.1" r="1.4" fill="#45b5b5" fill-opacity="0.55"/><circle cx="858.5" cy="300.4" r="1.4" fill="#d03a4c" fill-opacity="0.55"/><circle cx="858.5" cy="328.8" r="1.4" fill="#ff7a21" fill-opacity="0.55"/><circle cx="858.5" cy="320.8" r="1.4" fill="#0073cf" fill-opacity="0.55"/><circle cx="861.6" cy="317.4" r="1.4" fill="#f3b9c0" fill-opacity="0.55"/><circle cx="861.6" cy="326.5" r="1.4" fill="#6b9bd0" fill-opacity="0.55"/><circle cx="861.6" cy="326.0" r="1.4" fill="#2f6fbe" fill-opacity="0.55"/><circle cx="861.6" cy="300.4" r="1.4" fill="#d03a4c" fill-opacity="0.55"/><circle cx="861.6" cy="328.2" r="1.4" fill="#f3b9c0" fill-opacity="0.55"/><circle cx="861.6" cy="328.8" r="1.4" fill="#6b9bd0" fill-opacity="0.55"/><circle cx="861.6" cy="315.7" r="1.4" fill="#ef8a95" fill-opacity="0.55"/><circle cx="861.6" cy="311.7" r="1.4" fill="#2f6fbe" fill-opacity="0.55"/><circle cx="861.6" cy="331.1" r="1.4" fill="#45b5b5" fill-opacity="0.55"/><circle cx="861.6" cy="323.1" r="1.4" fill="#9a2a3c" fill-opacity="0.55"/><circle cx="861.6" cy="324.3" r="1.4" fill="#ff7a21" fill-opacity="0.55"/><circle cx="862.3" cy="323.1" r="1.4" fill="#f3b9c0" fill-opacity="0.55"/><circle cx="862.3" cy="315.2" r="1.4" fill="#ef8a95" fill-opacity="0.55"/><circle cx="862.3" cy="323.1" r="1.4" fill="#2f6fbe" fill-opacity="0.55"/><circle cx="862.3" cy="327.1" r="1.4" fill="#45b5b5" fill-opacity="0.55"/><circle cx="862.3" cy="323.1" r="1.4" fill="#9a2a3c" fill-opacity="0.55"/><circle cx="862.3" cy="324.8" r="1.4" fill="#f3b9c0" fill-opacity="0.55"/><circle cx="862.3" cy="323.1" r="1.4" fill="#6b9bd0" fill-opacity="0.55"/><circle cx="862.3" cy="328.8" r="1.4" fill="#45b5b5" fill-opacity="0.55"/><circle cx="862.3" cy="300.4" r="1.4" fill="#d03a4c" fill-opacity="0.55"/><circle cx="862.3" cy="323.1" r="1.4" fill="#ff7a21" fill-opacity="0.55"/><circle cx="863.0" cy="325.4" r="1.4" fill="#6b9bd0" fill-opacity="0.55"/><circle cx="863.0" cy="323.7" r="1.4" fill="#45b5b5" fill-opacity="0.55"/><circle cx="863.0" cy="323.1" r="1.4" fill="#9a2a3c" fill-opacity="0.55"/><circle cx="863.0" cy="323.1" r="1.4" fill="#0073cf" fill-opacity="0.55"/><circle cx="863.7" cy="328.8" r="1.4" fill="#f3b9c0" fill-opacity="0.55"/><circle cx="863.7" cy="320.8" r="1.4" fill="#6b9bd0" fill-opacity="0.55"/><circle cx="863.7" cy="317.4" r="1.4" fill="#9a2a3c" fill-opacity="0.55"/><circle cx="863.7" cy="323.1" r="1.4" fill="#0073cf" fill-opacity="0.55"/><circle cx="863.0" cy="324.8" r="1.4" fill="#6b9bd0" fill-opacity="0.55"/><circle cx="863.0" cy="311.7" r="1.4" fill="#2f6fbe" fill-opacity="0.55"/><circle cx="863.0" cy="320.3" r="1.4" fill="#9a2a3c" fill-opacity="0.55"/><circle cx="863.0" cy="275.9" r="1.4" fill="#e8687a" fill-opacity="0.55"/><circle cx="863.0" cy="323.1" r="1.4" fill="#ff7a21" fill-opacity="0.55"/><circle cx="863.0" cy="320.3" r="1.4" fill="#0073cf" fill-opacity="0.55"/><circle cx="865.1" cy="327.7" r="1.4" fill="#2f6fbe" fill-opacity="0.55"/><circle cx="865.1" cy="328.2" r="1.4" fill="#45b5b5" fill-opacity="0.55"/><circle cx="865.1" cy="323.1" r="1.4" fill="#9a2a3c" fill-opacity="0.55"/><circle cx="865.1" cy="289.0" r="1.4" fill="#d03a4c" fill-opacity="0.55"/><circle cx="865.1" cy="331.1" r="1.4" fill="#0073cf" fill-opacity="0.55"/><circle cx="865.1" cy="328.8" r="1.4" fill="#f3b9c0" fill-opacity="0.55"/><circle cx="865.1" cy="323.1" r="1.4" fill="#6b9bd0" fill-opacity="0.55"/><circle cx="865.1" cy="320.3" r="1.4" fill="#ef8a95" fill-opacity="0.55"/><circle cx="865.1" cy="326.5" r="1.4" fill="#2f6fbe" fill-opacity="0.55"/><circle cx="865.1" cy="328.8" r="1.4" fill="#9a2a3c" fill-opacity="0.55"/><circle cx="865.1" cy="300.4" r="1.4" fill="#d03a4c" fill-opacity="0.55"/><circle cx="865.8" cy="326.5" r="1.4" fill="#2f6fbe" fill-opacity="0.55"/><circle cx="865.8" cy="323.1" r="1.4" fill="#45b5b5" fill-opacity="0.55"/><circle cx="865.8" cy="286.7" r="1.4" fill="#e8687a" fill-opacity="0.55"/><circle cx="865.8" cy="301.5" r="1.4" fill="#d03a4c" fill-opacity="0.55"/><circle cx="865.8" cy="323.1" r="1.4" fill="#ff7a21" fill-opacity="0.55"/><circle cx="865.8" cy="328.8" r="1.4" fill="#f3b9c0" fill-opacity="0.55"/><circle cx="865.8" cy="323.1" r="1.4" fill="#ef8a95" fill-opacity="0.55"/><circle cx="865.8" cy="323.1" r="1.4" fill="#2f6fbe" fill-opacity="0.55"/><circle cx="865.8" cy="328.8" r="1.4" fill="#9a2a3c" fill-opacity="0.55"/><circle cx="865.8" cy="294.7" r="1.4" fill="#d03a4c" fill-opacity="0.55"/><circle cx="865.8" cy="314.6" r="1.4" fill="#ff7a21" fill-opacity="0.55"/><circle cx="865.8" cy="327.1" r="1.4" fill="#0073cf" fill-opacity="0.55"/><circle cx="867.5" cy="329.9" r="1.4" fill="#f3b9c0" fill-opacity="0.55"/><circle cx="867.5" cy="317.4" r="1.4" fill="#9a2a3c" fill-opacity="0.55"/><circle cx="866.5" cy="328.8" r="1.4" fill="#f3b9c0" fill-opacity="0.55"/><circle cx="866.5" cy="328.8" r="1.4" fill="#45b5b5" fill-opacity="0.55"/><circle cx="866.5" cy="328.8" r="1.4" fill="#9a2a3c" fill-opacity="0.55"/><circle cx="866.5" cy="306.1" r="1.4" fill="#e8687a" fill-opacity="0.55"/><circle cx="866.5" cy="300.4" r="1.4" fill="#d03a4c" fill-opacity="0.55"/><circle cx="866.5" cy="317.4" r="1.4" fill="#ff7a21" fill-opacity="0.55"/><circle cx="867.2" cy="318.6" r="1.4" fill="#6b9bd0" fill-opacity="0.55"/><circle cx="867.2" cy="328.8" r="1.4" fill="#2f6fbe" fill-opacity="0.55"/><circle cx="867.2" cy="328.8" r="1.4" fill="#45b5b5" fill-opacity="0.55"/><circle cx="867.2" cy="325.4" r="1.4" fill="#9a2a3c" fill-opacity="0.55"/><circle cx="867.2" cy="308.3" r="1.4" fill="#d03a4c" fill-opacity="0.55"/><circle cx="867.2" cy="323.1" r="1.4" fill="#0073cf" fill-opacity="0.55"/><circle cx="868.6" cy="317.4" r="1.4" fill="#2f6fbe" fill-opacity="0.55"/><circle cx="868.6" cy="323.1" r="1.4" fill="#45b5b5" fill-opacity="0.55"/><circle cx="872.0" cy="319.1" r="1.4" fill="#ef8a95" fill-opacity="0.55"/><circle cx="872.0" cy="320.8" r="1.4" fill="#2f6fbe" fill-opacity="0.55"/><circle cx="872.0" cy="328.8" r="1.4" fill="#45b5b5" fill-opacity="0.55"/><circle cx="872.0" cy="311.7" r="1.4" fill="#9a2a3c" fill-opacity="0.55"/><circle cx="872.0" cy="294.7" r="1.4" fill="#e8687a" fill-opacity="0.55"/><circle cx="872.0" cy="302.6" r="1.4" fill="#d03a4c" fill-opacity="0.55"/><circle cx="872.0" cy="328.8" r="1.4" fill="#ff7a21" fill-opacity="0.55"/><circle cx="872.0" cy="315.7" r="1.4" fill="#f3b9c0" fill-opacity="0.55"/><circle cx="872.0" cy="323.1" r="1.4" fill="#ef8a95" fill-opacity="0.55"/><circle cx="872.0" cy="327.1" r="1.4" fill="#2f6fbe" fill-opacity="0.55"/><circle cx="872.0" cy="328.8" r="1.4" fill="#0073cf" fill-opacity="0.55"/><circle cx="872.0" cy="328.8" r="1.4" fill="#ef8a95" fill-opacity="0.55"/><circle cx="872.0" cy="327.7" r="1.4" fill="#2f6fbe" fill-opacity="0.55"/><circle cx="872.0" cy="328.8" r="1.4" fill="#45b5b5" fill-opacity="0.55"/><circle cx="872.0" cy="323.1" r="1.4" fill="#9a2a3c" fill-opacity="0.55"/><circle cx="872.0" cy="294.7" r="1.4" fill="#d03a4c" fill-opacity="0.55"/><circle cx="872.0" cy="323.1" r="1.4" fill="#ff7a21" fill-opacity="0.55"/><circle cx="872.0" cy="328.2" r="1.4" fill="#0073cf" fill-opacity="0.55"/><circle cx="872.0" cy="328.8" r="1.4" fill="#6b9bd0" fill-opacity="0.55"/><circle cx="872.0" cy="323.1" r="1.4" fill="#45b5b5" fill-opacity="0.55"/><circle cx="872.0" cy="319.1" r="1.4" fill="#9a2a3c" fill-opacity="0.55"/><circle cx="872.0" cy="300.4" r="1.4" fill="#e8687a" fill-opacity="0.55"/><circle cx="872.0" cy="289.0" r="1.4" fill="#d03a4c" fill-opacity="0.55"/><circle cx="872.0" cy="326.0" r="1.4" fill="#ff7a21" fill-opacity="0.55"/><circle cx="872.0" cy="317.4" r="1.4" fill="#0073cf" fill-opacity="0.55"/><circle cx="872.0" cy="319.7" r="1.4" fill="#f3b9c0" fill-opacity="0.55"/><circle cx="872.0" cy="320.8" r="1.4" fill="#6b9bd0" fill-opacity="0.55"/><circle cx="872.0" cy="328.8" r="1.4" fill="#ef8a95" fill-opacity="0.55"/><circle cx="872.0" cy="323.1" r="1.4" fill="#9a2a3c" fill-opacity="0.55"/><circle cx="872.0" cy="300.9" r="1.4" fill="#d03a4c" fill-opacity="0.55"/><circle cx="872.0" cy="323.1" r="1.4" fill="#ff7a21" fill-opacity="0.55"/><circle cx="872.0" cy="327.7" r="1.4" fill="#0073cf" fill-opacity="0.55"/><circle cx="872.0" cy="323.1" r="1.4" fill="#6b9bd0" fill-opacity="0.55"/><circle cx="872.0" cy="328.8" r="1.4" fill="#2f6fbe" fill-opacity="0.55"/><circle cx="872.0" cy="323.1" r="1.4" fill="#45b5b5" fill-opacity="0.55"/><circle cx="872.0" cy="306.1" r="1.4" fill="#9a2a3c" fill-opacity="0.55"/><circle cx="872.0" cy="300.4" r="1.4" fill="#e8687a" fill-opacity="0.55"/><circle cx="872.0" cy="303.8" r="1.4" fill="#d03a4c" fill-opacity="0.55"/><circle cx="872.0" cy="326.0" r="1.4" fill="#ff7a21" fill-opacity="0.55"/><circle cx="873.5" cy="323.1" r="1.4" fill="#f3b9c0" fill-opacity="0.55"/><circle cx="873.5" cy="318.0" r="1.4" fill="#2f6fbe" fill-opacity="0.55"/><circle cx="873.5" cy="328.8" r="1.4" fill="#45b5b5" fill-opacity="0.55"/><circle cx="873.5" cy="328.8" r="1.4" fill="#9a2a3c" fill-opacity="0.55"/><circle cx="873.5" cy="297.5" r="1.4" fill="#e8687a" fill-opacity="0.55"/><circle cx="873.5" cy="306.6" r="1.4" fill="#d03a4c" fill-opacity="0.55"/><circle cx="873.5" cy="311.7" r="1.4" fill="#ff7a21" fill-opacity="0.55"/><circle cx="873.5" cy="329.4" r="1.4" fill="#0073cf" fill-opacity="0.55"/><circle cx="874.9" cy="317.4" r="1.4" fill="#ef8a95" fill-opacity="0.55"/><circle cx="874.9" cy="328.8" r="1.4" fill="#2f6fbe" fill-opacity="0.55"/><circle cx="874.9" cy="322.0" r="1.4" fill="#45b5b5" fill-opacity="0.55"/><circle cx="874.9" cy="294.1" r="1.4" fill="#e8687a" fill-opacity="0.55"/><circle cx="874.9" cy="322.6" r="1.4" fill="#0073cf" fill-opacity="0.55"/><circle cx="876.3" cy="328.8" r="1.4" fill="#f3b9c0" fill-opacity="0.55"/><circle cx="876.3" cy="328.8" r="1.4" fill="#6b9bd0" fill-opacity="0.55"/><circle cx="876.3" cy="323.7" r="1.4" fill="#ef8a95" fill-opacity="0.55"/><circle cx="876.3" cy="323.1" r="1.4" fill="#2f6fbe" fill-opacity="0.55"/><circle cx="876.3" cy="320.3" r="1.4" fill="#45b5b5" fill-opacity="0.55"/><circle cx="876.3" cy="324.3" r="1.4" fill="#9a2a3c" fill-opacity="0.55"/><circle cx="876.3" cy="317.4" r="1.4" fill="#ff7a21" fill-opacity="0.55"/><circle cx="876.5" cy="328.8" r="1.4" fill="#f3b9c0" fill-opacity="0.55"/><circle cx="876.5" cy="319.7" r="1.4" fill="#2f6fbe" fill-opacity="0.55"/><circle cx="876.5" cy="328.8" r="1.4" fill="#45b5b5" fill-opacity="0.55"/><circle cx="876.5" cy="318.0" r="1.4" fill="#9a2a3c" fill-opacity="0.55"/><circle cx="876.5" cy="296.4" r="1.4" fill="#d03a4c" fill-opacity="0.55"/><circle cx="876.3" cy="317.4" r="1.4" fill="#6b9bd0" fill-opacity="0.55"/><circle cx="876.3" cy="311.7" r="1.4" fill="#ef8a95" fill-opacity="0.55"/><circle cx="876.3" cy="289.0" r="1.4" fill="#e8687a" fill-opacity="0.55"/><circle cx="876.3" cy="294.7" r="1.4" fill="#d03a4c" fill-opacity="0.55"/><circle cx="876.3" cy="328.8" r="1.4" fill="#ff7a21" fill-opacity="0.55"/><circle cx="876.3" cy="331.1" r="1.4" fill="#0073cf" fill-opacity="0.55"/><circle cx="878.4" cy="320.8" r="1.4" fill="#2f6fbe" fill-opacity="0.55"/><circle cx="878.4" cy="315.7" r="1.4" fill="#9a2a3c" fill-opacity="0.55"/><circle cx="878.4" cy="289.0" r="1.4" fill="#d03a4c" fill-opacity="0.55"/><circle cx="878.4" cy="308.9" r="1.4" fill="#ff7a21" fill-opacity="0.55"/><circle cx="876.5" cy="323.1" r="1.4" fill="#f3b9c0" fill-opacity="0.55"/><circle cx="876.5" cy="328.8" r="1.4" fill="#6b9bd0" fill-opacity="0.55"/><circle cx="876.5" cy="317.4" r="1.4" fill="#2f6fbe" fill-opacity="0.55"/><circle cx="876.5" cy="290.7" r="1.4" fill="#e8687a" fill-opacity="0.55"/><circle cx="876.5" cy="281.6" r="1.4" fill="#d03a4c" fill-opacity="0.55"/><circle cx="876.5" cy="317.4" r="1.4" fill="#ff7a21" fill-opacity="0.55"/><circle cx="879.1" cy="328.8" r="1.4" fill="#6b9bd0" fill-opacity="0.55"/><circle cx="879.1" cy="328.8" r="1.4" fill="#ef8a95" fill-opacity="0.55"/><circle cx="879.1" cy="321.4" r="1.4" fill="#45b5b5" fill-opacity="0.55"/><circle cx="879.1" cy="316.9" r="1.4" fill="#9a2a3c" fill-opacity="0.55"/><circle cx="879.1" cy="300.4" r="1.4" fill="#e8687a" fill-opacity="0.55"/><circle cx="879.1" cy="328.2" r="1.4" fill="#0073cf" fill-opacity="0.55"/><circle cx="879.1" cy="285.6" r="1.4" fill="#e8687a" fill-opacity="0.55"/><circle cx="879.1" cy="300.4" r="1.4" fill="#d03a4c" fill-opacity="0.55"/><circle cx="879.1" cy="317.4" r="1.4" fill="#ff7a21" fill-opacity="0.55"/><circle cx="879.1" cy="328.8" r="1.4" fill="#0073cf" fill-opacity="0.55"/><circle cx="881.0" cy="324.3" r="1.4" fill="#f3b9c0" fill-opacity="0.55"/><circle cx="881.0" cy="328.8" r="1.4" fill="#6b9bd0" fill-opacity="0.55"/><circle cx="881.0" cy="324.8" r="1.4" fill="#ef8a95" fill-opacity="0.55"/><circle cx="881.0" cy="327.1" r="1.4" fill="#2f6fbe" fill-opacity="0.55"/><circle cx="881.0" cy="323.1" r="1.4" fill="#45b5b5" fill-opacity="0.55"/><circle cx="881.0" cy="283.3" r="1.4" fill="#e8687a" fill-opacity="0.55"/><circle cx="881.0" cy="289.0" r="1.4" fill="#d03a4c" fill-opacity="0.55"/><circle cx="879.8" cy="320.8" r="1.4" fill="#f3b9c0" fill-opacity="0.55"/><circle cx="879.8" cy="327.7" r="1.4" fill="#ef8a95" fill-opacity="0.55"/><circle cx="879.8" cy="320.8" r="1.4" fill="#2f6fbe" fill-opacity="0.55"/><circle cx="879.8" cy="328.8" r="1.4" fill="#45b5b5" fill-opacity="0.55"/><circle cx="879.8" cy="317.4" r="1.4" fill="#ff7a21" fill-opacity="0.55"/><circle cx="879.8" cy="326.5" r="1.4" fill="#0073cf" fill-opacity="0.55"/><circle cx="881.0" cy="320.8" r="1.4" fill="#f3b9c0" fill-opacity="0.55"/><circle cx="881.0" cy="328.8" r="1.4" fill="#6b9bd0" fill-opacity="0.55"/><circle cx="881.0" cy="326.5" r="1.4" fill="#ef8a95" fill-opacity="0.55"/><circle cx="881.0" cy="328.8" r="1.4" fill="#2f6fbe" fill-opacity="0.55"/><circle cx="881.0" cy="325.4" r="1.4" fill="#45b5b5" fill-opacity="0.55"/><circle cx="881.0" cy="327.1" r="1.4" fill="#9a2a3c" fill-opacity="0.55"/><circle cx="881.0" cy="306.1" r="1.4" fill="#e8687a" fill-opacity="0.55"/><circle cx="881.0" cy="317.4" r="1.4" fill="#ff7a21" fill-opacity="0.55"/><circle cx="881.0" cy="329.4" r="1.4" fill="#ef8a95" fill-opacity="0.55"/><circle cx="881.0" cy="310.6" r="1.4" fill="#2f6fbe" fill-opacity="0.55"/><circle cx="881.0" cy="331.7" r="1.4" fill="#45b5b5" fill-opacity="0.55"/><circle cx="881.0" cy="317.4" r="1.4" fill="#9a2a3c" fill-opacity="0.55"/><circle cx="881.0" cy="305.5" r="1.4" fill="#d03a4c" fill-opacity="0.55"/><circle cx="881.0" cy="327.7" r="1.4" fill="#0073cf" fill-opacity="0.55"/><circle cx="882.6" cy="328.8" r="1.4" fill="#f3b9c0" fill-opacity="0.55"/><circle cx="882.6" cy="326.0" r="1.4" fill="#6b9bd0" fill-opacity="0.55"/><circle cx="882.6" cy="323.1" r="1.4" fill="#ef8a95" fill-opacity="0.55"/><circle cx="882.6" cy="325.4" r="1.4" fill="#2f6fbe" fill-opacity="0.55"/><circle cx="882.6" cy="275.3" r="1.4" fill="#e8687a" fill-opacity="0.55"/><circle cx="882.6" cy="281.0" r="1.4" fill="#d03a4c" fill-opacity="0.55"/><circle cx="882.6" cy="323.1" r="1.4" fill="#ff7a21" fill-opacity="0.55"/><circle cx="884.0" cy="328.8" r="1.4" fill="#f3b9c0" fill-opacity="0.55"/><circle cx="884.0" cy="320.8" r="1.4" fill="#ef8a95" fill-opacity="0.55"/><circle cx="884.0" cy="327.1" r="1.4" fill="#45b5b5" fill-opacity="0.55"/><circle cx="884.0" cy="318.6" r="1.4" fill="#9a2a3c" fill-opacity="0.55"/><circle cx="884.0" cy="289.0" r="1.4" fill="#e8687a" fill-opacity="0.55"/><circle cx="884.0" cy="280.4" r="1.4" fill="#d03a4c" fill-opacity="0.55"/><circle cx="884.0" cy="328.8" r="1.4" fill="#0073cf" fill-opacity="0.55"/><circle cx="885.5" cy="328.8" r="1.4" fill="#f3b9c0" fill-opacity="0.55"/><circle cx="885.5" cy="328.8" r="1.4" fill="#6b9bd0" fill-opacity="0.55"/><circle cx="885.5" cy="328.8" r="1.4" fill="#ef8a95" fill-opacity="0.55"/><circle cx="885.5" cy="323.7" r="1.4" fill="#2f6fbe" fill-opacity="0.55"/><circle cx="885.5" cy="328.8" r="1.4" fill="#45b5b5" fill-opacity="0.55"/><circle cx="885.5" cy="311.2" r="1.4" fill="#9a2a3c" fill-opacity="0.55"/><circle cx="885.5" cy="294.7" r="1.4" fill="#e8687a" fill-opacity="0.55"/><circle cx="885.5" cy="294.7" r="1.4" fill="#d03a4c" fill-opacity="0.55"/><circle cx="885.5" cy="323.1" r="1.4" fill="#ff7a21" fill-opacity="0.55"/><circle cx="885.5" cy="331.1" r="1.4" fill="#f3b9c0" fill-opacity="0.55"/><circle cx="885.5" cy="289.0" r="1.4" fill="#e8687a" fill-opacity="0.55"/><circle cx="885.5" cy="301.5" r="1.4" fill="#d03a4c" fill-opacity="0.55"/><circle cx="885.5" cy="323.1" r="1.4" fill="#ff7a21" fill-opacity="0.55"/><circle cx="885.5" cy="329.4" r="1.4" fill="#0073cf" fill-opacity="0.55"/><circle cx="886.8" cy="323.1" r="1.4" fill="#f3b9c0" fill-opacity="0.55"/><circle cx="886.8" cy="328.8" r="1.4" fill="#ef8a95" fill-opacity="0.55"/><circle cx="886.8" cy="322.6" r="1.4" fill="#2f6fbe" fill-opacity="0.55"/><circle cx="886.8" cy="329.9" r="1.4" fill="#45b5b5" fill-opacity="0.55"/><circle cx="886.8" cy="296.9" r="1.4" fill="#e8687a" fill-opacity="0.55"/><circle cx="886.8" cy="314.6" r="1.4" fill="#ff7a21" fill-opacity="0.55"/><circle cx="885.5" cy="323.1" r="1.4" fill="#6b9bd0" fill-opacity="0.55"/><circle cx="885.5" cy="328.8" r="1.4" fill="#2f6fbe" fill-opacity="0.55"/><circle cx="885.5" cy="323.1" r="1.4" fill="#45b5b5" fill-opacity="0.55"/><circle cx="885.5" cy="294.7" r="1.4" fill="#d03a4c" fill-opacity="0.55"/><circle cx="885.5" cy="314.6" r="1.4" fill="#ff7a21" fill-opacity="0.55"/><circle cx="890.0" cy="317.4" r="1.4" fill="#6b9bd0" fill-opacity="0.55"/><circle cx="890.0" cy="323.1" r="1.4" fill="#2f6fbe" fill-opacity="0.55"/><circle cx="890.0" cy="323.1" r="1.4" fill="#45b5b5" fill-opacity="0.55"/><circle cx="890.0" cy="296.4" r="1.4" fill="#e8687a" fill-opacity="0.55"/><circle cx="890.0" cy="324.8" r="1.4" fill="#f3b9c0" fill-opacity="0.55"/><circle cx="890.0" cy="323.7" r="1.4" fill="#6b9bd0" fill-opacity="0.55"/><circle cx="890.0" cy="328.8" r="1.4" fill="#ef8a95" fill-opacity="0.55"/><circle cx="890.0" cy="322.0" r="1.4" fill="#2f6fbe" fill-opacity="0.55"/><circle cx="890.3" cy="323.1" r="1.4" fill="#6b9bd0" fill-opacity="0.55"/><circle cx="890.3" cy="328.8" r="1.4" fill="#ef8a95" fill-opacity="0.55"/><circle cx="890.3" cy="323.1" r="1.4" fill="#ff7a21" fill-opacity="0.55"/><circle cx="890.0" cy="328.8" r="1.4" fill="#f3b9c0" fill-opacity="0.55"/><circle cx="890.0" cy="327.7" r="1.4" fill="#ef8a95" fill-opacity="0.55"/><circle cx="890.0" cy="328.8" r="1.4" fill="#2f6fbe" fill-opacity="0.55"/><circle cx="890.0" cy="328.8" r="1.4" fill="#45b5b5" fill-opacity="0.55"/><circle cx="890.0" cy="294.7" r="1.4" fill="#e8687a" fill-opacity="0.55"/><circle cx="890.0" cy="317.4" r="1.4" fill="#ff7a21" fill-opacity="0.55"/><circle cx="891.7" cy="323.1" r="1.4" fill="#f3b9c0" fill-opacity="0.55"/><circle cx="891.7" cy="323.1" r="1.4" fill="#ef8a95" fill-opacity="0.55"/><circle cx="891.7" cy="319.1" r="1.4" fill="#2f6fbe" fill-opacity="0.55"/><circle cx="891.7" cy="293.5" r="1.4" fill="#e8687a" fill-opacity="0.55"/><circle cx="891.7" cy="306.1" r="1.4" fill="#ff7a21" fill-opacity="0.55"/><circle cx="894.5" cy="328.8" r="1.4" fill="#6b9bd0" fill-opacity="0.55"/><circle cx="894.5" cy="323.1" r="1.4" fill="#2f6fbe" fill-opacity="0.55"/><circle cx="894.5" cy="322.6" r="1.4" fill="#f3b9c0" fill-opacity="0.55"/><circle cx="894.5" cy="323.1" r="1.4" fill="#6b9bd0" fill-opacity="0.55"/><circle cx="894.5" cy="323.7" r="1.4" fill="#ef8a95" fill-opacity="0.55"/><circle cx="894.5" cy="323.1" r="1.4" fill="#45b5b5" fill-opacity="0.55"/><circle cx="894.5" cy="328.8" r="1.4" fill="#f3b9c0" fill-opacity="0.55"/><circle cx="894.5" cy="328.8" r="1.4" fill="#6b9bd0" fill-opacity="0.55"/><circle cx="894.5" cy="323.1" r="1.4" fill="#ef8a95" fill-opacity="0.55"/><circle cx="894.5" cy="323.1" r="1.4" fill="#2f6fbe" fill-opacity="0.55"/><circle cx="894.5" cy="294.7" r="1.4" fill="#ff7a21" fill-opacity="0.55"/><circle cx="894.5" cy="326.0" r="1.4" fill="#f3b9c0" fill-opacity="0.55"/><circle cx="894.5" cy="329.4" r="1.4" fill="#6b9bd0" fill-opacity="0.55"/><circle cx="894.5" cy="331.7" r="1.4" fill="#45b5b5" fill-opacity="0.55"/><circle cx="894.5" cy="311.7" r="1.4" fill="#ff7a21" fill-opacity="0.55"/><circle cx="800.0" cy="287.3" r="1.4" fill="#e4506a" fill-opacity="0.55"/><circle cx="800.0" cy="300.4" r="1.4" fill="#d03a4c" fill-opacity="0.55"/><circle cx="800.0" cy="271.9" r="1.4" fill="#e4506a" fill-opacity="0.55"/><circle cx="800.0" cy="308.3" r="1.4" fill="#d03a4c" fill-opacity="0.55"/><circle cx="800.0" cy="300.4" r="1.4" fill="#e8687a" fill-opacity="0.55"/><circle cx="800.0" cy="274.2" r="1.4" fill="#d03a4c" fill-opacity="0.55"/><circle cx="800.7" cy="290.7" r="1.4" fill="#e4506a" fill-opacity="0.55"/><circle cx="800.7" cy="285.6" r="1.4" fill="#d03a4c" fill-opacity="0.55"/><circle cx="800.0" cy="249.1" r="1.4" fill="#e4506a" fill-opacity="0.55"/><circle cx="800.0" cy="300.4" r="1.4" fill="#e8687a" fill-opacity="0.55"/><circle cx="802.1" cy="273.0" r="1.4" fill="#e4506a" fill-opacity="0.55"/><circle cx="802.1" cy="300.4" r="1.4" fill="#d03a4c" fill-opacity="0.55"/><circle cx="802.1" cy="303.8" r="1.4" fill="#e8687a" fill-opacity="0.55"/><circle cx="802.1" cy="277.6" r="1.4" fill="#e4506a" fill-opacity="0.55"/><circle cx="802.1" cy="271.9" r="1.4" fill="#d03a4c" fill-opacity="0.55"/><circle cx="802.1" cy="300.4" r="1.4" fill="#e8687a" fill-opacity="0.55"/><circle cx="803.5" cy="306.1" r="1.4" fill="#e4506a" fill-opacity="0.55"/><circle cx="803.5" cy="271.3" r="1.4" fill="#d03a4c" fill-opacity="0.55"/><circle cx="803.5" cy="298.7" r="1.4" fill="#e4506a" fill-opacity="0.55"/><circle cx="803.5" cy="297.5" r="1.4" fill="#d03a4c" fill-opacity="0.55"/><circle cx="804.5" cy="312.9" r="1.4" fill="#d03a4c" fill-opacity="0.55"/><circle cx="804.5" cy="303.2" r="1.4" fill="#e8687a" fill-opacity="0.55"/><circle cx="804.5" cy="289.0" r="1.4" fill="#e8687a" fill-opacity="0.55"/><circle cx="804.9" cy="300.4" r="1.4" fill="#e4506a" fill-opacity="0.55"/><circle cx="804.9" cy="300.4" r="1.4" fill="#d03a4c" fill-opacity="0.55"/><circle cx="804.9" cy="294.7" r="1.4" fill="#e8687a" fill-opacity="0.55"/><circle cx="804.5" cy="277.6" r="1.4" fill="#d03a4c" fill-opacity="0.55"/><circle cx="804.5" cy="289.0" r="1.4" fill="#e8687a" fill-opacity="0.55"/><circle cx="806.3" cy="290.1" r="1.4" fill="#e4506a" fill-opacity="0.55"/><circle cx="806.3" cy="271.9" r="1.4" fill="#d03a4c" fill-opacity="0.55"/><circle cx="806.3" cy="300.4" r="1.4" fill="#e8687a" fill-opacity="0.55"/><circle cx="807.0" cy="294.7" r="1.4" fill="#e4506a" fill-opacity="0.55"/><circle cx="807.0" cy="311.7" r="1.4" fill="#d03a4c" fill-opacity="0.55"/><circle cx="809.0" cy="271.9" r="1.4" fill="#e4506a" fill-opacity="0.55"/><circle cx="809.0" cy="300.4" r="1.4" fill="#e8687a" fill-opacity="0.55"/><circle cx="809.0" cy="317.4" r="1.4" fill="#d03a4c" fill-opacity="0.55"/><circle cx="809.0" cy="306.1" r="1.4" fill="#e8687a" fill-opacity="0.55"/><circle cx="808.4" cy="286.1" r="1.4" fill="#e4506a" fill-opacity="0.55"/><circle cx="808.4" cy="282.7" r="1.4" fill="#d03a4c" fill-opacity="0.55"/><circle cx="808.4" cy="282.7" r="1.4" fill="#e8687a" fill-opacity="0.55"/><circle cx="809.8" cy="302.6" r="1.4" fill="#e4506a" fill-opacity="0.55"/><circle cx="809.8" cy="290.7" r="1.4" fill="#d03a4c" fill-opacity="0.55"/><circle cx="809.0" cy="287.3" r="1.4" fill="#e4506a" fill-opacity="0.55"/><circle cx="809.0" cy="309.5" r="1.4" fill="#e8687a" fill-opacity="0.55"/><circle cx="813.5" cy="289.0" r="1.4" fill="#e4506a" fill-opacity="0.55"/><circle cx="813.5" cy="295.8" r="1.4" fill="#d03a4c" fill-opacity="0.55"/><circle cx="813.5" cy="300.4" r="1.4" fill="#e4506a" fill-opacity="0.55"/><circle cx="813.5" cy="311.2" r="1.4" fill="#d03a4c" fill-opacity="0.55"/><circle cx="813.5" cy="277.0" r="1.4" fill="#e8687a" fill-opacity="0.55"/><circle cx="813.3" cy="283.3" r="1.4" fill="#e4506a" fill-opacity="0.55"/><circle cx="813.3" cy="271.9" r="1.4" fill="#d03a4c" fill-opacity="0.55"/><circle cx="813.3" cy="308.3" r="1.4" fill="#e8687a" fill-opacity="0.55"/><circle cx="813.3" cy="293.0" r="1.4" fill="#e4506a" fill-opacity="0.55"/><circle cx="813.3" cy="306.1" r="1.4" fill="#d03a4c" fill-opacity="0.55"/><circle cx="813.3" cy="300.4" r="1.4" fill="#e8687a" fill-opacity="0.55"/><circle cx="813.5" cy="303.8" r="1.4" fill="#e4506a" fill-opacity="0.55"/><circle cx="813.5" cy="300.4" r="1.4" fill="#e8687a" fill-opacity="0.55"/><circle cx="814.7" cy="294.7" r="1.4" fill="#e4506a" fill-opacity="0.55"/><circle cx="814.7" cy="296.4" r="1.4" fill="#e8687a" fill-opacity="0.55"/><circle cx="815.4" cy="300.4" r="1.4" fill="#d03a4c" fill-opacity="0.55"/><circle cx="815.4" cy="298.7" r="1.4" fill="#e8687a" fill-opacity="0.55"/><circle cx="815.4" cy="306.1" r="1.4" fill="#e4506a" fill-opacity="0.55"/><circle cx="815.4" cy="300.4" r="1.4" fill="#d03a4c" fill-opacity="0.55"/><circle cx="815.4" cy="294.7" r="1.4" fill="#e8687a" fill-opacity="0.55"/><circle cx="818.0" cy="309.5" r="1.4" fill="#e4506a" fill-opacity="0.55"/><circle cx="818.0" cy="277.6" r="1.4" fill="#e8687a" fill-opacity="0.55"/><circle cx="818.2" cy="290.1" r="1.4" fill="#e4506a" fill-opacity="0.55"/><circle cx="818.0" cy="306.1" r="1.4" fill="#e4506a" fill-opacity="0.55"/><circle cx="818.0" cy="303.8" r="1.4" fill="#d03a4c" fill-opacity="0.55"/><circle cx="818.0" cy="320.3" r="1.4" fill="#e8687a" fill-opacity="0.55"/><circle cx="818.0" cy="305.5" r="1.4" fill="#d03a4c" fill-opacity="0.55"/><circle cx="818.0" cy="310.0" r="1.4" fill="#e8687a" fill-opacity="0.55"/><circle cx="819.6" cy="294.7" r="1.4" fill="#d03a4c" fill-opacity="0.55"/><circle cx="819.6" cy="312.9" r="1.4" fill="#e8687a" fill-opacity="0.55"/><circle cx="821.0" cy="300.4" r="1.4" fill="#e4506a" fill-opacity="0.55"/><circle cx="821.0" cy="296.4" r="1.4" fill="#e8687a" fill-opacity="0.55"/><circle cx="821.0" cy="300.4" r="1.4" fill="#d03a4c" fill-opacity="0.55"/><circle cx="821.0" cy="300.9" r="1.4" fill="#e8687a" fill-opacity="0.55"/><circle cx="822.4" cy="308.9" r="1.4" fill="#e4506a" fill-opacity="0.55"/><circle cx="822.4" cy="289.0" r="1.4" fill="#e8687a" fill-opacity="0.55"/><circle cx="822.5" cy="300.4" r="1.4" fill="#e4506a" fill-opacity="0.55"/><circle cx="822.5" cy="313.4" r="1.4" fill="#e8687a" fill-opacity="0.55"/><circle cx="823.8" cy="306.1" r="1.4" fill="#e4506a" fill-opacity="0.55"/><circle cx="823.8" cy="295.2" r="1.4" fill="#d03a4c" fill-opacity="0.55"/><circle cx="823.8" cy="300.4" r="1.4" fill="#e8687a" fill-opacity="0.55"/><circle cx="825.9" cy="306.1" r="1.4" fill="#d03a4c" fill-opacity="0.55"/><circle cx="825.9" cy="291.3" r="1.4" fill="#e8687a" fill-opacity="0.55"/><circle cx="827.0" cy="283.3" r="1.4" fill="#e4506a" fill-opacity="0.55"/><circle cx="827.0" cy="289.0" r="1.4" fill="#d03a4c" fill-opacity="0.55"/><circle cx="827.0" cy="277.6" r="1.4" fill="#e4506a" fill-opacity="0.55"/><circle cx="827.0" cy="307.8" r="1.4" fill="#d03a4c" fill-opacity="0.55"/><circle cx="827.0" cy="295.2" r="1.4" fill="#e4506a" fill-opacity="0.55"/><circle cx="831.5" cy="315.2" r="1.4" fill="#e4506a" fill-opacity="0.55"/><circle cx="831.5" cy="302.6" r="1.4" fill="#e8687a" fill-opacity="0.55"/><circle cx="829.4" cy="311.7" r="1.4" fill="#e4506a" fill-opacity="0.55"/><circle cx="829.4" cy="306.6" r="1.4" fill="#d03a4c" fill-opacity="0.55"/><circle cx="831.5" cy="299.2" r="1.4" fill="#e4506a" fill-opacity="0.55"/><circle cx="831.5" cy="289.5" r="1.4" fill="#d03a4c" fill-opacity="0.55"/><circle cx="831.5" cy="283.3" r="1.4" fill="#e8687a" fill-opacity="0.55"/><circle cx="831.5" cy="296.4" r="1.4" fill="#e4506a" fill-opacity="0.55"/><circle cx="831.5" cy="311.7" r="1.4" fill="#d03a4c" fill-opacity="0.55"/><circle cx="831.5" cy="289.0" r="1.4" fill="#e8687a" fill-opacity="0.55"/><circle cx="831.5" cy="300.4" r="1.4" fill="#e4506a" fill-opacity="0.55"/><circle cx="831.5" cy="295.2" r="1.4" fill="#d03a4c" fill-opacity="0.55"/><circle cx="832.2" cy="294.7" r="1.4" fill="#e4506a" fill-opacity="0.55"/><circle cx="832.2" cy="305.5" r="1.4" fill="#d03a4c" fill-opacity="0.55"/><circle cx="832.2" cy="289.5" r="1.4" fill="#e8687a" fill-opacity="0.55"/><circle cx="831.5" cy="300.4" r="1.4" fill="#e4506a" fill-opacity="0.55"/><circle cx="831.5" cy="306.1" r="1.4" fill="#d03a4c" fill-opacity="0.55"/><circle cx="831.5" cy="294.7" r="1.4" fill="#e8687a" fill-opacity="0.55"/><circle cx="836.0" cy="294.7" r="1.4" fill="#d03a4c" fill-opacity="0.55"/><circle cx="836.0" cy="271.9" r="1.4" fill="#e8687a" fill-opacity="0.55"/><circle cx="835.7" cy="309.5" r="1.4" fill="#e4506a" fill-opacity="0.55"/><circle cx="835.7" cy="300.4" r="1.4" fill="#d03a4c" fill-opacity="0.55"/><circle cx="835.7" cy="289.0" r="1.4" fill="#e8687a" fill-opacity="0.55"/><circle cx="837.1" cy="289.0" r="1.4" fill="#e4506a" fill-opacity="0.55"/><circle cx="836.0" cy="300.4" r="1.4" fill="#e4506a" fill-opacity="0.55"/><circle cx="836.0" cy="303.2" r="1.4" fill="#d03a4c" fill-opacity="0.55"/><circle cx="836.0" cy="317.4" r="1.4" fill="#e8687a" fill-opacity="0.55"/><circle cx="838.5" cy="308.9" r="1.4" fill="#e4506a" fill-opacity="0.55"/><circle cx="839.9" cy="294.7" r="1.4" fill="#e4506a" fill-opacity="0.55"/><circle cx="839.9" cy="290.1" r="1.4" fill="#d03a4c" fill-opacity="0.55"/><circle cx="839.9" cy="303.2" r="1.4" fill="#e8687a" fill-opacity="0.55"/><circle cx="839.9" cy="289.0" r="1.4" fill="#e4506a" fill-opacity="0.55"/><circle cx="839.9" cy="312.3" r="1.4" fill="#e8687a" fill-opacity="0.55"/><circle cx="841.3" cy="304.3" r="1.4" fill="#e4506a" fill-opacity="0.55"/><circle cx="841.3" cy="300.4" r="1.4" fill="#d03a4c" fill-opacity="0.55"/><circle cx="840.5" cy="306.1" r="1.4" fill="#e4506a" fill-opacity="0.55"/><circle cx="840.5" cy="289.0" r="1.4" fill="#e4506a" fill-opacity="0.55"/><circle cx="840.5" cy="291.8" r="1.4" fill="#d03a4c" fill-opacity="0.55"/><circle cx="840.5" cy="291.3" r="1.4" fill="#e8687a" fill-opacity="0.55"/><circle cx="840.5" cy="306.1" r="1.4" fill="#e4506a" fill-opacity="0.55"/><circle cx="840.5" cy="289.0" r="1.4" fill="#e8687a" fill-opacity="0.55"/><circle cx="845.0" cy="300.4" r="1.4" fill="#e4506a" fill-opacity="0.55"/><circle cx="845.0" cy="294.7" r="1.4" fill="#d03a4c" fill-opacity="0.55"/><circle cx="845.0" cy="294.7" r="1.4" fill="#e8687a" fill-opacity="0.55"/><circle cx="844.8" cy="295.8" r="1.4" fill="#e4506a" fill-opacity="0.55"/><circle cx="844.8" cy="294.7" r="1.4" fill="#e8687a" fill-opacity="0.55"/><circle cx="845.0" cy="311.7" r="1.4" fill="#e4506a" fill-opacity="0.55"/><circle cx="845.0" cy="311.7" r="1.4" fill="#d03a4c" fill-opacity="0.55"/><circle cx="845.0" cy="317.4" r="1.4" fill="#d03a4c" fill-opacity="0.55"/><circle cx="845.0" cy="300.4" r="1.4" fill="#e8687a" fill-opacity="0.55"/><circle cx="846.2" cy="306.1" r="1.4" fill="#e4506a" fill-opacity="0.55"/><circle cx="846.2" cy="306.1" r="1.4" fill="#d03a4c" fill-opacity="0.55"/><circle cx="846.2" cy="300.4" r="1.4" fill="#e8687a" fill-opacity="0.55"/><circle cx="847.6" cy="295.2" r="1.4" fill="#e4506a" fill-opacity="0.55"/><circle cx="847.6" cy="312.3" r="1.4" fill="#d03a4c" fill-opacity="0.55"/><circle cx="847.6" cy="302.6" r="1.4" fill="#e8687a" fill-opacity="0.55"/><circle cx="849.5" cy="307.8" r="1.4" fill="#e4506a" fill-opacity="0.55"/><circle cx="849.5" cy="317.4" r="1.4" fill="#d03a4c" fill-opacity="0.55"/><circle cx="849.5" cy="300.4" r="1.4" fill="#e8687a" fill-opacity="0.55"/><circle cx="849.0" cy="320.8" r="1.4" fill="#d03a4c" fill-opacity="0.55"/><circle cx="849.0" cy="289.0" r="1.4" fill="#e8687a" fill-opacity="0.55"/><circle cx="850.4" cy="302.1" r="1.4" fill="#e4506a" fill-opacity="0.55"/><circle cx="850.4" cy="310.6" r="1.4" fill="#d03a4c" fill-opacity="0.55"/><circle cx="850.4" cy="283.3" r="1.4" fill="#e8687a" fill-opacity="0.55"/><circle cx="850.4" cy="327.7" r="1.4" fill="#d03a4c" fill-opacity="0.55"/><circle cx="850.4" cy="306.6" r="1.4" fill="#e8687a" fill-opacity="0.55"/><circle cx="849.5" cy="300.4" r="1.4" fill="#e4506a" fill-opacity="0.55"/><circle cx="849.5" cy="317.4" r="1.4" fill="#d03a4c" fill-opacity="0.55"/><circle cx="849.5" cy="302.1" r="1.4" fill="#e8687a" fill-opacity="0.55"/><circle cx="851.1" cy="300.4" r="1.4" fill="#e4506a" fill-opacity="0.55"/><circle cx="851.1" cy="302.6" r="1.4" fill="#d03a4c" fill-opacity="0.55"/><circle cx="851.1" cy="312.3" r="1.4" fill="#e8687a" fill-opacity="0.55"/><circle cx="854.0" cy="294.7" r="1.4" fill="#e4506a" fill-opacity="0.55"/><circle cx="854.0" cy="306.1" r="1.4" fill="#d03a4c" fill-opacity="0.55"/><circle cx="854.0" cy="306.1" r="1.4" fill="#e8687a" fill-opacity="0.55"/><circle cx="854.0" cy="300.4" r="1.4" fill="#e4506a" fill-opacity="0.55"/><circle cx="854.0" cy="317.4" r="1.4" fill="#d03a4c" fill-opacity="0.55"/><circle cx="854.0" cy="294.7" r="1.4" fill="#e8687a" fill-opacity="0.55"/><circle cx="852.5" cy="294.7" r="1.4" fill="#e4506a" fill-opacity="0.55"/><circle cx="854.6" cy="299.2" r="1.4" fill="#e4506a" fill-opacity="0.55"/><circle cx="854.6" cy="316.9" r="1.4" fill="#d03a4c" fill-opacity="0.55"/><circle cx="854.6" cy="306.1" r="1.4" fill="#e4506a" fill-opacity="0.55"/><circle cx="854.6" cy="295.2" r="1.4" fill="#d03a4c" fill-opacity="0.55"/><circle cx="854.6" cy="294.7" r="1.4" fill="#e8687a" fill-opacity="0.55"/><circle cx="856.0" cy="311.7" r="1.4" fill="#d03a4c" fill-opacity="0.55"/><circle cx="856.0" cy="300.4" r="1.4" fill="#e8687a" fill-opacity="0.55"/><circle cx="858.1" cy="295.2" r="1.4" fill="#e4506a" fill-opacity="0.55"/><circle cx="858.1" cy="306.1" r="1.4" fill="#d03a4c" fill-opacity="0.55"/><circle cx="858.1" cy="283.3" r="1.4" fill="#e8687a" fill-opacity="0.55"/><circle cx="858.5" cy="311.7" r="1.4" fill="#d03a4c" fill-opacity="0.55"/><circle cx="858.5" cy="301.5" r="1.4" fill="#e8687a" fill-opacity="0.55"/><circle cx="861.6" cy="280.4" r="1.4" fill="#e4506a" fill-opacity="0.55"/><circle cx="861.6" cy="289.0" r="1.4" fill="#d03a4c" fill-opacity="0.55"/><circle cx="861.6" cy="317.4" r="1.4" fill="#e8687a" fill-opacity="0.55"/><circle cx="861.6" cy="303.2" r="1.4" fill="#e4506a" fill-opacity="0.55"/><circle cx="861.6" cy="308.9" r="1.4" fill="#d03a4c" fill-opacity="0.55"/><circle cx="861.6" cy="304.9" r="1.4" fill="#e8687a" fill-opacity="0.55"/><circle cx="862.3" cy="300.4" r="1.4" fill="#e4506a" fill-opacity="0.55"/><circle cx="862.3" cy="294.7" r="1.4" fill="#d03a4c" fill-opacity="0.55"/><circle cx="862.3" cy="285.0" r="1.4" fill="#e8687a" fill-opacity="0.55"/><circle cx="862.3" cy="289.0" r="1.4" fill="#e4506a" fill-opacity="0.55"/><circle cx="862.3" cy="323.1" r="1.4" fill="#d03a4c" fill-opacity="0.55"/><circle cx="862.3" cy="292.4" r="1.4" fill="#e8687a" fill-opacity="0.55"/><circle cx="863.0" cy="277.6" r="1.4" fill="#e4506a" fill-opacity="0.55"/><circle cx="863.0" cy="305.5" r="1.4" fill="#d03a4c" fill-opacity="0.55"/><circle cx="863.0" cy="286.7" r="1.4" fill="#e8687a" fill-opacity="0.55"/><circle cx="863.7" cy="311.7" r="1.4" fill="#e4506a" fill-opacity="0.55"/><circle cx="863.7" cy="294.7" r="1.4" fill="#e8687a" fill-opacity="0.55"/><circle cx="863.0" cy="311.7" r="1.4" fill="#e4506a" fill-opacity="0.55"/><circle cx="863.0" cy="277.6" r="1.4" fill="#d03a4c" fill-opacity="0.55"/><circle cx="865.1" cy="292.4" r="1.4" fill="#e4506a" fill-opacity="0.55"/><circle cx="865.1" cy="306.1" r="1.4" fill="#d03a4c" fill-opacity="0.55"/><circle cx="865.1" cy="297.5" r="1.4" fill="#e8687a" fill-opacity="0.55"/><circle cx="865.1" cy="323.1" r="1.4" fill="#e4506a" fill-opacity="0.55"/><circle cx="865.1" cy="283.9" r="1.4" fill="#e8687a" fill-opacity="0.55"/><circle cx="865.8" cy="299.8" r="1.4" fill="#e4506a" fill-opacity="0.55"/><circle cx="865.8" cy="302.1" r="1.4" fill="#d03a4c" fill-opacity="0.55"/><circle cx="865.8" cy="277.6" r="1.4" fill="#e4506a" fill-opacity="0.55"/><circle cx="865.8" cy="294.7" r="1.4" fill="#d03a4c" fill-opacity="0.55"/><circle cx="867.5" cy="296.9" r="1.4" fill="#e4506a" fill-opacity="0.55"/><circle cx="867.5" cy="295.2" r="1.4" fill="#d03a4c" fill-opacity="0.55"/><circle cx="867.5" cy="317.4" r="1.4" fill="#e8687a" fill-opacity="0.55"/><circle cx="866.5" cy="283.3" r="1.4" fill="#e4506a" fill-opacity="0.55"/><circle cx="866.5" cy="277.6" r="1.4" fill="#e8687a" fill-opacity="0.55"/><circle cx="867.2" cy="303.8" r="1.4" fill="#e4506a" fill-opacity="0.55"/><circle cx="867.2" cy="306.1" r="1.4" fill="#d03a4c" fill-opacity="0.55"/><circle cx="868.6" cy="297.5" r="1.4" fill="#e4506a" fill-opacity="0.55"/><circle cx="868.6" cy="300.4" r="1.4" fill="#d03a4c" fill-opacity="0.55"/><circle cx="868.6" cy="289.0" r="1.4" fill="#e8687a" fill-opacity="0.55"/><circle cx="872.0" cy="328.8" r="1.4" fill="#d03a4c" fill-opacity="0.55"/><circle cx="872.0" cy="300.4" r="1.4" fill="#e8687a" fill-opacity="0.55"/><circle cx="872.0" cy="289.0" r="1.4" fill="#e4506a" fill-opacity="0.55"/><circle cx="872.0" cy="289.0" r="1.4" fill="#e8687a" fill-opacity="0.55"/><circle cx="872.0" cy="300.4" r="1.4" fill="#e4506a" fill-opacity="0.55"/><circle cx="872.0" cy="317.4" r="1.4" fill="#d03a4c" fill-opacity="0.55"/><circle cx="872.0" cy="311.7" r="1.4" fill="#e8687a" fill-opacity="0.55"/><circle cx="872.0" cy="306.6" r="1.4" fill="#e4506a" fill-opacity="0.55"/><circle cx="872.0" cy="295.8" r="1.4" fill="#e4506a" fill-opacity="0.55"/><circle cx="872.0" cy="294.7" r="1.4" fill="#d03a4c" fill-opacity="0.55"/><circle cx="872.0" cy="309.5" r="1.4" fill="#e8687a" fill-opacity="0.55"/><circle cx="872.0" cy="298.1" r="1.4" fill="#e4506a" fill-opacity="0.55"/><circle cx="872.0" cy="315.7" r="1.4" fill="#d03a4c" fill-opacity="0.55"/><circle cx="872.0" cy="294.7" r="1.4" fill="#e8687a" fill-opacity="0.55"/><circle cx="873.5" cy="306.1" r="1.4" fill="#e4506a" fill-opacity="0.55"/><circle cx="873.5" cy="294.7" r="1.4" fill="#d03a4c" fill-opacity="0.55"/><circle cx="873.5" cy="294.7" r="1.4" fill="#e8687a" fill-opacity="0.55"/><circle cx="874.9" cy="294.7" r="1.4" fill="#e4506a" fill-opacity="0.55"/><circle cx="874.9" cy="306.1" r="1.4" fill="#d03a4c" fill-opacity="0.55"/><circle cx="874.9" cy="301.5" r="1.4" fill="#e8687a" fill-opacity="0.55"/><circle cx="876.3" cy="306.1" r="1.4" fill="#d03a4c" fill-opacity="0.55"/><circle cx="876.5" cy="294.7" r="1.4" fill="#d03a4c" fill-opacity="0.55"/><circle cx="876.5" cy="294.7" r="1.4" fill="#e8687a" fill-opacity="0.55"/><circle cx="876.3" cy="306.6" r="1.4" fill="#e4506a" fill-opacity="0.55"/><circle cx="878.4" cy="320.3" r="1.4" fill="#e4506a" fill-opacity="0.55"/><circle cx="878.4" cy="311.7" r="1.4" fill="#d03a4c" fill-opacity="0.55"/><circle cx="878.4" cy="296.4" r="1.4" fill="#e8687a" fill-opacity="0.55"/><circle cx="876.5" cy="300.4" r="1.4" fill="#e4506a" fill-opacity="0.55"/><circle cx="879.1" cy="283.3" r="1.4" fill="#e4506a" fill-opacity="0.55"/><circle cx="879.1" cy="289.0" r="1.4" fill="#d03a4c" fill-opacity="0.55"/><circle cx="879.1" cy="289.0" r="1.4" fill="#e8687a" fill-opacity="0.55"/><circle cx="879.1" cy="289.0" r="1.4" fill="#e4506a" fill-opacity="0.55"/><circle cx="879.1" cy="294.1" r="1.4" fill="#d03a4c" fill-opacity="0.55"/><circle cx="879.1" cy="302.1" r="1.4" fill="#e8687a" fill-opacity="0.55"/><circle cx="881.0" cy="300.4" r="1.4" fill="#d03a4c" fill-opacity="0.55"/><circle cx="881.0" cy="298.7" r="1.4" fill="#e8687a" fill-opacity="0.55"/><circle cx="879.8" cy="287.8" r="1.4" fill="#e4506a" fill-opacity="0.55"/><circle cx="879.8" cy="294.7" r="1.4" fill="#d03a4c" fill-opacity="0.55"/><circle cx="879.8" cy="283.3" r="1.4" fill="#e8687a" fill-opacity="0.55"/><circle cx="881.0" cy="300.4" r="1.4" fill="#e4506a" fill-opacity="0.55"/><circle cx="881.0" cy="289.0" r="1.4" fill="#d03a4c" fill-opacity="0.55"/><circle cx="881.0" cy="283.3" r="1.4" fill="#e4506a" fill-opacity="0.55"/><circle cx="881.0" cy="294.7" r="1.4" fill="#d03a4c" fill-opacity="0.55"/><circle cx="881.0" cy="289.0" r="1.4" fill="#e8687a" fill-opacity="0.55"/><circle cx="882.6" cy="307.2" r="1.4" fill="#e4506a" fill-opacity="0.55"/><circle cx="882.6" cy="285.0" r="1.4" fill="#d03a4c" fill-opacity="0.55"/><circle cx="882.6" cy="282.2" r="1.4" fill="#e8687a" fill-opacity="0.55"/><circle cx="884.0" cy="294.7" r="1.4" fill="#e4506a" fill-opacity="0.55"/><circle cx="884.0" cy="287.8" r="1.4" fill="#d03a4c" fill-opacity="0.55"/><circle cx="884.0" cy="300.4" r="1.4" fill="#e8687a" fill-opacity="0.55"/><circle cx="885.5" cy="285.6" r="1.4" fill="#e4506a" fill-opacity="0.55"/><circle cx="885.5" cy="289.0" r="1.4" fill="#d03a4c" fill-opacity="0.55"/><circle cx="885.5" cy="300.4" r="1.4" fill="#e8687a" fill-opacity="0.55"/><circle cx="885.5" cy="288.4" r="1.4" fill="#e4506a" fill-opacity="0.55"/><circle cx="885.5" cy="300.4" r="1.4" fill="#d03a4c" fill-opacity="0.55"/><circle cx="885.5" cy="289.0" r="1.4" fill="#e8687a" fill-opacity="0.55"/><circle cx="886.8" cy="284.4" r="1.4" fill="#e4506a" fill-opacity="0.55"/><circle cx="886.8" cy="311.7" r="1.4" fill="#d03a4c" fill-opacity="0.55"/><circle cx="886.8" cy="289.0" r="1.4" fill="#e8687a" fill-opacity="0.55"/><circle cx="885.5" cy="289.0" r="1.4" fill="#d03a4c" fill-opacity="0.55"/><circle cx="885.5" cy="277.6" r="1.4" fill="#e8687a" fill-opacity="0.55"/><circle cx="890.0" cy="288.4" r="1.4" fill="#e4506a" fill-opacity="0.55"/><circle cx="890.0" cy="289.5" r="1.4" fill="#e8687a" fill-opacity="0.55"/><circle cx="890.0" cy="291.3" r="1.4" fill="#e4506a" fill-opacity="0.55"/><circle cx="890.0" cy="286.7" r="1.4" fill="#e8687a" fill-opacity="0.55"/><circle cx="890.3" cy="288.4" r="1.4" fill="#e8687a" fill-opacity="0.55"/><circle cx="890.0" cy="287.3" r="1.4" fill="#e4506a" fill-opacity="0.55"/><circle cx="890.0" cy="287.8" r="1.4" fill="#e8687a" fill-opacity="0.55"/><circle cx="891.7" cy="279.9" r="1.4" fill="#e4506a" fill-opacity="0.55"/><circle cx="891.7" cy="283.3" r="1.4" fill="#e8687a" fill-opacity="0.55"/><circle cx="800.0" cy="294.7" r="1.4" fill="#f29aa6" fill-opacity="0.55"/><circle cx="800.0" cy="300.4" r="1.4" fill="#f29aa6" fill-opacity="0.55"/><circle cx="800.7" cy="301.5" r="1.4" fill="#f29aa6" fill-opacity="0.55"/><circle cx="802.1" cy="283.3" r="1.4" fill="#f29aa6" fill-opacity="0.55"/><circle cx="803.5" cy="283.3" r="1.4" fill="#f29aa6" fill-opacity="0.55"/><circle cx="804.5" cy="271.9" r="1.4" fill="#f29aa6" fill-opacity="0.55"/><circle cx="804.5" cy="259.4" r="1.4" fill="#f29aa6" fill-opacity="0.55"/><circle cx="806.3" cy="260.5" r="1.4" fill="#f29aa6" fill-opacity="0.55"/><circle cx="807.0" cy="277.6" r="1.4" fill="#f29aa6" fill-opacity="0.55"/><circle cx="809.0" cy="260.5" r="1.4" fill="#f29aa6" fill-opacity="0.55"/><circle cx="809.0" cy="289.0" r="1.4" fill="#f29aa6" fill-opacity="0.55"/><circle cx="809.8" cy="271.9" r="1.4" fill="#f29aa6" fill-opacity="0.55"/><circle cx="813.3" cy="254.8" r="1.4" fill="#f29aa6" fill-opacity="0.55"/><circle cx="813.5" cy="283.3" r="1.4" fill="#f29aa6" fill-opacity="0.55"/><circle cx="815.4" cy="277.6" r="1.4" fill="#f29aa6" fill-opacity="0.55"/><circle cx="818.0" cy="237.8" r="1.4" fill="#f29aa6" fill-opacity="0.55"/><circle cx="821.0" cy="260.5" r="1.4" fill="#f29aa6" fill-opacity="0.55"/><circle cx="822.4" cy="233.8" r="1.4" fill="#f29aa6" fill-opacity="0.55"/><circle cx="822.5" cy="258.3" r="1.4" fill="#f29aa6" fill-opacity="0.55"/><circle cx="825.9" cy="221.3" r="1.4" fill="#f29aa6" fill-opacity="0.55"/><circle cx="827.0" cy="220.7" r="1.4" fill="#f29aa6" fill-opacity="0.55"/><circle cx="827.0" cy="271.9" r="1.4" fill="#f29aa6" fill-opacity="0.55"/><circle cx="829.4" cy="230.9" r="1.4" fill="#f29aa6" fill-opacity="0.55"/><circle cx="831.5" cy="235.5" r="1.4" fill="#f29aa6" fill-opacity="0.55"/><circle cx="831.5" cy="266.2" r="1.4" fill="#f29aa6" fill-opacity="0.55"/><circle cx="831.5" cy="249.1" r="1.4" fill="#f29aa6" fill-opacity="0.55"/><circle cx="831.5" cy="221.8" r="1.4" fill="#f29aa6" fill-opacity="0.55"/><circle cx="835.7" cy="217.9" r="1.4" fill="#f29aa6" fill-opacity="0.55"/><circle cx="837.1" cy="227.5" r="1.4" fill="#f29aa6" fill-opacity="0.55"/><circle cx="836.0" cy="243.5" r="1.4" fill="#f29aa6" fill-opacity="0.55"/><circle cx="839.9" cy="289.5" r="1.4" fill="#f29aa6" fill-opacity="0.55"/><circle cx="839.9" cy="249.1" r="1.4" fill="#f29aa6" fill-opacity="0.55"/><circle cx="841.3" cy="208.8" r="1.4" fill="#f29aa6" fill-opacity="0.55"/><circle cx="840.5" cy="253.1" r="1.4" fill="#f29aa6" fill-opacity="0.55"/><circle cx="840.5" cy="238.3" r="1.4" fill="#f29aa6" fill-opacity="0.55"/><circle cx="840.5" cy="266.2" r="1.4" fill="#f29aa6" fill-opacity="0.55"/><circle cx="845.0" cy="237.2" r="1.4" fill="#f29aa6" fill-opacity="0.55"/><circle cx="844.8" cy="270.2" r="1.4" fill="#f29aa6" fill-opacity="0.55"/><circle cx="845.0" cy="237.8" r="1.4" fill="#f29aa6" fill-opacity="0.55"/><circle cx="849.5" cy="258.3" r="1.4" fill="#f29aa6" fill-opacity="0.55"/><circle cx="849.0" cy="237.8" r="1.4" fill="#f29aa6" fill-opacity="0.55"/><circle cx="850.4" cy="243.5" r="1.4" fill="#f29aa6" fill-opacity="0.55"/><circle cx="850.4" cy="257.1" r="1.4" fill="#f29aa6" fill-opacity="0.55"/><circle cx="851.1" cy="249.1" r="1.4" fill="#f29aa6" fill-opacity="0.55"/><circle cx="854.0" cy="266.8" r="1.4" fill="#f29aa6" fill-opacity="0.55"/><circle cx="854.6" cy="260.5" r="1.4" fill="#f29aa6" fill-opacity="0.55"/><circle cx="856.0" cy="238.9" r="1.4" fill="#f29aa6" fill-opacity="0.55"/><circle cx="861.6" cy="243.5" r="1.4" fill="#f29aa6" fill-opacity="0.55"/><circle cx="861.6" cy="260.5" r="1.4" fill="#f29aa6" fill-opacity="0.55"/><circle cx="862.3" cy="253.1" r="1.4" fill="#f29aa6" fill-opacity="0.55"/><circle cx="862.3" cy="272.5" r="1.4" fill="#f29aa6" fill-opacity="0.55"/><circle cx="863.0" cy="269.1" r="1.4" fill="#f29aa6" fill-opacity="0.55"/><circle cx="863.7" cy="277.6" r="1.4" fill="#f29aa6" fill-opacity="0.55"/><circle cx="863.0" cy="256.5" r="1.4" fill="#f29aa6" fill-opacity="0.55"/><circle cx="865.1" cy="238.3" r="1.4" fill="#f29aa6" fill-opacity="0.55"/><circle cx="865.8" cy="289.0" r="1.4" fill="#f29aa6" fill-opacity="0.55"/><circle cx="865.8" cy="266.2" r="1.4" fill="#f29aa6" fill-opacity="0.55"/><circle cx="867.5" cy="317.4" r="1.4" fill="#f29aa6" fill-opacity="0.55"/><circle cx="866.5" cy="270.8" r="1.4" fill="#f29aa6" fill-opacity="0.55"/><circle cx="867.2" cy="269.6" r="1.4" fill="#f29aa6" fill-opacity="0.55"/><circle cx="868.6" cy="270.2" r="1.4" fill="#f29aa6" fill-opacity="0.55"/><circle cx="872.0" cy="262.2" r="1.4" fill="#f29aa6" fill-opacity="0.55"/><circle cx="872.0" cy="297.5" r="1.4" fill="#f29aa6" fill-opacity="0.55"/><circle cx="872.0" cy="277.6" r="1.4" fill="#f29aa6" fill-opacity="0.55"/><circle cx="872.0" cy="260.5" r="1.4" fill="#f29aa6" fill-opacity="0.55"/><circle cx="874.9" cy="280.4" r="1.4" fill="#f29aa6" fill-opacity="0.55"/><circle cx="876.3" cy="311.2" r="1.4" fill="#f29aa6" fill-opacity="0.55"/><circle cx="876.3" cy="296.4" r="1.4" fill="#f29aa6" fill-opacity="0.55"/><circle cx="878.4" cy="311.7" r="1.4" fill="#f29aa6" fill-opacity="0.55"/><circle cx="876.5" cy="262.8" r="1.4" fill="#f29aa6" fill-opacity="0.55"/><circle cx="879.1" cy="294.7" r="1.4" fill="#f29aa6" fill-opacity="0.55"/><circle cx="881.0" cy="310.0" r="1.4" fill="#f29aa6" fill-opacity="0.55"/><circle cx="879.8" cy="285.6" r="1.4" fill="#f29aa6" fill-opacity="0.55"/><circle cx="881.0" cy="287.8" r="1.4" fill="#f29aa6" fill-opacity="0.55"/><circle cx="885.5" cy="294.7" r="1.4" fill="#f29aa6" fill-opacity="0.55"/><circle cx="885.5" cy="277.0" r="1.4" fill="#f29aa6" fill-opacity="0.55"/><circle cx="886.8" cy="300.4" r="1.4" fill="#f29aa6" fill-opacity="0.55"/><circle cx="890.0" cy="277.6" r="1.4" fill="#f29aa6" fill-opacity="0.55"/><circle cx="890.3" cy="254.8" r="1.4" fill="#f29aa6" fill-opacity="0.55"/><circle cx="890.0" cy="249.1" r="1.4" fill="#f29aa6" fill-opacity="0.55"/><circle cx="891.7" cy="260.5" r="1.4" fill="#f29aa6" fill-opacity="0.55"/><circle cx="894.5" cy="237.8" r="1.4" fill="#f29aa6" fill-opacity="0.55"/><circle cx="874.9" cy="300.4" r="1.4" fill="#808080" fill-opacity="0.55"/><circle cx="876.3" cy="294.7" r="1.4" fill="#808080" fill-opacity="0.55"/><circle cx="876.5" cy="294.7" r="1.4" fill="#808080" fill-opacity="0.55"/><circle cx="876.3" cy="294.7" r="1.4" fill="#808080" fill-opacity="0.55"/><circle cx="878.4" cy="311.7" r="1.4" fill="#808080" fill-opacity="0.55"/><circle cx="876.5" cy="306.1" r="1.4" fill="#808080" fill-opacity="0.55"/><circle cx="879.1" cy="289.0" r="1.4" fill="#808080" fill-opacity="0.55"/><circle cx="879.1" cy="289.0" r="1.4" fill="#808080" fill-opacity="0.55"/><circle cx="881.0" cy="271.9" r="1.4" fill="#808080" fill-opacity="0.55"/><circle cx="879.8" cy="283.3" r="1.4" fill="#808080" fill-opacity="0.55"/><circle cx="881.0" cy="277.6" r="1.4" fill="#808080" fill-opacity="0.55"/><circle cx="881.0" cy="271.9" r="1.4" fill="#808080" fill-opacity="0.55"/><circle cx="882.6" cy="277.6" r="1.4" fill="#808080" fill-opacity="0.55"/><circle cx="884.0" cy="289.0" r="1.4" fill="#808080" fill-opacity="0.55"/><circle cx="885.5" cy="294.7" r="1.4" fill="#808080" fill-opacity="0.55"/><circle cx="885.5" cy="260.5" r="1.4" fill="#808080" fill-opacity="0.55"/><circle cx="886.8" cy="260.5" r="1.4" fill="#808080" fill-opacity="0.55"/><circle cx="885.5" cy="277.6" r="1.4" fill="#808080" fill-opacity="0.55"/><circle cx="890.0" cy="215.0" r="1.4" fill="#808080" fill-opacity="0.55"/><circle cx="890.0" cy="237.8" r="1.4" fill="#808080" fill-opacity="0.55"/><circle cx="890.3" cy="232.1" r="1.4" fill="#808080" fill-opacity="0.55"/><circle cx="890.0" cy="226.4" r="1.4" fill="#808080" fill-opacity="0.55"/><circle cx="891.7" cy="254.8" r="1.4" fill="#808080" fill-opacity="0.55"/><circle cx="894.5" cy="226.4" r="1.4" fill="#808080" fill-opacity="0.55"/><circle cx="894.5" cy="209.3" r="1.4" fill="#808080" fill-opacity="0.55"/><circle cx="894.5" cy="192.2" r="1.4" fill="#808080" fill-opacity="0.55"/><circle cx="746.0" cy="328.8" r="1.4" fill="#f29aa6" fill-opacity="0.55"/><circle cx="752.5" cy="328.8" r="1.4" fill="#f29aa6" fill-opacity="0.55"/><circle cx="756.5" cy="328.8" r="1.4" fill="#f29aa6" fill-opacity="0.55"/><circle cx="760.0" cy="328.8" r="1.4" fill="#f29aa6" fill-opacity="0.55"/><circle cx="762.5" cy="317.4" r="1.4" fill="#f29aa6" fill-opacity="0.55"/><circle cx="764.5" cy="317.4" r="1.4" fill="#f29aa6" fill-opacity="0.55"/><circle cx="765.5" cy="317.4" r="1.4" fill="#f29aa6" fill-opacity="0.55"/><circle cx="772.5" cy="317.4" r="1.4" fill="#f29aa6" fill-opacity="0.55"/><circle cx="777.0" cy="306.1" r="1.4" fill="#f29aa6" fill-opacity="0.55"/><circle cx="778.0" cy="306.1" r="1.4" fill="#f29aa6" fill-opacity="0.55"/><circle cx="784.0" cy="300.4" r="1.4" fill="#f29aa6" fill-opacity="0.55"/><circle cx="786.0" cy="306.1" r="1.4" fill="#f29aa6" fill-opacity="0.55"/><circle cx="794.0" cy="294.7" r="1.4" fill="#f29aa6" fill-opacity="0.55"/><circle cx="797.0" cy="289.0" r="1.4" fill="#f29aa6" fill-opacity="0.55"/><circle cx="801.8" cy="334.5" r="1.4" fill="#8b1a2b" fill-opacity="0.55"/><circle cx="820.0" cy="334.5" r="1.4" fill="#6b9bd0" fill-opacity="0.55"/><circle cx="826.0" cy="334.5" r="1.4" fill="#6b9bd0" fill-opacity="0.55"/><circle cx="845.0" cy="334.5" r="1.4" fill="#8b1a2b" fill-opacity="0.55"/><circle cx="850.0" cy="334.5" r="1.4" fill="#6b9bd0" fill-opacity="0.55"/><circle cx="857.0" cy="334.5" r="1.4" fill="#6b9bd0" fill-opacity="0.55"/><circle cx="868.0" cy="334.5" r="1.4" fill="#6b9bd0" fill-opacity="0.55"/><circle cx="876.0" cy="334.5" r="1.4" fill="#2f6fbe" fill-opacity="0.55"/><circle cx="884.0" cy="334.5" r="1.4" fill="#2f6fbe" fill-opacity="0.55"/><circle cx="700.0" cy="334.5" r="1.4" fill="#2f6fbe" fill-opacity="0.55"/><circle cx="742.0" cy="334.5" r="1.4" fill="#8b1a2b" fill-opacity="0.55"/><circle cx="660.0" cy="334.5" r="1.4" fill="#6b9bd0" fill-opacity="0.55"/>
<path d="M80.50 135.75C89.58 137.58 113.42 142.62 135.00 146.75C156.58 150.88 185.00 156.62 210.00 160.50C235.00 164.38 260.00 166.75 285.00 170.00C310.00 173.25 339.17 177.62 360.00 180.00C380.83 182.38 394.17 183.29 410.00 184.25C425.83 185.21 440.42 185.92 455.00 185.75C469.58 185.58 483.33 185.04 497.50 183.25C511.67 181.46 527.50 178.12 540.00 175.00C552.50 171.88 562.08 168.12 572.50 164.50C582.92 160.88 592.08 156.79 602.50 153.25C612.92 149.71 624.58 146.71 635.00 143.25C645.42 139.79 655.83 135.62 665.00 132.50C674.17 129.38 681.67 127.21 690.00 124.50C698.33 121.79 707.50 118.54 715.00 116.25C722.50 113.96 728.75 111.92 735.00 110.75C741.25 109.58 747.50 109.46 752.50 109.25C757.50 109.04 760.00 109.25 765.00 109.50C770.00 109.75 776.67 109.62 782.50 110.75C788.33 111.88 794.58 114.29 800.00 116.25C805.42 118.21 810.83 121.17 815.00 122.50C819.17 123.83 821.83 124.12 825.00 124.25C828.17 124.38 830.67 124.29 834.00 123.25C837.33 122.21 841.08 120.42 845.00 118.00C848.92 115.58 854.00 111.75 857.50 108.75C861.00 105.75 863.92 102.29 866.00 100.00C868.08 97.71 867.67 97.92 870.00 95.00C872.33 92.08 876.67 87.08 880.00 82.50C883.33 77.92 887.42 71.46 890.00 67.50C892.58 63.54 894.58 60.21 895.50 58.75" stroke="#0a4f94" stroke-width="1.4" fill="none" stroke-linecap="butt"/>
<path d="M80.50 289.75C93.75 291.38 131.75 296.29 160.00 299.50C188.25 302.71 205.00 305.92 250.00 309.00C295.00 312.08 371.67 315.83 430.00 318.00C488.33 320.17 545.00 320.83 600.00 322.00C655.00 323.17 710.83 324.17 760.00 325.00C809.17 325.83 872.50 326.67 895.00 327.00" stroke="#f7c9cd" stroke-width="0.8" fill="none" stroke-linecap="butt"/>
<path d="M275.00 331.30C294.17 330.00 355.83 325.38 390.00 323.50C424.17 321.62 445.00 320.58 480.00 320.00C515.00 319.42 563.33 319.67 600.00 320.00C636.67 320.33 666.67 321.17 700.00 322.00C733.33 322.83 767.50 324.00 800.00 325.00C832.50 326.00 879.17 327.50 895.00 328.00" stroke="#6b9bd0" stroke-width="0.9" fill="none" stroke-linecap="butt"/>
<path d="M80.50 309.25C108.75 309.88 191.75 311.21 250.00 313.00C308.25 314.79 371.67 318.67 430.00 320.00C488.33 321.33 555.00 320.83 600.00 321.00C645.00 321.17 666.67 320.83 700.00 321.00C733.33 321.17 767.50 321.33 800.00 322.00C832.50 322.67 879.17 324.50 895.00 325.00" stroke="#ec8491" stroke-width="1.15" fill="none" stroke-linecap="butt"/>
<path d="M80.50 311.80C108.75 312.92 191.75 317.05 250.00 318.50C308.25 319.95 391.67 320.37 430.00 320.50C468.33 320.63 451.67 319.50 480.00 319.30C508.33 319.10 563.33 319.52 600.00 319.30C636.67 319.08 666.67 318.38 700.00 318.00C733.33 317.62 773.33 316.33 800.00 317.00C826.67 317.67 844.17 320.83 860.00 322.00C875.83 323.17 889.17 323.67 895.00 324.00" stroke="#2f6fbe" stroke-width="1.15" fill="none" stroke-linecap="butt"/>
<path d="M80.50 300.00C108.75 301.38 191.75 306.18 250.00 308.30C308.25 310.42 385.00 311.58 430.00 312.70C475.00 313.82 491.67 314.20 520.00 315.00C548.33 315.80 570.00 316.07 600.00 317.50C630.00 318.93 666.67 322.02 700.00 323.60C733.33 325.18 767.50 326.60 800.00 327.00C832.50 327.40 879.17 326.17 895.00 326.00" stroke="#45b5b5" stroke-width="1.15" fill="none" stroke-linecap="butt"/>
<path d="M80.50 292.00C93.75 293.50 131.75 298.00 160.00 301.00C188.25 304.00 205.00 306.88 250.00 310.00C295.00 313.12 386.67 317.62 430.00 319.75C473.33 321.88 481.67 322.00 510.00 322.75C538.33 323.50 571.67 324.11 600.00 324.25C628.33 324.39 653.33 324.14 680.00 323.60C706.67 323.06 740.00 321.27 760.00 321.00C780.00 320.73 783.33 322.00 800.00 322.00C816.67 322.00 845.33 321.50 860.00 321.00C874.67 320.50 883.33 319.33 888.00 319.00" stroke="#8b1a2b" stroke-width="1.3" fill="none" stroke-linecap="butt"/>
<path d="M80.50 238.00C96.67 243.21 154.92 262.25 177.50 269.25C200.08 276.25 203.92 276.96 216.00 280.00C228.08 283.04 231.83 284.38 250.00 287.50C268.17 290.62 300.00 295.12 325.00 298.75C350.00 302.38 382.50 306.75 400.00 309.25C417.50 311.75 416.67 312.29 430.00 313.75C443.33 315.21 461.67 316.88 480.00 318.00C498.33 319.12 516.67 319.83 540.00 320.50C563.33 321.17 593.33 321.75 620.00 322.00C646.67 322.25 680.00 322.33 700.00 322.00C720.00 321.67 728.33 321.83 740.00 320.00C751.67 318.17 760.00 314.33 770.00 311.00C780.00 307.67 790.00 302.50 800.00 300.00C810.00 297.50 820.00 296.50 830.00 296.00C840.00 295.50 851.67 297.00 860.00 297.00C868.33 297.00 874.67 296.83 880.00 296.00C885.33 295.17 890.00 292.67 892.00 292.00" stroke="#e2414f" stroke-width="1.1" fill="none" stroke-linecap="butt"/>
<path d="M80.50 292.00C108.75 292.70 191.75 293.78 250.00 296.20C308.25 298.62 386.67 304.20 430.00 306.50C473.33 308.80 481.67 309.04 510.00 310.00C538.33 310.96 571.67 312.52 600.00 312.25C628.33 311.98 653.33 309.94 680.00 308.40C706.67 306.86 740.00 305.07 760.00 303.00C780.00 300.93 788.33 296.25 800.00 296.00C811.67 295.75 821.67 300.33 830.00 301.50C838.33 302.67 844.00 303.08 850.00 303.00C856.00 302.92 861.50 301.92 866.00 301.00C870.50 300.08 873.33 298.67 877.00 297.50C880.67 296.33 886.17 294.58 888.00 294.00" stroke="#c4202f" stroke-width="1.3" fill="none" stroke-linecap="butt"/>
<path d="M80.50 315.00C108.75 316.22 191.75 321.26 250.00 322.30C308.25 323.34 391.67 321.85 430.00 321.25C468.33 320.65 461.67 319.45 480.00 318.70C498.33 317.95 520.00 317.70 540.00 316.75C560.00 315.80 576.67 313.96 600.00 313.00C623.33 312.04 656.67 310.67 680.00 311.00C703.33 311.33 720.00 313.25 740.00 315.00C760.00 316.75 780.00 320.42 800.00 321.50C820.00 322.58 847.67 321.75 860.00 321.50C872.33 321.25 870.00 320.82 874.00 320.00C878.00 319.18 881.21 317.93 884.00 316.60C886.79 315.27 889.08 313.68 890.75 312.00C892.42 310.32 893.25 308.35 894.00 306.50C894.75 304.65 895.04 301.83 895.25 300.90" stroke="#f98a3a" stroke-width="1.7" fill="none" stroke-linecap="butt"/>
<path d="M538.00 328.50C540.00 326.92 546.33 321.58 550.00 319.00C553.67 316.42 555.00 315.33 560.00 313.00C565.00 310.67 573.33 307.25 580.00 305.00C586.67 302.75 593.33 301.17 600.00 299.50C606.67 297.83 613.33 295.92 620.00 295.00C626.67 294.08 633.33 294.00 640.00 294.00C646.67 294.00 653.33 294.23 660.00 295.00C666.67 295.77 670.00 297.77 680.00 298.60C690.00 299.43 708.33 300.03 720.00 300.00C731.67 299.97 741.67 298.40 750.00 298.40C758.33 298.40 763.33 298.57 770.00 300.00C776.67 301.43 785.00 305.17 790.00 307.00C795.00 308.83 793.33 308.67 800.00 311.00C806.67 313.33 820.00 318.33 830.00 321.00C840.00 323.67 850.67 325.50 860.00 327.00C869.33 328.50 881.67 329.50 886.00 330.00" stroke="#0a73c9" stroke-width="1.45" fill="none" stroke-linecap="butt"/>
<path d="M745.00 326.00C747.50 325.33 754.17 325.00 760.00 322.00C765.83 319.00 775.00 312.00 780.00 308.00C785.00 304.00 786.67 301.42 790.00 298.00C793.33 294.58 797.08 292.00 800.00 287.50C802.92 283.00 805.00 276.00 807.50 271.00C810.00 266.00 812.92 261.00 815.00 257.50C817.08 254.00 818.17 252.17 820.00 250.00C821.83 247.83 823.75 245.83 826.00 244.50C828.25 243.17 831.17 242.08 833.50 242.00C835.83 241.92 837.58 243.08 840.00 244.00C842.42 244.92 845.17 245.83 848.00 247.50C850.83 249.17 854.00 251.42 857.00 254.00C860.00 256.58 863.38 259.88 866.00 263.00C868.62 266.12 870.92 269.62 872.75 272.75C874.58 275.88 875.62 278.54 877.00 281.75C878.38 284.96 879.92 289.54 881.00 292.00C882.08 294.46 882.67 296.67 883.50 296.50C884.33 296.33 885.25 293.75 886.00 291.00C886.75 288.25 887.21 283.83 888.00 280.00C888.79 276.17 889.92 273.00 890.75 268.00C891.58 263.00 892.25 256.00 893.00 250.00C893.75 244.00 894.82 235.83 895.25 232.00C895.68 228.17 895.54 227.83 895.60 227.00" stroke="#ee6b7c" stroke-width="1.0" fill="none" stroke-linecap="butt"/>
<path d="M131.25 280.00C138.96 278.21 153.54 274.46 177.50 269.25C201.46 264.04 237.92 256.25 275.00 248.75C312.08 241.25 370.83 229.96 400.00 224.25C429.17 218.54 433.33 217.50 450.00 214.50C466.67 211.50 483.33 208.88 500.00 206.25C516.67 203.62 537.50 200.62 550.00 198.75C562.50 196.88 566.67 195.92 575.00 195.00C583.33 194.08 591.67 193.33 600.00 193.25C608.33 193.17 616.67 193.58 625.00 194.50C633.33 195.42 641.67 197.33 650.00 198.75C658.33 200.17 666.67 201.25 675.00 203.00C683.33 204.75 693.33 207.46 700.00 209.25C706.67 211.04 711.25 212.58 715.00 213.75C718.75 214.92 720.00 215.00 722.50 216.25C725.00 217.50 727.08 218.96 730.00 221.25C732.92 223.54 736.25 226.67 740.00 230.00C743.75 233.33 748.33 237.29 752.50 241.25C756.67 245.21 760.83 249.58 765.00 253.75C769.17 257.92 773.33 262.08 777.50 266.25C781.67 270.42 786.25 275.21 790.00 278.75C793.75 282.29 796.67 285.04 800.00 287.50C803.33 289.96 806.67 292.00 810.00 293.50C813.33 295.00 816.67 295.83 820.00 296.50C823.33 297.17 825.00 296.96 830.00 297.50C835.00 298.04 844.00 299.57 850.00 299.75C856.00 299.93 861.50 299.35 866.00 298.60C870.50 297.85 873.67 296.75 877.00 295.25C880.33 293.75 883.33 291.48 886.00 289.60C888.67 287.73 891.83 284.93 893.00 284.00" stroke="#dc1f33" stroke-width="1.3" fill="none" stroke-linecap="butt"/>
<path d="M874.50 304.00L876.50 295.00L878.00 289.00L880.60 283.00L882.40 280.50L884.00 283.00L886.25 264.00L889.00 230.00L890.00 215.00L892.40 224.00L896.40 206.00" stroke="#808080" stroke-width="1.0" fill="none" stroke-linejoin="round"/>
</svg></body></html>
